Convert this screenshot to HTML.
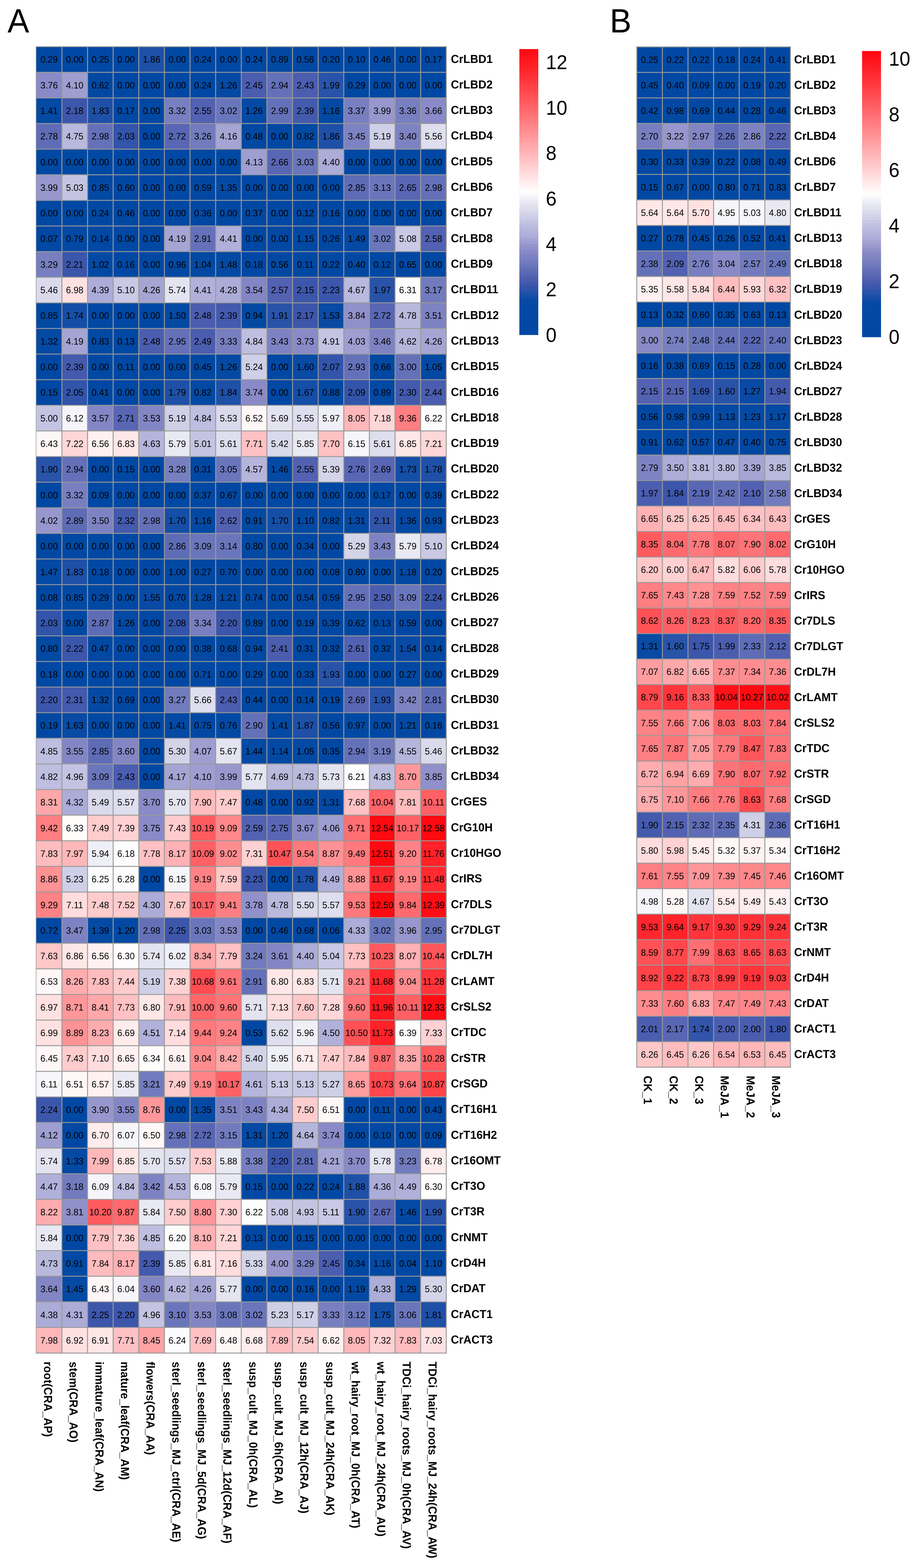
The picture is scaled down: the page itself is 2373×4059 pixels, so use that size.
<!DOCTYPE html>
<html><head><meta charset="utf-8"><title>Heatmap</title>
<style>html,body{margin:0;padding:0;background:#fff;}svg{display:block;}</style></head>
<body><svg width="2373" height="4059" viewBox="0 0 2373 4059" font-family="'Liberation Sans', Arial, Helvetica, sans-serif" fill="#000" text-rendering="geometricPrecision">
<rect width="2373" height="4059" fill="#fff"/>
<rect x="93.9" y="120.85" width="66.91" height="66.91" fill="#0148a3"/>
<rect x="160.21" y="120.85" width="66.91" height="66.91" fill="#0048a3"/>
<rect x="226.52" y="120.85" width="66.91" height="66.91" fill="#0048a3"/>
<rect x="292.83" y="120.85" width="66.91" height="66.91" fill="#0048a3"/>
<rect x="359.14" y="120.85" width="66.91" height="66.91" fill="#1e50a7"/>
<rect x="425.45" y="120.85" width="66.91" height="66.91" fill="#0048a3"/>
<rect x="491.76" y="120.85" width="66.91" height="66.91" fill="#0048a3"/>
<rect x="558.07" y="120.85" width="66.91" height="66.91" fill="#0048a3"/>
<rect x="624.38" y="120.85" width="66.91" height="66.91" fill="#0048a3"/>
<rect x="690.69" y="120.85" width="66.91" height="66.91" fill="#0249a3"/>
<rect x="757" y="120.85" width="66.91" height="66.91" fill="#0248a3"/>
<rect x="823.31" y="120.85" width="66.91" height="66.91" fill="#0048a3"/>
<rect x="889.62" y="120.85" width="66.91" height="66.91" fill="#0048a3"/>
<rect x="955.93" y="120.85" width="66.91" height="66.91" fill="#0148a3"/>
<rect x="1022.24" y="120.85" width="66.91" height="66.91" fill="#0048a3"/>
<rect x="1088.55" y="120.85" width="66.91" height="66.91" fill="#0048a3"/>
<rect x="93.9" y="187.16" width="66.91" height="66.91" fill="#898ac7"/>
<rect x="160.21" y="187.16" width="66.91" height="66.91" fill="#9e9ed1"/>
<rect x="226.52" y="187.16" width="66.91" height="66.91" fill="#0248a3"/>
<rect x="292.83" y="187.16" width="66.91" height="66.91" fill="#0048a3"/>
<rect x="359.14" y="187.16" width="66.91" height="66.91" fill="#0048a3"/>
<rect x="425.45" y="187.16" width="66.91" height="66.91" fill="#0048a3"/>
<rect x="491.76" y="187.16" width="66.91" height="66.91" fill="#0048a3"/>
<rect x="558.07" y="187.16" width="66.91" height="66.91" fill="#0449a3"/>
<rect x="624.38" y="187.16" width="66.91" height="66.91" fill="#4b5daf"/>
<rect x="690.69" y="187.16" width="66.91" height="66.91" fill="#6471b9"/>
<rect x="757" y="187.16" width="66.91" height="66.91" fill="#4b5daf"/>
<rect x="823.31" y="187.16" width="66.91" height="66.91" fill="#2853a9"/>
<rect x="889.62" y="187.16" width="66.91" height="66.91" fill="#0148a3"/>
<rect x="955.93" y="187.16" width="66.91" height="66.91" fill="#0048a3"/>
<rect x="1022.24" y="187.16" width="66.91" height="66.91" fill="#0048a3"/>
<rect x="1088.55" y="187.16" width="66.91" height="66.91" fill="#0048a3"/>
<rect x="93.9" y="253.47" width="66.91" height="66.91" fill="#0449a3"/>
<rect x="160.21" y="253.47" width="66.91" height="66.91" fill="#3c56ab"/>
<rect x="226.52" y="253.47" width="66.91" height="66.91" fill="#1e50a7"/>
<rect x="292.83" y="253.47" width="66.91" height="66.91" fill="#0048a3"/>
<rect x="359.14" y="253.47" width="66.91" height="66.91" fill="#0048a3"/>
<rect x="425.45" y="253.47" width="66.91" height="66.91" fill="#777fc0"/>
<rect x="491.76" y="253.47" width="66.91" height="66.91" fill="#5261b1"/>
<rect x="558.07" y="253.47" width="66.91" height="66.91" fill="#6a76bb"/>
<rect x="624.38" y="253.47" width="66.91" height="66.91" fill="#0449a3"/>
<rect x="690.69" y="253.47" width="66.91" height="66.91" fill="#6471b9"/>
<rect x="757" y="253.47" width="66.91" height="66.91" fill="#435aad"/>
<rect x="823.31" y="253.47" width="66.91" height="66.91" fill="#0349a3"/>
<rect x="889.62" y="253.47" width="66.91" height="66.91" fill="#777fc0"/>
<rect x="955.93" y="253.47" width="66.91" height="66.91" fill="#9797cd"/>
<rect x="1022.24" y="253.47" width="66.91" height="66.91" fill="#777fc0"/>
<rect x="1088.55" y="253.47" width="66.91" height="66.91" fill="#898ac7"/>
<rect x="93.9" y="319.78" width="66.91" height="66.91" fill="#5e6cb6"/>
<rect x="160.21" y="319.78" width="66.91" height="66.91" fill="#b9b9de"/>
<rect x="226.52" y="319.78" width="66.91" height="66.91" fill="#6471b9"/>
<rect x="292.83" y="319.78" width="66.91" height="66.91" fill="#3254aa"/>
<rect x="359.14" y="319.78" width="66.91" height="66.91" fill="#0048a3"/>
<rect x="425.45" y="319.78" width="66.91" height="66.91" fill="#5866b4"/>
<rect x="491.76" y="319.78" width="66.91" height="66.91" fill="#717bbd"/>
<rect x="558.07" y="319.78" width="66.91" height="66.91" fill="#a5a5d4"/>
<rect x="624.38" y="319.78" width="66.91" height="66.91" fill="#0148a3"/>
<rect x="690.69" y="319.78" width="66.91" height="66.91" fill="#0048a3"/>
<rect x="757" y="319.78" width="66.91" height="66.91" fill="#0249a3"/>
<rect x="823.31" y="319.78" width="66.91" height="66.91" fill="#1e50a7"/>
<rect x="889.62" y="319.78" width="66.91" height="66.91" fill="#7d83c2"/>
<rect x="955.93" y="319.78" width="66.91" height="66.91" fill="#cfcfe7"/>
<rect x="1022.24" y="319.78" width="66.91" height="66.91" fill="#7d83c2"/>
<rect x="1088.55" y="319.78" width="66.91" height="66.91" fill="#dedeee"/>
<rect x="93.9" y="386.09" width="66.91" height="66.91" fill="#0048a3"/>
<rect x="160.21" y="386.09" width="66.91" height="66.91" fill="#0048a3"/>
<rect x="226.52" y="386.09" width="66.91" height="66.91" fill="#0048a3"/>
<rect x="292.83" y="386.09" width="66.91" height="66.91" fill="#0048a3"/>
<rect x="359.14" y="386.09" width="66.91" height="66.91" fill="#0048a3"/>
<rect x="425.45" y="386.09" width="66.91" height="66.91" fill="#0048a3"/>
<rect x="491.76" y="386.09" width="66.91" height="66.91" fill="#0048a3"/>
<rect x="558.07" y="386.09" width="66.91" height="66.91" fill="#0048a3"/>
<rect x="624.38" y="386.09" width="66.91" height="66.91" fill="#9e9ed1"/>
<rect x="690.69" y="386.09" width="66.91" height="66.91" fill="#5866b4"/>
<rect x="757" y="386.09" width="66.91" height="66.91" fill="#6a76bb"/>
<rect x="823.31" y="386.09" width="66.91" height="66.91" fill="#acacd8"/>
<rect x="889.62" y="386.09" width="66.91" height="66.91" fill="#0048a3"/>
<rect x="955.93" y="386.09" width="66.91" height="66.91" fill="#0048a3"/>
<rect x="1022.24" y="386.09" width="66.91" height="66.91" fill="#0048a3"/>
<rect x="1088.55" y="386.09" width="66.91" height="66.91" fill="#0048a3"/>
<rect x="93.9" y="452.4" width="66.91" height="66.91" fill="#9797cd"/>
<rect x="160.21" y="452.4" width="66.91" height="66.91" fill="#c4c4e2"/>
<rect x="226.52" y="452.4" width="66.91" height="66.91" fill="#0249a3"/>
<rect x="292.83" y="452.4" width="66.91" height="66.91" fill="#0248a3"/>
<rect x="359.14" y="452.4" width="66.91" height="66.91" fill="#0048a3"/>
<rect x="425.45" y="452.4" width="66.91" height="66.91" fill="#0048a3"/>
<rect x="491.76" y="452.4" width="66.91" height="66.91" fill="#0248a3"/>
<rect x="558.07" y="452.4" width="66.91" height="66.91" fill="#0449a3"/>
<rect x="624.38" y="452.4" width="66.91" height="66.91" fill="#0048a3"/>
<rect x="690.69" y="452.4" width="66.91" height="66.91" fill="#0048a3"/>
<rect x="757" y="452.4" width="66.91" height="66.91" fill="#0048a3"/>
<rect x="823.31" y="452.4" width="66.91" height="66.91" fill="#0048a3"/>
<rect x="889.62" y="452.4" width="66.91" height="66.91" fill="#5e6cb6"/>
<rect x="955.93" y="452.4" width="66.91" height="66.91" fill="#6a76bb"/>
<rect x="1022.24" y="452.4" width="66.91" height="66.91" fill="#5866b4"/>
<rect x="1088.55" y="452.4" width="66.91" height="66.91" fill="#6471b9"/>
<rect x="93.9" y="518.71" width="66.91" height="66.91" fill="#0048a3"/>
<rect x="160.21" y="518.71" width="66.91" height="66.91" fill="#0048a3"/>
<rect x="226.52" y="518.71" width="66.91" height="66.91" fill="#0048a3"/>
<rect x="292.83" y="518.71" width="66.91" height="66.91" fill="#0148a3"/>
<rect x="359.14" y="518.71" width="66.91" height="66.91" fill="#0048a3"/>
<rect x="425.45" y="518.71" width="66.91" height="66.91" fill="#0048a3"/>
<rect x="491.76" y="518.71" width="66.91" height="66.91" fill="#0148a3"/>
<rect x="558.07" y="518.71" width="66.91" height="66.91" fill="#0048a3"/>
<rect x="624.38" y="518.71" width="66.91" height="66.91" fill="#0148a3"/>
<rect x="690.69" y="518.71" width="66.91" height="66.91" fill="#0048a3"/>
<rect x="757" y="518.71" width="66.91" height="66.91" fill="#0048a3"/>
<rect x="823.31" y="518.71" width="66.91" height="66.91" fill="#0048a3"/>
<rect x="889.62" y="518.71" width="66.91" height="66.91" fill="#0048a3"/>
<rect x="955.93" y="518.71" width="66.91" height="66.91" fill="#0048a3"/>
<rect x="1022.24" y="518.71" width="66.91" height="66.91" fill="#0048a3"/>
<rect x="1088.55" y="518.71" width="66.91" height="66.91" fill="#0048a3"/>
<rect x="93.9" y="585.02" width="66.91" height="66.91" fill="#0048a3"/>
<rect x="160.21" y="585.02" width="66.91" height="66.91" fill="#0249a3"/>
<rect x="226.52" y="585.02" width="66.91" height="66.91" fill="#0048a3"/>
<rect x="292.83" y="585.02" width="66.91" height="66.91" fill="#0048a3"/>
<rect x="359.14" y="585.02" width="66.91" height="66.91" fill="#0048a3"/>
<rect x="425.45" y="585.02" width="66.91" height="66.91" fill="#a5a5d4"/>
<rect x="491.76" y="585.02" width="66.91" height="66.91" fill="#6471b9"/>
<rect x="558.07" y="585.02" width="66.91" height="66.91" fill="#b0b0da"/>
<rect x="624.38" y="585.02" width="66.91" height="66.91" fill="#0048a3"/>
<rect x="690.69" y="585.02" width="66.91" height="66.91" fill="#0048a3"/>
<rect x="757" y="585.02" width="66.91" height="66.91" fill="#0349a3"/>
<rect x="823.31" y="585.02" width="66.91" height="66.91" fill="#0148a3"/>
<rect x="889.62" y="585.02" width="66.91" height="66.91" fill="#0449a3"/>
<rect x="955.93" y="585.02" width="66.91" height="66.91" fill="#6a76bb"/>
<rect x="1022.24" y="585.02" width="66.91" height="66.91" fill="#c9c9e5"/>
<rect x="1088.55" y="585.02" width="66.91" height="66.91" fill="#5261b1"/>
<rect x="93.9" y="651.33" width="66.91" height="66.91" fill="#777fc0"/>
<rect x="160.21" y="651.33" width="66.91" height="66.91" fill="#3c56ab"/>
<rect x="226.52" y="651.33" width="66.91" height="66.91" fill="#0349a3"/>
<rect x="292.83" y="651.33" width="66.91" height="66.91" fill="#0048a3"/>
<rect x="359.14" y="651.33" width="66.91" height="66.91" fill="#0048a3"/>
<rect x="425.45" y="651.33" width="66.91" height="66.91" fill="#0249a3"/>
<rect x="491.76" y="651.33" width="66.91" height="66.91" fill="#0349a3"/>
<rect x="558.07" y="651.33" width="66.91" height="66.91" fill="#0449a3"/>
<rect x="624.38" y="651.33" width="66.91" height="66.91" fill="#0048a3"/>
<rect x="690.69" y="651.33" width="66.91" height="66.91" fill="#0248a3"/>
<rect x="757" y="651.33" width="66.91" height="66.91" fill="#0048a3"/>
<rect x="823.31" y="651.33" width="66.91" height="66.91" fill="#0048a3"/>
<rect x="889.62" y="651.33" width="66.91" height="66.91" fill="#0148a3"/>
<rect x="955.93" y="651.33" width="66.91" height="66.91" fill="#0048a3"/>
<rect x="1022.24" y="651.33" width="66.91" height="66.91" fill="#0248a3"/>
<rect x="1088.55" y="651.33" width="66.91" height="66.91" fill="#0048a3"/>
<rect x="93.9" y="717.64" width="66.91" height="66.91" fill="#dadaec"/>
<rect x="160.21" y="717.64" width="66.91" height="66.91" fill="#ffe1e2"/>
<rect x="226.52" y="717.64" width="66.91" height="66.91" fill="#acacd8"/>
<rect x="292.83" y="717.64" width="66.91" height="66.91" fill="#c9c9e5"/>
<rect x="359.14" y="717.64" width="66.91" height="66.91" fill="#a5a5d4"/>
<rect x="425.45" y="717.64" width="66.91" height="66.91" fill="#e4e4f1"/>
<rect x="491.76" y="717.64" width="66.91" height="66.91" fill="#b0b0da"/>
<rect x="558.07" y="717.64" width="66.91" height="66.91" fill="#acacd8"/>
<rect x="624.38" y="717.64" width="66.91" height="66.91" fill="#8386c4"/>
<rect x="690.69" y="717.64" width="66.91" height="66.91" fill="#5261b1"/>
<rect x="757" y="717.64" width="66.91" height="66.91" fill="#3c56ab"/>
<rect x="823.31" y="717.64" width="66.91" height="66.91" fill="#3c56ab"/>
<rect x="889.62" y="717.64" width="66.91" height="66.91" fill="#b9b9de"/>
<rect x="955.93" y="717.64" width="66.91" height="66.91" fill="#2853a9"/>
<rect x="1022.24" y="717.64" width="66.91" height="66.91" fill="#fffcfc"/>
<rect x="1088.55" y="717.64" width="66.91" height="66.91" fill="#717bbd"/>
<rect x="93.9" y="783.95" width="66.91" height="66.91" fill="#0249a3"/>
<rect x="160.21" y="783.95" width="66.91" height="66.91" fill="#144ea6"/>
<rect x="226.52" y="783.95" width="66.91" height="66.91" fill="#0048a3"/>
<rect x="292.83" y="783.95" width="66.91" height="66.91" fill="#0048a3"/>
<rect x="359.14" y="783.95" width="66.91" height="66.91" fill="#0048a3"/>
<rect x="425.45" y="783.95" width="66.91" height="66.91" fill="#0449a3"/>
<rect x="491.76" y="783.95" width="66.91" height="66.91" fill="#4b5daf"/>
<rect x="558.07" y="783.95" width="66.91" height="66.91" fill="#435aad"/>
<rect x="624.38" y="783.95" width="66.91" height="66.91" fill="#0249a3"/>
<rect x="690.69" y="783.95" width="66.91" height="66.91" fill="#2853a9"/>
<rect x="757" y="783.95" width="66.91" height="66.91" fill="#3c56ab"/>
<rect x="823.31" y="783.95" width="66.91" height="66.91" fill="#094aa4"/>
<rect x="889.62" y="783.95" width="66.91" height="66.91" fill="#9090ca"/>
<rect x="955.93" y="783.95" width="66.91" height="66.91" fill="#5866b4"/>
<rect x="1022.24" y="783.95" width="66.91" height="66.91" fill="#b9b9de"/>
<rect x="1088.55" y="783.95" width="66.91" height="66.91" fill="#7d83c2"/>
<rect x="93.9" y="850.26" width="66.91" height="66.91" fill="#0449a3"/>
<rect x="160.21" y="850.26" width="66.91" height="66.91" fill="#a5a5d4"/>
<rect x="226.52" y="850.26" width="66.91" height="66.91" fill="#0249a3"/>
<rect x="292.83" y="850.26" width="66.91" height="66.91" fill="#0048a3"/>
<rect x="359.14" y="850.26" width="66.91" height="66.91" fill="#4b5daf"/>
<rect x="425.45" y="850.26" width="66.91" height="66.91" fill="#6471b9"/>
<rect x="491.76" y="850.26" width="66.91" height="66.91" fill="#4b5daf"/>
<rect x="558.07" y="850.26" width="66.91" height="66.91" fill="#777fc0"/>
<rect x="624.38" y="850.26" width="66.91" height="66.91" fill="#bebee0"/>
<rect x="690.69" y="850.26" width="66.91" height="66.91" fill="#7d83c2"/>
<rect x="757" y="850.26" width="66.91" height="66.91" fill="#898ac7"/>
<rect x="823.31" y="850.26" width="66.91" height="66.91" fill="#c4c4e2"/>
<rect x="889.62" y="850.26" width="66.91" height="66.91" fill="#9e9ed1"/>
<rect x="955.93" y="850.26" width="66.91" height="66.91" fill="#7d83c2"/>
<rect x="1022.24" y="850.26" width="66.91" height="66.91" fill="#b5b5dc"/>
<rect x="1088.55" y="850.26" width="66.91" height="66.91" fill="#a5a5d4"/>
<rect x="93.9" y="916.57" width="66.91" height="66.91" fill="#0048a3"/>
<rect x="160.21" y="916.57" width="66.91" height="66.91" fill="#435aad"/>
<rect x="226.52" y="916.57" width="66.91" height="66.91" fill="#0048a3"/>
<rect x="292.83" y="916.57" width="66.91" height="66.91" fill="#0048a3"/>
<rect x="359.14" y="916.57" width="66.91" height="66.91" fill="#0048a3"/>
<rect x="425.45" y="916.57" width="66.91" height="66.91" fill="#0048a3"/>
<rect x="491.76" y="916.57" width="66.91" height="66.91" fill="#0148a3"/>
<rect x="558.07" y="916.57" width="66.91" height="66.91" fill="#0449a3"/>
<rect x="624.38" y="916.57" width="66.91" height="66.91" fill="#cfcfe7"/>
<rect x="690.69" y="916.57" width="66.91" height="66.91" fill="#0048a3"/>
<rect x="757" y="916.57" width="66.91" height="66.91" fill="#094aa4"/>
<rect x="823.31" y="916.57" width="66.91" height="66.91" fill="#3254aa"/>
<rect x="889.62" y="916.57" width="66.91" height="66.91" fill="#6471b9"/>
<rect x="955.93" y="916.57" width="66.91" height="66.91" fill="#0248a3"/>
<rect x="1022.24" y="916.57" width="66.91" height="66.91" fill="#6471b9"/>
<rect x="1088.55" y="916.57" width="66.91" height="66.91" fill="#0349a3"/>
<rect x="93.9" y="982.88" width="66.91" height="66.91" fill="#0048a3"/>
<rect x="160.21" y="982.88" width="66.91" height="66.91" fill="#3254aa"/>
<rect x="226.52" y="982.88" width="66.91" height="66.91" fill="#0148a3"/>
<rect x="292.83" y="982.88" width="66.91" height="66.91" fill="#0048a3"/>
<rect x="359.14" y="982.88" width="66.91" height="66.91" fill="#0048a3"/>
<rect x="425.45" y="982.88" width="66.91" height="66.91" fill="#1e50a7"/>
<rect x="491.76" y="982.88" width="66.91" height="66.91" fill="#0249a3"/>
<rect x="558.07" y="982.88" width="66.91" height="66.91" fill="#1e50a7"/>
<rect x="624.38" y="982.88" width="66.91" height="66.91" fill="#898ac7"/>
<rect x="690.69" y="982.88" width="66.91" height="66.91" fill="#0048a3"/>
<rect x="757" y="982.88" width="66.91" height="66.91" fill="#144ea6"/>
<rect x="823.31" y="982.88" width="66.91" height="66.91" fill="#0249a3"/>
<rect x="889.62" y="982.88" width="66.91" height="66.91" fill="#3254aa"/>
<rect x="955.93" y="982.88" width="66.91" height="66.91" fill="#0249a3"/>
<rect x="1022.24" y="982.88" width="66.91" height="66.91" fill="#435aad"/>
<rect x="1088.55" y="982.88" width="66.91" height="66.91" fill="#4b5daf"/>
<rect x="93.9" y="1049.19" width="66.91" height="66.91" fill="#c4c4e2"/>
<rect x="160.21" y="1049.19" width="66.91" height="66.91" fill="#f6f6fa"/>
<rect x="226.52" y="1049.19" width="66.91" height="66.91" fill="#8386c4"/>
<rect x="292.83" y="1049.19" width="66.91" height="66.91" fill="#5866b4"/>
<rect x="359.14" y="1049.19" width="66.91" height="66.91" fill="#8386c4"/>
<rect x="425.45" y="1049.19" width="66.91" height="66.91" fill="#cfcfe7"/>
<rect x="491.76" y="1049.19" width="66.91" height="66.91" fill="#bebee0"/>
<rect x="558.07" y="1049.19" width="66.91" height="66.91" fill="#dadaec"/>
<rect x="624.38" y="1049.19" width="66.91" height="66.91" fill="#fff7f7"/>
<rect x="690.69" y="1049.19" width="66.91" height="66.91" fill="#e4e4f1"/>
<rect x="757" y="1049.19" width="66.91" height="66.91" fill="#dedeee"/>
<rect x="823.31" y="1049.19" width="66.91" height="66.91" fill="#efeff7"/>
<rect x="889.62" y="1049.19" width="66.91" height="66.91" fill="#ffb7b9"/>
<rect x="955.93" y="1049.19" width="66.91" height="66.91" fill="#ffd7d8"/>
<rect x="1022.24" y="1049.19" width="66.91" height="66.91" fill="#ff7e81"/>
<rect x="1088.55" y="1049.19" width="66.91" height="66.91" fill="#fcfcfd"/>
<rect x="93.9" y="1115.5" width="66.91" height="66.91" fill="#fff7f7"/>
<rect x="160.21" y="1115.5" width="66.91" height="66.91" fill="#ffd7d8"/>
<rect x="226.52" y="1115.5" width="66.91" height="66.91" fill="#fff1f2"/>
<rect x="292.83" y="1115.5" width="66.91" height="66.91" fill="#ffe7e7"/>
<rect x="359.14" y="1115.5" width="66.91" height="66.91" fill="#b5b5dc"/>
<rect x="425.45" y="1115.5" width="66.91" height="66.91" fill="#e9e9f4"/>
<rect x="491.76" y="1115.5" width="66.91" height="66.91" fill="#c4c4e2"/>
<rect x="558.07" y="1115.5" width="66.91" height="66.91" fill="#dedeee"/>
<rect x="624.38" y="1115.5" width="66.91" height="66.91" fill="#ffc1c3"/>
<rect x="690.69" y="1115.5" width="66.91" height="66.91" fill="#dadaec"/>
<rect x="757" y="1115.5" width="66.91" height="66.91" fill="#e9e9f4"/>
<rect x="823.31" y="1115.5" width="66.91" height="66.91" fill="#ffc1c3"/>
<rect x="889.62" y="1115.5" width="66.91" height="66.91" fill="#f6f6fa"/>
<rect x="955.93" y="1115.5" width="66.91" height="66.91" fill="#dedeee"/>
<rect x="1022.24" y="1115.5" width="66.91" height="66.91" fill="#ffe7e7"/>
<rect x="1088.55" y="1115.5" width="66.91" height="66.91" fill="#ffd7d8"/>
<rect x="93.9" y="1181.81" width="66.91" height="66.91" fill="#2853a9"/>
<rect x="160.21" y="1181.81" width="66.91" height="66.91" fill="#6471b9"/>
<rect x="226.52" y="1181.81" width="66.91" height="66.91" fill="#0048a3"/>
<rect x="292.83" y="1181.81" width="66.91" height="66.91" fill="#0048a3"/>
<rect x="359.14" y="1181.81" width="66.91" height="66.91" fill="#0048a3"/>
<rect x="425.45" y="1181.81" width="66.91" height="66.91" fill="#777fc0"/>
<rect x="491.76" y="1181.81" width="66.91" height="66.91" fill="#0148a3"/>
<rect x="558.07" y="1181.81" width="66.91" height="66.91" fill="#6a76bb"/>
<rect x="624.38" y="1181.81" width="66.91" height="66.91" fill="#b5b5dc"/>
<rect x="690.69" y="1181.81" width="66.91" height="66.91" fill="#0449a3"/>
<rect x="757" y="1181.81" width="66.91" height="66.91" fill="#5261b1"/>
<rect x="823.31" y="1181.81" width="66.91" height="66.91" fill="#d4d4e9"/>
<rect x="889.62" y="1181.81" width="66.91" height="66.91" fill="#5866b4"/>
<rect x="955.93" y="1181.81" width="66.91" height="66.91" fill="#5866b4"/>
<rect x="1022.24" y="1181.81" width="66.91" height="66.91" fill="#144ea6"/>
<rect x="1088.55" y="1181.81" width="66.91" height="66.91" fill="#1e50a7"/>
<rect x="93.9" y="1248.12" width="66.91" height="66.91" fill="#0048a3"/>
<rect x="160.21" y="1248.12" width="66.91" height="66.91" fill="#777fc0"/>
<rect x="226.52" y="1248.12" width="66.91" height="66.91" fill="#0048a3"/>
<rect x="292.83" y="1248.12" width="66.91" height="66.91" fill="#0048a3"/>
<rect x="359.14" y="1248.12" width="66.91" height="66.91" fill="#0048a3"/>
<rect x="425.45" y="1248.12" width="66.91" height="66.91" fill="#0048a3"/>
<rect x="491.76" y="1248.12" width="66.91" height="66.91" fill="#0148a3"/>
<rect x="558.07" y="1248.12" width="66.91" height="66.91" fill="#0248a3"/>
<rect x="624.38" y="1248.12" width="66.91" height="66.91" fill="#0048a3"/>
<rect x="690.69" y="1248.12" width="66.91" height="66.91" fill="#0048a3"/>
<rect x="757" y="1248.12" width="66.91" height="66.91" fill="#0048a3"/>
<rect x="823.31" y="1248.12" width="66.91" height="66.91" fill="#0048a3"/>
<rect x="889.62" y="1248.12" width="66.91" height="66.91" fill="#0048a3"/>
<rect x="955.93" y="1248.12" width="66.91" height="66.91" fill="#0048a3"/>
<rect x="1022.24" y="1248.12" width="66.91" height="66.91" fill="#0048a3"/>
<rect x="1088.55" y="1248.12" width="66.91" height="66.91" fill="#0148a3"/>
<rect x="93.9" y="1314.43" width="66.91" height="66.91" fill="#9797cd"/>
<rect x="160.21" y="1314.43" width="66.91" height="66.91" fill="#5e6cb6"/>
<rect x="226.52" y="1314.43" width="66.91" height="66.91" fill="#7d83c2"/>
<rect x="292.83" y="1314.43" width="66.91" height="66.91" fill="#435aad"/>
<rect x="359.14" y="1314.43" width="66.91" height="66.91" fill="#6471b9"/>
<rect x="425.45" y="1314.43" width="66.91" height="66.91" fill="#144ea6"/>
<rect x="491.76" y="1314.43" width="66.91" height="66.91" fill="#0349a3"/>
<rect x="558.07" y="1314.43" width="66.91" height="66.91" fill="#5261b1"/>
<rect x="624.38" y="1314.43" width="66.91" height="66.91" fill="#0249a3"/>
<rect x="690.69" y="1314.43" width="66.91" height="66.91" fill="#144ea6"/>
<rect x="757" y="1314.43" width="66.91" height="66.91" fill="#0349a3"/>
<rect x="823.31" y="1314.43" width="66.91" height="66.91" fill="#0249a3"/>
<rect x="889.62" y="1314.43" width="66.91" height="66.91" fill="#0449a3"/>
<rect x="955.93" y="1314.43" width="66.91" height="66.91" fill="#3254aa"/>
<rect x="1022.24" y="1314.43" width="66.91" height="66.91" fill="#0449a3"/>
<rect x="1088.55" y="1314.43" width="66.91" height="66.91" fill="#0249a3"/>
<rect x="93.9" y="1380.74" width="66.91" height="66.91" fill="#0048a3"/>
<rect x="160.21" y="1380.74" width="66.91" height="66.91" fill="#0048a3"/>
<rect x="226.52" y="1380.74" width="66.91" height="66.91" fill="#0048a3"/>
<rect x="292.83" y="1380.74" width="66.91" height="66.91" fill="#0048a3"/>
<rect x="359.14" y="1380.74" width="66.91" height="66.91" fill="#0048a3"/>
<rect x="425.45" y="1380.74" width="66.91" height="66.91" fill="#5e6cb6"/>
<rect x="491.76" y="1380.74" width="66.91" height="66.91" fill="#6a76bb"/>
<rect x="558.07" y="1380.74" width="66.91" height="66.91" fill="#6a76bb"/>
<rect x="624.38" y="1380.74" width="66.91" height="66.91" fill="#0249a3"/>
<rect x="690.69" y="1380.74" width="66.91" height="66.91" fill="#0048a3"/>
<rect x="757" y="1380.74" width="66.91" height="66.91" fill="#0148a3"/>
<rect x="823.31" y="1380.74" width="66.91" height="66.91" fill="#0048a3"/>
<rect x="889.62" y="1380.74" width="66.91" height="66.91" fill="#d4d4e9"/>
<rect x="955.93" y="1380.74" width="66.91" height="66.91" fill="#7d83c2"/>
<rect x="1022.24" y="1380.74" width="66.91" height="66.91" fill="#e9e9f4"/>
<rect x="1088.55" y="1380.74" width="66.91" height="66.91" fill="#c9c9e5"/>
<rect x="93.9" y="1447.05" width="66.91" height="66.91" fill="#0449a3"/>
<rect x="160.21" y="1447.05" width="66.91" height="66.91" fill="#1e50a7"/>
<rect x="226.52" y="1447.05" width="66.91" height="66.91" fill="#0048a3"/>
<rect x="292.83" y="1447.05" width="66.91" height="66.91" fill="#0048a3"/>
<rect x="359.14" y="1447.05" width="66.91" height="66.91" fill="#0048a3"/>
<rect x="425.45" y="1447.05" width="66.91" height="66.91" fill="#0249a3"/>
<rect x="491.76" y="1447.05" width="66.91" height="66.91" fill="#0148a3"/>
<rect x="558.07" y="1447.05" width="66.91" height="66.91" fill="#0248a3"/>
<rect x="624.38" y="1447.05" width="66.91" height="66.91" fill="#0048a3"/>
<rect x="690.69" y="1447.05" width="66.91" height="66.91" fill="#0048a3"/>
<rect x="757" y="1447.05" width="66.91" height="66.91" fill="#0048a3"/>
<rect x="823.31" y="1447.05" width="66.91" height="66.91" fill="#0048a3"/>
<rect x="889.62" y="1447.05" width="66.91" height="66.91" fill="#0249a3"/>
<rect x="955.93" y="1447.05" width="66.91" height="66.91" fill="#0048a3"/>
<rect x="1022.24" y="1447.05" width="66.91" height="66.91" fill="#0349a3"/>
<rect x="1088.55" y="1447.05" width="66.91" height="66.91" fill="#0048a3"/>
<rect x="93.9" y="1513.36" width="66.91" height="66.91" fill="#0048a3"/>
<rect x="160.21" y="1513.36" width="66.91" height="66.91" fill="#0249a3"/>
<rect x="226.52" y="1513.36" width="66.91" height="66.91" fill="#0148a3"/>
<rect x="292.83" y="1513.36" width="66.91" height="66.91" fill="#0048a3"/>
<rect x="359.14" y="1513.36" width="66.91" height="66.91" fill="#094aa4"/>
<rect x="425.45" y="1513.36" width="66.91" height="66.91" fill="#0248a3"/>
<rect x="491.76" y="1513.36" width="66.91" height="66.91" fill="#0449a3"/>
<rect x="558.07" y="1513.36" width="66.91" height="66.91" fill="#0349a3"/>
<rect x="624.38" y="1513.36" width="66.91" height="66.91" fill="#0248a3"/>
<rect x="690.69" y="1513.36" width="66.91" height="66.91" fill="#0048a3"/>
<rect x="757" y="1513.36" width="66.91" height="66.91" fill="#0248a3"/>
<rect x="823.31" y="1513.36" width="66.91" height="66.91" fill="#0248a3"/>
<rect x="889.62" y="1513.36" width="66.91" height="66.91" fill="#6471b9"/>
<rect x="955.93" y="1513.36" width="66.91" height="66.91" fill="#4b5daf"/>
<rect x="1022.24" y="1513.36" width="66.91" height="66.91" fill="#6a76bb"/>
<rect x="1088.55" y="1513.36" width="66.91" height="66.91" fill="#3c56ab"/>
<rect x="93.9" y="1579.67" width="66.91" height="66.91" fill="#3254aa"/>
<rect x="160.21" y="1579.67" width="66.91" height="66.91" fill="#0048a3"/>
<rect x="226.52" y="1579.67" width="66.91" height="66.91" fill="#5e6cb6"/>
<rect x="292.83" y="1579.67" width="66.91" height="66.91" fill="#0449a3"/>
<rect x="359.14" y="1579.67" width="66.91" height="66.91" fill="#0048a3"/>
<rect x="425.45" y="1579.67" width="66.91" height="66.91" fill="#3254aa"/>
<rect x="491.76" y="1579.67" width="66.91" height="66.91" fill="#777fc0"/>
<rect x="558.07" y="1579.67" width="66.91" height="66.91" fill="#3c56ab"/>
<rect x="624.38" y="1579.67" width="66.91" height="66.91" fill="#0249a3"/>
<rect x="690.69" y="1579.67" width="66.91" height="66.91" fill="#0048a3"/>
<rect x="757" y="1579.67" width="66.91" height="66.91" fill="#0048a3"/>
<rect x="823.31" y="1579.67" width="66.91" height="66.91" fill="#0148a3"/>
<rect x="889.62" y="1579.67" width="66.91" height="66.91" fill="#0248a3"/>
<rect x="955.93" y="1579.67" width="66.91" height="66.91" fill="#0048a3"/>
<rect x="1022.24" y="1579.67" width="66.91" height="66.91" fill="#0248a3"/>
<rect x="1088.55" y="1579.67" width="66.91" height="66.91" fill="#0048a3"/>
<rect x="93.9" y="1645.98" width="66.91" height="66.91" fill="#0249a3"/>
<rect x="160.21" y="1645.98" width="66.91" height="66.91" fill="#3c56ab"/>
<rect x="226.52" y="1645.98" width="66.91" height="66.91" fill="#0148a3"/>
<rect x="292.83" y="1645.98" width="66.91" height="66.91" fill="#0048a3"/>
<rect x="359.14" y="1645.98" width="66.91" height="66.91" fill="#0048a3"/>
<rect x="425.45" y="1645.98" width="66.91" height="66.91" fill="#0048a3"/>
<rect x="491.76" y="1645.98" width="66.91" height="66.91" fill="#0148a3"/>
<rect x="558.07" y="1645.98" width="66.91" height="66.91" fill="#0248a3"/>
<rect x="624.38" y="1645.98" width="66.91" height="66.91" fill="#0249a3"/>
<rect x="690.69" y="1645.98" width="66.91" height="66.91" fill="#4b5daf"/>
<rect x="757" y="1645.98" width="66.91" height="66.91" fill="#0148a3"/>
<rect x="823.31" y="1645.98" width="66.91" height="66.91" fill="#0148a3"/>
<rect x="889.62" y="1645.98" width="66.91" height="66.91" fill="#5261b1"/>
<rect x="955.93" y="1645.98" width="66.91" height="66.91" fill="#0148a3"/>
<rect x="1022.24" y="1645.98" width="66.91" height="66.91" fill="#094aa4"/>
<rect x="1088.55" y="1645.98" width="66.91" height="66.91" fill="#0048a3"/>
<rect x="93.9" y="1712.29" width="66.91" height="66.91" fill="#0048a3"/>
<rect x="160.21" y="1712.29" width="66.91" height="66.91" fill="#0048a3"/>
<rect x="226.52" y="1712.29" width="66.91" height="66.91" fill="#0048a3"/>
<rect x="292.83" y="1712.29" width="66.91" height="66.91" fill="#0048a3"/>
<rect x="359.14" y="1712.29" width="66.91" height="66.91" fill="#0048a3"/>
<rect x="425.45" y="1712.29" width="66.91" height="66.91" fill="#0048a3"/>
<rect x="491.76" y="1712.29" width="66.91" height="66.91" fill="#0248a3"/>
<rect x="558.07" y="1712.29" width="66.91" height="66.91" fill="#0048a3"/>
<rect x="624.38" y="1712.29" width="66.91" height="66.91" fill="#0148a3"/>
<rect x="690.69" y="1712.29" width="66.91" height="66.91" fill="#0048a3"/>
<rect x="757" y="1712.29" width="66.91" height="66.91" fill="#0148a3"/>
<rect x="823.31" y="1712.29" width="66.91" height="66.91" fill="#2853a9"/>
<rect x="889.62" y="1712.29" width="66.91" height="66.91" fill="#0048a3"/>
<rect x="955.93" y="1712.29" width="66.91" height="66.91" fill="#0048a3"/>
<rect x="1022.24" y="1712.29" width="66.91" height="66.91" fill="#0148a3"/>
<rect x="1088.55" y="1712.29" width="66.91" height="66.91" fill="#0048a3"/>
<rect x="93.9" y="1778.6" width="66.91" height="66.91" fill="#3c56ab"/>
<rect x="160.21" y="1778.6" width="66.91" height="66.91" fill="#435aad"/>
<rect x="226.52" y="1778.6" width="66.91" height="66.91" fill="#0449a3"/>
<rect x="292.83" y="1778.6" width="66.91" height="66.91" fill="#0248a3"/>
<rect x="359.14" y="1778.6" width="66.91" height="66.91" fill="#0048a3"/>
<rect x="425.45" y="1778.6" width="66.91" height="66.91" fill="#717bbd"/>
<rect x="491.76" y="1778.6" width="66.91" height="66.91" fill="#dedeee"/>
<rect x="558.07" y="1778.6" width="66.91" height="66.91" fill="#4b5daf"/>
<rect x="624.38" y="1778.6" width="66.91" height="66.91" fill="#0148a3"/>
<rect x="690.69" y="1778.6" width="66.91" height="66.91" fill="#0048a3"/>
<rect x="757" y="1778.6" width="66.91" height="66.91" fill="#0048a3"/>
<rect x="823.31" y="1778.6" width="66.91" height="66.91" fill="#0048a3"/>
<rect x="889.62" y="1778.6" width="66.91" height="66.91" fill="#5866b4"/>
<rect x="955.93" y="1778.6" width="66.91" height="66.91" fill="#2853a9"/>
<rect x="1022.24" y="1778.6" width="66.91" height="66.91" fill="#7d83c2"/>
<rect x="1088.55" y="1778.6" width="66.91" height="66.91" fill="#5e6cb6"/>
<rect x="93.9" y="1844.91" width="66.91" height="66.91" fill="#0048a3"/>
<rect x="160.21" y="1844.91" width="66.91" height="66.91" fill="#094aa4"/>
<rect x="226.52" y="1844.91" width="66.91" height="66.91" fill="#0048a3"/>
<rect x="292.83" y="1844.91" width="66.91" height="66.91" fill="#0048a3"/>
<rect x="359.14" y="1844.91" width="66.91" height="66.91" fill="#0048a3"/>
<rect x="425.45" y="1844.91" width="66.91" height="66.91" fill="#0449a3"/>
<rect x="491.76" y="1844.91" width="66.91" height="66.91" fill="#0248a3"/>
<rect x="558.07" y="1844.91" width="66.91" height="66.91" fill="#0249a3"/>
<rect x="624.38" y="1844.91" width="66.91" height="66.91" fill="#6471b9"/>
<rect x="690.69" y="1844.91" width="66.91" height="66.91" fill="#0449a3"/>
<rect x="757" y="1844.91" width="66.91" height="66.91" fill="#1e50a7"/>
<rect x="823.31" y="1844.91" width="66.91" height="66.91" fill="#0248a3"/>
<rect x="889.62" y="1844.91" width="66.91" height="66.91" fill="#0249a3"/>
<rect x="955.93" y="1844.91" width="66.91" height="66.91" fill="#0048a3"/>
<rect x="1022.24" y="1844.91" width="66.91" height="66.91" fill="#0349a3"/>
<rect x="1088.55" y="1844.91" width="66.91" height="66.91" fill="#0048a3"/>
<rect x="93.9" y="1911.22" width="66.91" height="66.91" fill="#bebee0"/>
<rect x="160.21" y="1911.22" width="66.91" height="66.91" fill="#8386c4"/>
<rect x="226.52" y="1911.22" width="66.91" height="66.91" fill="#5e6cb6"/>
<rect x="292.83" y="1911.22" width="66.91" height="66.91" fill="#8386c4"/>
<rect x="359.14" y="1911.22" width="66.91" height="66.91" fill="#0048a3"/>
<rect x="425.45" y="1911.22" width="66.91" height="66.91" fill="#d4d4e9"/>
<rect x="491.76" y="1911.22" width="66.91" height="66.91" fill="#9e9ed1"/>
<rect x="558.07" y="1911.22" width="66.91" height="66.91" fill="#e4e4f1"/>
<rect x="624.38" y="1911.22" width="66.91" height="66.91" fill="#0449a3"/>
<rect x="690.69" y="1911.22" width="66.91" height="66.91" fill="#0349a3"/>
<rect x="757" y="1911.22" width="66.91" height="66.91" fill="#0349a3"/>
<rect x="823.31" y="1911.22" width="66.91" height="66.91" fill="#0148a3"/>
<rect x="889.62" y="1911.22" width="66.91" height="66.91" fill="#6471b9"/>
<rect x="955.93" y="1911.22" width="66.91" height="66.91" fill="#717bbd"/>
<rect x="1022.24" y="1911.22" width="66.91" height="66.91" fill="#b5b5dc"/>
<rect x="1088.55" y="1911.22" width="66.91" height="66.91" fill="#dadaec"/>
<rect x="93.9" y="1977.53" width="66.91" height="66.91" fill="#bebee0"/>
<rect x="160.21" y="1977.53" width="66.91" height="66.91" fill="#c4c4e2"/>
<rect x="226.52" y="1977.53" width="66.91" height="66.91" fill="#6a76bb"/>
<rect x="292.83" y="1977.53" width="66.91" height="66.91" fill="#4b5daf"/>
<rect x="359.14" y="1977.53" width="66.91" height="66.91" fill="#0048a3"/>
<rect x="425.45" y="1977.53" width="66.91" height="66.91" fill="#a5a5d4"/>
<rect x="491.76" y="1977.53" width="66.91" height="66.91" fill="#9e9ed1"/>
<rect x="558.07" y="1977.53" width="66.91" height="66.91" fill="#9797cd"/>
<rect x="624.38" y="1977.53" width="66.91" height="66.91" fill="#e4e4f1"/>
<rect x="690.69" y="1977.53" width="66.91" height="66.91" fill="#b9b9de"/>
<rect x="757" y="1977.53" width="66.91" height="66.91" fill="#b9b9de"/>
<rect x="823.31" y="1977.53" width="66.91" height="66.91" fill="#e4e4f1"/>
<rect x="889.62" y="1977.53" width="66.91" height="66.91" fill="#fcfcfd"/>
<rect x="955.93" y="1977.53" width="66.91" height="66.91" fill="#bebee0"/>
<rect x="1022.24" y="1977.53" width="66.91" height="66.91" fill="#ff979a"/>
<rect x="1088.55" y="1977.53" width="66.91" height="66.91" fill="#9090ca"/>
<rect x="93.9" y="2043.84" width="66.91" height="66.91" fill="#ffa7a9"/>
<rect x="160.21" y="2043.84" width="66.91" height="66.91" fill="#acacd8"/>
<rect x="226.52" y="2043.84" width="66.91" height="66.91" fill="#dadaec"/>
<rect x="292.83" y="2043.84" width="66.91" height="66.91" fill="#dedeee"/>
<rect x="359.14" y="2043.84" width="66.91" height="66.91" fill="#898ac7"/>
<rect x="425.45" y="2043.84" width="66.91" height="66.91" fill="#e4e4f1"/>
<rect x="491.76" y="2043.84" width="66.91" height="66.91" fill="#ffbcbe"/>
<rect x="558.07" y="2043.84" width="66.91" height="66.91" fill="#ffcccd"/>
<rect x="624.38" y="2043.84" width="66.91" height="66.91" fill="#0148a3"/>
<rect x="690.69" y="2043.84" width="66.91" height="66.91" fill="#0048a3"/>
<rect x="757" y="2043.84" width="66.91" height="66.91" fill="#0249a3"/>
<rect x="823.31" y="2043.84" width="66.91" height="66.91" fill="#0449a3"/>
<rect x="889.62" y="2043.84" width="66.91" height="66.91" fill="#ffc1c3"/>
<rect x="955.93" y="2043.84" width="66.91" height="66.91" fill="#ff6569"/>
<rect x="1022.24" y="2043.84" width="66.91" height="66.91" fill="#ffbcbe"/>
<rect x="1088.55" y="2043.84" width="66.91" height="66.91" fill="#ff6064"/>
<rect x="93.9" y="2110.15" width="66.91" height="66.91" fill="#ff7e81"/>
<rect x="160.21" y="2110.15" width="66.91" height="66.91" fill="#fffcfc"/>
<rect x="226.52" y="2110.15" width="66.91" height="66.91" fill="#ffcccd"/>
<rect x="292.83" y="2110.15" width="66.91" height="66.91" fill="#ffd1d3"/>
<rect x="359.14" y="2110.15" width="66.91" height="66.91" fill="#898ac7"/>
<rect x="425.45" y="2110.15" width="66.91" height="66.91" fill="#ffcccd"/>
<rect x="491.76" y="2110.15" width="66.91" height="66.91" fill="#ff5b5f"/>
<rect x="558.07" y="2110.15" width="66.91" height="66.91" fill="#ff888b"/>
<rect x="624.38" y="2110.15" width="66.91" height="66.91" fill="#5261b1"/>
<rect x="690.69" y="2110.15" width="66.91" height="66.91" fill="#5866b4"/>
<rect x="757" y="2110.15" width="66.91" height="66.91" fill="#898ac7"/>
<rect x="823.31" y="2110.15" width="66.91" height="66.91" fill="#9e9ed1"/>
<rect x="889.62" y="2110.15" width="66.91" height="66.91" fill="#ff6f73"/>
<rect x="955.93" y="2110.15" width="66.91" height="66.91" fill="#ff0a11"/>
<rect x="1022.24" y="2110.15" width="66.91" height="66.91" fill="#ff6064"/>
<rect x="1088.55" y="2110.15" width="66.91" height="66.91" fill="#ff0a11"/>
<rect x="93.9" y="2176.46" width="66.91" height="66.91" fill="#ffbcbe"/>
<rect x="160.21" y="2176.46" width="66.91" height="66.91" fill="#ffb7b9"/>
<rect x="226.52" y="2176.46" width="66.91" height="66.91" fill="#efeff7"/>
<rect x="292.83" y="2176.46" width="66.91" height="66.91" fill="#fcfcfd"/>
<rect x="359.14" y="2176.46" width="66.91" height="66.91" fill="#ffc1c3"/>
<rect x="425.45" y="2176.46" width="66.91" height="66.91" fill="#ffb1b4"/>
<rect x="491.76" y="2176.46" width="66.91" height="66.91" fill="#ff6064"/>
<rect x="558.07" y="2176.46" width="66.91" height="66.91" fill="#ff8d90"/>
<rect x="624.38" y="2176.46" width="66.91" height="66.91" fill="#ffd1d3"/>
<rect x="690.69" y="2176.46" width="66.91" height="66.91" fill="#ff5156"/>
<rect x="757" y="2176.46" width="66.91" height="66.91" fill="#ff797d"/>
<rect x="823.31" y="2176.46" width="66.91" height="66.91" fill="#ff9295"/>
<rect x="889.62" y="2176.46" width="66.91" height="66.91" fill="#ff797d"/>
<rect x="955.93" y="2176.46" width="66.91" height="66.91" fill="#ff0a11"/>
<rect x="1022.24" y="2176.46" width="66.91" height="66.91" fill="#ff8386"/>
<rect x="1088.55" y="2176.46" width="66.91" height="66.91" fill="#ff2228"/>
<rect x="93.9" y="2242.77" width="66.91" height="66.91" fill="#ff9295"/>
<rect x="160.21" y="2242.77" width="66.91" height="66.91" fill="#cfcfe7"/>
<rect x="226.52" y="2242.77" width="66.91" height="66.91" fill="#fcfcfd"/>
<rect x="292.83" y="2242.77" width="66.91" height="66.91" fill="#fcfcfd"/>
<rect x="359.14" y="2242.77" width="66.91" height="66.91" fill="#0048a3"/>
<rect x="425.45" y="2242.77" width="66.91" height="66.91" fill="#f6f6fa"/>
<rect x="491.76" y="2242.77" width="66.91" height="66.91" fill="#ff8386"/>
<rect x="558.07" y="2242.77" width="66.91" height="66.91" fill="#ffc7c8"/>
<rect x="624.38" y="2242.77" width="66.91" height="66.91" fill="#3c56ab"/>
<rect x="690.69" y="2242.77" width="66.91" height="66.91" fill="#0048a3"/>
<rect x="757" y="2242.77" width="66.91" height="66.91" fill="#1e50a7"/>
<rect x="823.31" y="2242.77" width="66.91" height="66.91" fill="#b0b0da"/>
<rect x="889.62" y="2242.77" width="66.91" height="66.91" fill="#ff9295"/>
<rect x="955.93" y="2242.77" width="66.91" height="66.91" fill="#ff272d"/>
<rect x="1022.24" y="2242.77" width="66.91" height="66.91" fill="#ff8386"/>
<rect x="1088.55" y="2242.77" width="66.91" height="66.91" fill="#ff2b31"/>
<rect x="93.9" y="2309.08" width="66.91" height="66.91" fill="#ff8386"/>
<rect x="160.21" y="2309.08" width="66.91" height="66.91" fill="#ffdcdd"/>
<rect x="226.52" y="2309.08" width="66.91" height="66.91" fill="#ffcccd"/>
<rect x="292.83" y="2309.08" width="66.91" height="66.91" fill="#ffcccd"/>
<rect x="359.14" y="2309.08" width="66.91" height="66.91" fill="#acacd8"/>
<rect x="425.45" y="2309.08" width="66.91" height="66.91" fill="#ffc7c8"/>
<rect x="491.76" y="2309.08" width="66.91" height="66.91" fill="#ff6064"/>
<rect x="558.07" y="2309.08" width="66.91" height="66.91" fill="#ff7e81"/>
<rect x="624.38" y="2309.08" width="66.91" height="66.91" fill="#9090ca"/>
<rect x="690.69" y="2309.08" width="66.91" height="66.91" fill="#b9b9de"/>
<rect x="757" y="2309.08" width="66.91" height="66.91" fill="#dadaec"/>
<rect x="823.31" y="2309.08" width="66.91" height="66.91" fill="#dedeee"/>
<rect x="889.62" y="2309.08" width="66.91" height="66.91" fill="#ff797d"/>
<rect x="955.93" y="2309.08" width="66.91" height="66.91" fill="#ff0a11"/>
<rect x="1022.24" y="2309.08" width="66.91" height="66.91" fill="#ff6a6e"/>
<rect x="1088.55" y="2309.08" width="66.91" height="66.91" fill="#ff0d14"/>
<rect x="93.9" y="2375.39" width="66.91" height="66.91" fill="#0248a3"/>
<rect x="160.21" y="2375.39" width="66.91" height="66.91" fill="#7d83c2"/>
<rect x="226.52" y="2375.39" width="66.91" height="66.91" fill="#0449a3"/>
<rect x="292.83" y="2375.39" width="66.91" height="66.91" fill="#0349a3"/>
<rect x="359.14" y="2375.39" width="66.91" height="66.91" fill="#6471b9"/>
<rect x="425.45" y="2375.39" width="66.91" height="66.91" fill="#3c56ab"/>
<rect x="491.76" y="2375.39" width="66.91" height="66.91" fill="#6a76bb"/>
<rect x="558.07" y="2375.39" width="66.91" height="66.91" fill="#8386c4"/>
<rect x="624.38" y="2375.39" width="66.91" height="66.91" fill="#0048a3"/>
<rect x="690.69" y="2375.39" width="66.91" height="66.91" fill="#0148a3"/>
<rect x="757" y="2375.39" width="66.91" height="66.91" fill="#0248a3"/>
<rect x="823.31" y="2375.39" width="66.91" height="66.91" fill="#0048a3"/>
<rect x="889.62" y="2375.39" width="66.91" height="66.91" fill="#acacd8"/>
<rect x="955.93" y="2375.39" width="66.91" height="66.91" fill="#6a76bb"/>
<rect x="1022.24" y="2375.39" width="66.91" height="66.91" fill="#9797cd"/>
<rect x="1088.55" y="2375.39" width="66.91" height="66.91" fill="#6471b9"/>
<rect x="93.9" y="2441.7" width="66.91" height="66.91" fill="#ffc7c8"/>
<rect x="160.21" y="2441.7" width="66.91" height="66.91" fill="#ffe7e7"/>
<rect x="226.52" y="2441.7" width="66.91" height="66.91" fill="#fff1f2"/>
<rect x="292.83" y="2441.7" width="66.91" height="66.91" fill="#fffcfc"/>
<rect x="359.14" y="2441.7" width="66.91" height="66.91" fill="#e4e4f1"/>
<rect x="425.45" y="2441.7" width="66.91" height="66.91" fill="#efeff7"/>
<rect x="491.76" y="2441.7" width="66.91" height="66.91" fill="#ffa7a9"/>
<rect x="558.07" y="2441.7" width="66.91" height="66.91" fill="#ffc1c3"/>
<rect x="624.38" y="2441.7" width="66.91" height="66.91" fill="#717bbd"/>
<rect x="690.69" y="2441.7" width="66.91" height="66.91" fill="#8386c4"/>
<rect x="757" y="2441.7" width="66.91" height="66.91" fill="#acacd8"/>
<rect x="823.31" y="2441.7" width="66.91" height="66.91" fill="#c9c9e5"/>
<rect x="889.62" y="2441.7" width="66.91" height="66.91" fill="#ffc1c3"/>
<rect x="955.93" y="2441.7" width="66.91" height="66.91" fill="#ff5b5f"/>
<rect x="1022.24" y="2441.7" width="66.91" height="66.91" fill="#ffb1b4"/>
<rect x="1088.55" y="2441.7" width="66.91" height="66.91" fill="#ff565b"/>
<rect x="93.9" y="2508.01" width="66.91" height="66.91" fill="#fff7f7"/>
<rect x="160.21" y="2508.01" width="66.91" height="66.91" fill="#ffacaf"/>
<rect x="226.52" y="2508.01" width="66.91" height="66.91" fill="#ffbcbe"/>
<rect x="292.83" y="2508.01" width="66.91" height="66.91" fill="#ffcccd"/>
<rect x="359.14" y="2508.01" width="66.91" height="66.91" fill="#cfcfe7"/>
<rect x="425.45" y="2508.01" width="66.91" height="66.91" fill="#ffd1d3"/>
<rect x="491.76" y="2508.01" width="66.91" height="66.91" fill="#ff4c51"/>
<rect x="558.07" y="2508.01" width="66.91" height="66.91" fill="#ff7478"/>
<rect x="624.38" y="2508.01" width="66.91" height="66.91" fill="#6471b9"/>
<rect x="690.69" y="2508.01" width="66.91" height="66.91" fill="#ffe7e7"/>
<rect x="757" y="2508.01" width="66.91" height="66.91" fill="#ffe7e7"/>
<rect x="823.31" y="2508.01" width="66.91" height="66.91" fill="#e4e4f1"/>
<rect x="889.62" y="2508.01" width="66.91" height="66.91" fill="#ff8386"/>
<rect x="955.93" y="2508.01" width="66.91" height="66.91" fill="#ff272d"/>
<rect x="1022.24" y="2508.01" width="66.91" height="66.91" fill="#ff8d90"/>
<rect x="1088.55" y="2508.01" width="66.91" height="66.91" fill="#ff343a"/>
<rect x="93.9" y="2574.32" width="66.91" height="66.91" fill="#ffe1e2"/>
<rect x="160.21" y="2574.32" width="66.91" height="66.91" fill="#ff979a"/>
<rect x="226.52" y="2574.32" width="66.91" height="66.91" fill="#ffa7a9"/>
<rect x="292.83" y="2574.32" width="66.91" height="66.91" fill="#ffc1c3"/>
<rect x="359.14" y="2574.32" width="66.91" height="66.91" fill="#ffe7e7"/>
<rect x="425.45" y="2574.32" width="66.91" height="66.91" fill="#ffbcbe"/>
<rect x="491.76" y="2574.32" width="66.91" height="66.91" fill="#ff6569"/>
<rect x="558.07" y="2574.32" width="66.91" height="66.91" fill="#ff7478"/>
<rect x="624.38" y="2574.32" width="66.91" height="66.91" fill="#e4e4f1"/>
<rect x="690.69" y="2574.32" width="66.91" height="66.91" fill="#ffdcdd"/>
<rect x="757" y="2574.32" width="66.91" height="66.91" fill="#ffc7c8"/>
<rect x="823.31" y="2574.32" width="66.91" height="66.91" fill="#ffd7d8"/>
<rect x="889.62" y="2574.32" width="66.91" height="66.91" fill="#ff7478"/>
<rect x="955.93" y="2574.32" width="66.91" height="66.91" fill="#ff1920"/>
<rect x="1022.24" y="2574.32" width="66.91" height="66.91" fill="#ff6064"/>
<rect x="1088.55" y="2574.32" width="66.91" height="66.91" fill="#ff0d14"/>
<rect x="93.9" y="2640.63" width="66.91" height="66.91" fill="#ffe1e2"/>
<rect x="160.21" y="2640.63" width="66.91" height="66.91" fill="#ff9295"/>
<rect x="226.52" y="2640.63" width="66.91" height="66.91" fill="#ffacaf"/>
<rect x="292.83" y="2640.63" width="66.91" height="66.91" fill="#ffeced"/>
<rect x="359.14" y="2640.63" width="66.91" height="66.91" fill="#b0b0da"/>
<rect x="425.45" y="2640.63" width="66.91" height="66.91" fill="#ffdcdd"/>
<rect x="491.76" y="2640.63" width="66.91" height="66.91" fill="#ff797d"/>
<rect x="558.07" y="2640.63" width="66.91" height="66.91" fill="#ff8386"/>
<rect x="624.38" y="2640.63" width="66.91" height="66.91" fill="#0248a3"/>
<rect x="690.69" y="2640.63" width="66.91" height="66.91" fill="#dedeee"/>
<rect x="757" y="2640.63" width="66.91" height="66.91" fill="#efeff7"/>
<rect x="823.31" y="2640.63" width="66.91" height="66.91" fill="#b0b0da"/>
<rect x="889.62" y="2640.63" width="66.91" height="66.91" fill="#ff5156"/>
<rect x="955.93" y="2640.63" width="66.91" height="66.91" fill="#ff2228"/>
<rect x="1022.24" y="2640.63" width="66.91" height="66.91" fill="#fffcfc"/>
<rect x="1088.55" y="2640.63" width="66.91" height="66.91" fill="#ffd1d3"/>
<rect x="93.9" y="2706.94" width="66.91" height="66.91" fill="#fff7f7"/>
<rect x="160.21" y="2706.94" width="66.91" height="66.91" fill="#ffcccd"/>
<rect x="226.52" y="2706.94" width="66.91" height="66.91" fill="#ffdcdd"/>
<rect x="292.83" y="2706.94" width="66.91" height="66.91" fill="#fff1f2"/>
<rect x="359.14" y="2706.94" width="66.91" height="66.91" fill="#fffcfc"/>
<rect x="425.45" y="2706.94" width="66.91" height="66.91" fill="#fff1f2"/>
<rect x="491.76" y="2706.94" width="66.91" height="66.91" fill="#ff8d90"/>
<rect x="558.07" y="2706.94" width="66.91" height="66.91" fill="#ffa7a9"/>
<rect x="624.38" y="2706.94" width="66.91" height="66.91" fill="#d4d4e9"/>
<rect x="690.69" y="2706.94" width="66.91" height="66.91" fill="#efeff7"/>
<rect x="757" y="2706.94" width="66.91" height="66.91" fill="#ffeced"/>
<rect x="823.31" y="2706.94" width="66.91" height="66.91" fill="#ffcccd"/>
<rect x="889.62" y="2706.94" width="66.91" height="66.91" fill="#ffbcbe"/>
<rect x="955.93" y="2706.94" width="66.91" height="66.91" fill="#ff6a6e"/>
<rect x="1022.24" y="2706.94" width="66.91" height="66.91" fill="#ffa7a9"/>
<rect x="1088.55" y="2706.94" width="66.91" height="66.91" fill="#ff5b5f"/>
<rect x="93.9" y="2773.25" width="66.91" height="66.91" fill="#f6f6fa"/>
<rect x="160.21" y="2773.25" width="66.91" height="66.91" fill="#fff7f7"/>
<rect x="226.52" y="2773.25" width="66.91" height="66.91" fill="#fff1f2"/>
<rect x="292.83" y="2773.25" width="66.91" height="66.91" fill="#e9e9f4"/>
<rect x="359.14" y="2773.25" width="66.91" height="66.91" fill="#717bbd"/>
<rect x="425.45" y="2773.25" width="66.91" height="66.91" fill="#ffcccd"/>
<rect x="491.76" y="2773.25" width="66.91" height="66.91" fill="#ff8386"/>
<rect x="558.07" y="2773.25" width="66.91" height="66.91" fill="#ff6064"/>
<rect x="624.38" y="2773.25" width="66.91" height="66.91" fill="#b5b5dc"/>
<rect x="690.69" y="2773.25" width="66.91" height="66.91" fill="#c9c9e5"/>
<rect x="757" y="2773.25" width="66.91" height="66.91" fill="#c9c9e5"/>
<rect x="823.31" y="2773.25" width="66.91" height="66.91" fill="#cfcfe7"/>
<rect x="889.62" y="2773.25" width="66.91" height="66.91" fill="#ff9d9f"/>
<rect x="955.93" y="2773.25" width="66.91" height="66.91" fill="#ff474c"/>
<rect x="1022.24" y="2773.25" width="66.91" height="66.91" fill="#ff7478"/>
<rect x="1088.55" y="2773.25" width="66.91" height="66.91" fill="#ff4348"/>
<rect x="93.9" y="2839.56" width="66.91" height="66.91" fill="#3c56ab"/>
<rect x="160.21" y="2839.56" width="66.91" height="66.91" fill="#0048a3"/>
<rect x="226.52" y="2839.56" width="66.91" height="66.91" fill="#9797cd"/>
<rect x="292.83" y="2839.56" width="66.91" height="66.91" fill="#8386c4"/>
<rect x="359.14" y="2839.56" width="66.91" height="66.91" fill="#ff979a"/>
<rect x="425.45" y="2839.56" width="66.91" height="66.91" fill="#0048a3"/>
<rect x="491.76" y="2839.56" width="66.91" height="66.91" fill="#0449a3"/>
<rect x="558.07" y="2839.56" width="66.91" height="66.91" fill="#7d83c2"/>
<rect x="624.38" y="2839.56" width="66.91" height="66.91" fill="#7d83c2"/>
<rect x="690.69" y="2839.56" width="66.91" height="66.91" fill="#acacd8"/>
<rect x="757" y="2839.56" width="66.91" height="66.91" fill="#ffcccd"/>
<rect x="823.31" y="2839.56" width="66.91" height="66.91" fill="#fff7f7"/>
<rect x="889.62" y="2839.56" width="66.91" height="66.91" fill="#0048a3"/>
<rect x="955.93" y="2839.56" width="66.91" height="66.91" fill="#0048a3"/>
<rect x="1022.24" y="2839.56" width="66.91" height="66.91" fill="#0048a3"/>
<rect x="1088.55" y="2839.56" width="66.91" height="66.91" fill="#0148a3"/>
<rect x="93.9" y="2905.87" width="66.91" height="66.91" fill="#9e9ed1"/>
<rect x="160.21" y="2905.87" width="66.91" height="66.91" fill="#0048a3"/>
<rect x="226.52" y="2905.87" width="66.91" height="66.91" fill="#ffeced"/>
<rect x="292.83" y="2905.87" width="66.91" height="66.91" fill="#f6f6fa"/>
<rect x="359.14" y="2905.87" width="66.91" height="66.91" fill="#fff7f7"/>
<rect x="425.45" y="2905.87" width="66.91" height="66.91" fill="#6471b9"/>
<rect x="491.76" y="2905.87" width="66.91" height="66.91" fill="#5866b4"/>
<rect x="558.07" y="2905.87" width="66.91" height="66.91" fill="#717bbd"/>
<rect x="624.38" y="2905.87" width="66.91" height="66.91" fill="#0449a3"/>
<rect x="690.69" y="2905.87" width="66.91" height="66.91" fill="#0349a3"/>
<rect x="757" y="2905.87" width="66.91" height="66.91" fill="#b5b5dc"/>
<rect x="823.31" y="2905.87" width="66.91" height="66.91" fill="#898ac7"/>
<rect x="889.62" y="2905.87" width="66.91" height="66.91" fill="#0048a3"/>
<rect x="955.93" y="2905.87" width="66.91" height="66.91" fill="#0048a3"/>
<rect x="1022.24" y="2905.87" width="66.91" height="66.91" fill="#0048a3"/>
<rect x="1088.55" y="2905.87" width="66.91" height="66.91" fill="#0048a3"/>
<rect x="93.9" y="2972.18" width="66.91" height="66.91" fill="#e4e4f1"/>
<rect x="160.21" y="2972.18" width="66.91" height="66.91" fill="#0449a3"/>
<rect x="226.52" y="2972.18" width="66.91" height="66.91" fill="#ffb7b9"/>
<rect x="292.83" y="2972.18" width="66.91" height="66.91" fill="#ffe7e7"/>
<rect x="359.14" y="2972.18" width="66.91" height="66.91" fill="#e4e4f1"/>
<rect x="425.45" y="2972.18" width="66.91" height="66.91" fill="#dedeee"/>
<rect x="491.76" y="2972.18" width="66.91" height="66.91" fill="#ffcccd"/>
<rect x="558.07" y="2972.18" width="66.91" height="66.91" fill="#e9e9f4"/>
<rect x="624.38" y="2972.18" width="66.91" height="66.91" fill="#777fc0"/>
<rect x="690.69" y="2972.18" width="66.91" height="66.91" fill="#3c56ab"/>
<rect x="757" y="2972.18" width="66.91" height="66.91" fill="#5e6cb6"/>
<rect x="823.31" y="2972.18" width="66.91" height="66.91" fill="#a5a5d4"/>
<rect x="889.62" y="2972.18" width="66.91" height="66.91" fill="#898ac7"/>
<rect x="955.93" y="2972.18" width="66.91" height="66.91" fill="#e4e4f1"/>
<rect x="1022.24" y="2972.18" width="66.91" height="66.91" fill="#717bbd"/>
<rect x="1088.55" y="2972.18" width="66.91" height="66.91" fill="#ffeced"/>
<rect x="93.9" y="3038.49" width="66.91" height="66.91" fill="#b0b0da"/>
<rect x="160.21" y="3038.49" width="66.91" height="66.91" fill="#717bbd"/>
<rect x="226.52" y="3038.49" width="66.91" height="66.91" fill="#f6f6fa"/>
<rect x="292.83" y="3038.49" width="66.91" height="66.91" fill="#bebee0"/>
<rect x="359.14" y="3038.49" width="66.91" height="66.91" fill="#7d83c2"/>
<rect x="425.45" y="3038.49" width="66.91" height="66.91" fill="#b5b5dc"/>
<rect x="491.76" y="3038.49" width="66.91" height="66.91" fill="#f6f6fa"/>
<rect x="558.07" y="3038.49" width="66.91" height="66.91" fill="#e9e9f4"/>
<rect x="624.38" y="3038.49" width="66.91" height="66.91" fill="#0048a3"/>
<rect x="690.69" y="3038.49" width="66.91" height="66.91" fill="#0048a3"/>
<rect x="757" y="3038.49" width="66.91" height="66.91" fill="#0048a3"/>
<rect x="823.31" y="3038.49" width="66.91" height="66.91" fill="#0048a3"/>
<rect x="889.62" y="3038.49" width="66.91" height="66.91" fill="#1e50a7"/>
<rect x="955.93" y="3038.49" width="66.91" height="66.91" fill="#acacd8"/>
<rect x="1022.24" y="3038.49" width="66.91" height="66.91" fill="#b0b0da"/>
<rect x="1088.55" y="3038.49" width="66.91" height="66.91" fill="#fffcfc"/>
<rect x="93.9" y="3104.8" width="66.91" height="66.91" fill="#ffacaf"/>
<rect x="160.21" y="3104.8" width="66.91" height="66.91" fill="#9090ca"/>
<rect x="226.52" y="3104.8" width="66.91" height="66.91" fill="#ff5b5f"/>
<rect x="292.83" y="3104.8" width="66.91" height="66.91" fill="#ff6a6e"/>
<rect x="359.14" y="3104.8" width="66.91" height="66.91" fill="#e9e9f4"/>
<rect x="425.45" y="3104.8" width="66.91" height="66.91" fill="#ffcccd"/>
<rect x="491.76" y="3104.8" width="66.91" height="66.91" fill="#ff979a"/>
<rect x="558.07" y="3104.8" width="66.91" height="66.91" fill="#ffd1d3"/>
<rect x="624.38" y="3104.8" width="66.91" height="66.91" fill="#fcfcfd"/>
<rect x="690.69" y="3104.8" width="66.91" height="66.91" fill="#c9c9e5"/>
<rect x="757" y="3104.8" width="66.91" height="66.91" fill="#c4c4e2"/>
<rect x="823.31" y="3104.8" width="66.91" height="66.91" fill="#c9c9e5"/>
<rect x="889.62" y="3104.8" width="66.91" height="66.91" fill="#2853a9"/>
<rect x="955.93" y="3104.8" width="66.91" height="66.91" fill="#5866b4"/>
<rect x="1022.24" y="3104.8" width="66.91" height="66.91" fill="#0449a3"/>
<rect x="1088.55" y="3104.8" width="66.91" height="66.91" fill="#2853a9"/>
<rect x="93.9" y="3171.11" width="66.91" height="66.91" fill="#e9e9f4"/>
<rect x="160.21" y="3171.11" width="66.91" height="66.91" fill="#0048a3"/>
<rect x="226.52" y="3171.11" width="66.91" height="66.91" fill="#ffc1c3"/>
<rect x="292.83" y="3171.11" width="66.91" height="66.91" fill="#ffd1d3"/>
<rect x="359.14" y="3171.11" width="66.91" height="66.91" fill="#bebee0"/>
<rect x="425.45" y="3171.11" width="66.91" height="66.91" fill="#fcfcfd"/>
<rect x="491.76" y="3171.11" width="66.91" height="66.91" fill="#ffb1b4"/>
<rect x="558.07" y="3171.11" width="66.91" height="66.91" fill="#ffd7d8"/>
<rect x="624.38" y="3171.11" width="66.91" height="66.91" fill="#0048a3"/>
<rect x="690.69" y="3171.11" width="66.91" height="66.91" fill="#0048a3"/>
<rect x="757" y="3171.11" width="66.91" height="66.91" fill="#0048a3"/>
<rect x="823.31" y="3171.11" width="66.91" height="66.91" fill="#0048a3"/>
<rect x="889.62" y="3171.11" width="66.91" height="66.91" fill="#0048a3"/>
<rect x="955.93" y="3171.11" width="66.91" height="66.91" fill="#0048a3"/>
<rect x="1022.24" y="3171.11" width="66.91" height="66.91" fill="#0048a3"/>
<rect x="1088.55" y="3171.11" width="66.91" height="66.91" fill="#0048a3"/>
<rect x="93.9" y="3237.42" width="66.91" height="66.91" fill="#b9b9de"/>
<rect x="160.21" y="3237.42" width="66.91" height="66.91" fill="#0249a3"/>
<rect x="226.52" y="3237.42" width="66.91" height="66.91" fill="#ffbcbe"/>
<rect x="292.83" y="3237.42" width="66.91" height="66.91" fill="#ffb1b4"/>
<rect x="359.14" y="3237.42" width="66.91" height="66.91" fill="#435aad"/>
<rect x="425.45" y="3237.42" width="66.91" height="66.91" fill="#e9e9f4"/>
<rect x="491.76" y="3237.42" width="66.91" height="66.91" fill="#ffe7e7"/>
<rect x="558.07" y="3237.42" width="66.91" height="66.91" fill="#ffdcdd"/>
<rect x="624.38" y="3237.42" width="66.91" height="66.91" fill="#d4d4e9"/>
<rect x="690.69" y="3237.42" width="66.91" height="66.91" fill="#9797cd"/>
<rect x="757" y="3237.42" width="66.91" height="66.91" fill="#777fc0"/>
<rect x="823.31" y="3237.42" width="66.91" height="66.91" fill="#4b5daf"/>
<rect x="889.62" y="3237.42" width="66.91" height="66.91" fill="#0148a3"/>
<rect x="955.93" y="3237.42" width="66.91" height="66.91" fill="#0349a3"/>
<rect x="1022.24" y="3237.42" width="66.91" height="66.91" fill="#0048a3"/>
<rect x="1088.55" y="3237.42" width="66.91" height="66.91" fill="#0349a3"/>
<rect x="93.9" y="3303.73" width="66.91" height="66.91" fill="#8386c4"/>
<rect x="160.21" y="3303.73" width="66.91" height="66.91" fill="#0449a3"/>
<rect x="226.52" y="3303.73" width="66.91" height="66.91" fill="#fff7f7"/>
<rect x="292.83" y="3303.73" width="66.91" height="66.91" fill="#f6f6fa"/>
<rect x="359.14" y="3303.73" width="66.91" height="66.91" fill="#8386c4"/>
<rect x="425.45" y="3303.73" width="66.91" height="66.91" fill="#b5b5dc"/>
<rect x="491.76" y="3303.73" width="66.91" height="66.91" fill="#a5a5d4"/>
<rect x="558.07" y="3303.73" width="66.91" height="66.91" fill="#e4e4f1"/>
<rect x="624.38" y="3303.73" width="66.91" height="66.91" fill="#0048a3"/>
<rect x="690.69" y="3303.73" width="66.91" height="66.91" fill="#0048a3"/>
<rect x="757" y="3303.73" width="66.91" height="66.91" fill="#0048a3"/>
<rect x="823.31" y="3303.73" width="66.91" height="66.91" fill="#0048a3"/>
<rect x="889.62" y="3303.73" width="66.91" height="66.91" fill="#0349a3"/>
<rect x="955.93" y="3303.73" width="66.91" height="66.91" fill="#acacd8"/>
<rect x="1022.24" y="3303.73" width="66.91" height="66.91" fill="#0449a3"/>
<rect x="1088.55" y="3303.73" width="66.91" height="66.91" fill="#d4d4e9"/>
<rect x="93.9" y="3370.04" width="66.91" height="66.91" fill="#acacd8"/>
<rect x="160.21" y="3370.04" width="66.91" height="66.91" fill="#acacd8"/>
<rect x="226.52" y="3370.04" width="66.91" height="66.91" fill="#3c56ab"/>
<rect x="292.83" y="3370.04" width="66.91" height="66.91" fill="#3c56ab"/>
<rect x="359.14" y="3370.04" width="66.91" height="66.91" fill="#c4c4e2"/>
<rect x="425.45" y="3370.04" width="66.91" height="66.91" fill="#6a76bb"/>
<rect x="491.76" y="3370.04" width="66.91" height="66.91" fill="#8386c4"/>
<rect x="558.07" y="3370.04" width="66.91" height="66.91" fill="#6a76bb"/>
<rect x="624.38" y="3370.04" width="66.91" height="66.91" fill="#6a76bb"/>
<rect x="690.69" y="3370.04" width="66.91" height="66.91" fill="#cfcfe7"/>
<rect x="757" y="3370.04" width="66.91" height="66.91" fill="#cfcfe7"/>
<rect x="823.31" y="3370.04" width="66.91" height="66.91" fill="#777fc0"/>
<rect x="889.62" y="3370.04" width="66.91" height="66.91" fill="#6a76bb"/>
<rect x="955.93" y="3370.04" width="66.91" height="66.91" fill="#144ea6"/>
<rect x="1022.24" y="3370.04" width="66.91" height="66.91" fill="#6a76bb"/>
<rect x="1088.55" y="3370.04" width="66.91" height="66.91" fill="#1e50a7"/>
<rect x="93.9" y="3436.35" width="66.91" height="66.91" fill="#ffb7b9"/>
<rect x="160.21" y="3436.35" width="66.91" height="66.91" fill="#ffe1e2"/>
<rect x="226.52" y="3436.35" width="66.91" height="66.91" fill="#ffe7e7"/>
<rect x="292.83" y="3436.35" width="66.91" height="66.91" fill="#ffc1c3"/>
<rect x="359.14" y="3436.35" width="66.91" height="66.91" fill="#ffa2a4"/>
<rect x="425.45" y="3436.35" width="66.91" height="66.91" fill="#fcfcfd"/>
<rect x="491.76" y="3436.35" width="66.91" height="66.91" fill="#ffc1c3"/>
<rect x="558.07" y="3436.35" width="66.91" height="66.91" fill="#fff7f7"/>
<rect x="624.38" y="3436.35" width="66.91" height="66.91" fill="#ffeced"/>
<rect x="690.69" y="3436.35" width="66.91" height="66.91" fill="#ffbcbe"/>
<rect x="757" y="3436.35" width="66.91" height="66.91" fill="#ffcccd"/>
<rect x="823.31" y="3436.35" width="66.91" height="66.91" fill="#fff1f2"/>
<rect x="889.62" y="3436.35" width="66.91" height="66.91" fill="#ffb7b9"/>
<rect x="955.93" y="3436.35" width="66.91" height="66.91" fill="#ffd1d3"/>
<rect x="1022.24" y="3436.35" width="66.91" height="66.91" fill="#ffbcbe"/>
<rect x="1088.55" y="3436.35" width="66.91" height="66.91" fill="#ffe1e2"/>
<g fill="#999999"><rect x="92.7" y="119.65" width="1.4" height="3384.21"/><rect x="159.01" y="119.65" width="2.4" height="3384.21"/><rect x="225.32" y="119.65" width="2.4" height="3384.21"/><rect x="291.63" y="119.65" width="2.4" height="3384.21"/><rect x="357.94" y="119.65" width="2.4" height="3384.21"/><rect x="424.25" y="119.65" width="2.4" height="3384.21"/><rect x="490.56" y="119.65" width="2.4" height="3384.21"/><rect x="556.87" y="119.65" width="2.4" height="3384.21"/><rect x="623.18" y="119.65" width="2.4" height="3384.21"/><rect x="689.49" y="119.65" width="2.4" height="3384.21"/><rect x="755.8" y="119.65" width="2.4" height="3384.21"/><rect x="822.11" y="119.65" width="2.4" height="3384.21"/><rect x="888.42" y="119.65" width="2.4" height="3384.21"/><rect x="954.73" y="119.65" width="2.4" height="3384.21"/><rect x="1021.04" y="119.65" width="2.4" height="3384.21"/><rect x="1087.35" y="119.65" width="2.4" height="3384.21"/><rect x="1153.66" y="119.65" width="2.4" height="3384.21"/><rect x="92.7" y="119.65" width="1063.36" height="2.4"/><rect x="92.7" y="185.96" width="1063.36" height="2.4"/><rect x="92.7" y="252.27" width="1063.36" height="2.4"/><rect x="92.7" y="318.58" width="1063.36" height="2.4"/><rect x="92.7" y="384.89" width="1063.36" height="2.4"/><rect x="92.7" y="451.2" width="1063.36" height="2.4"/><rect x="92.7" y="517.51" width="1063.36" height="2.4"/><rect x="92.7" y="583.82" width="1063.36" height="2.4"/><rect x="92.7" y="650.13" width="1063.36" height="2.4"/><rect x="92.7" y="716.44" width="1063.36" height="2.4"/><rect x="92.7" y="782.75" width="1063.36" height="2.4"/><rect x="92.7" y="849.06" width="1063.36" height="2.4"/><rect x="92.7" y="915.37" width="1063.36" height="2.4"/><rect x="92.7" y="981.68" width="1063.36" height="2.4"/><rect x="92.7" y="1047.99" width="1063.36" height="2.4"/><rect x="92.7" y="1114.3" width="1063.36" height="2.4"/><rect x="92.7" y="1180.61" width="1063.36" height="2.4"/><rect x="92.7" y="1246.92" width="1063.36" height="2.4"/><rect x="92.7" y="1313.23" width="1063.36" height="2.4"/><rect x="92.7" y="1379.54" width="1063.36" height="2.4"/><rect x="92.7" y="1445.85" width="1063.36" height="2.4"/><rect x="92.7" y="1512.16" width="1063.36" height="2.4"/><rect x="92.7" y="1578.47" width="1063.36" height="2.4"/><rect x="92.7" y="1644.78" width="1063.36" height="2.4"/><rect x="92.7" y="1711.09" width="1063.36" height="2.4"/><rect x="92.7" y="1777.4" width="1063.36" height="2.4"/><rect x="92.7" y="1843.71" width="1063.36" height="2.4"/><rect x="92.7" y="1910.02" width="1063.36" height="2.4"/><rect x="92.7" y="1976.33" width="1063.36" height="2.4"/><rect x="92.7" y="2042.64" width="1063.36" height="2.4"/><rect x="92.7" y="2108.95" width="1063.36" height="2.4"/><rect x="92.7" y="2175.26" width="1063.36" height="2.4"/><rect x="92.7" y="2241.57" width="1063.36" height="2.4"/><rect x="92.7" y="2307.88" width="1063.36" height="2.4"/><rect x="92.7" y="2374.19" width="1063.36" height="2.4"/><rect x="92.7" y="2440.5" width="1063.36" height="2.4"/><rect x="92.7" y="2506.81" width="1063.36" height="2.4"/><rect x="92.7" y="2573.12" width="1063.36" height="2.4"/><rect x="92.7" y="2639.43" width="1063.36" height="2.4"/><rect x="92.7" y="2705.74" width="1063.36" height="2.4"/><rect x="92.7" y="2772.05" width="1063.36" height="2.4"/><rect x="92.7" y="2838.36" width="1063.36" height="2.4"/><rect x="92.7" y="2904.67" width="1063.36" height="2.4"/><rect x="92.7" y="2970.98" width="1063.36" height="2.4"/><rect x="92.7" y="3037.29" width="1063.36" height="2.4"/><rect x="92.7" y="3103.6" width="1063.36" height="2.4"/><rect x="92.7" y="3169.91" width="1063.36" height="2.4"/><rect x="92.7" y="3236.22" width="1063.36" height="2.4"/><rect x="92.7" y="3302.53" width="1063.36" height="2.4"/><rect x="92.7" y="3368.84" width="1063.36" height="2.4"/><rect x="92.7" y="3435.15" width="1063.36" height="2.4"/><rect x="92.7" y="3501.46" width="1063.36" height="2.4"/></g>
<g font-size="23.2" text-anchor="middle"><text transform="matrix(1,0,0,1.04,127.06,162.31)">0.29</text><text transform="matrix(1,0,0,1.04,193.37,162.31)">0.00</text><text transform="matrix(1,0,0,1.04,259.68,162.31)">0.25</text><text transform="matrix(1,0,0,1.04,325.99,162.31)">0.00</text><text transform="matrix(1,0,0,1.04,392.29,162.31)">1.86</text><text transform="matrix(1,0,0,1.04,458.61,162.31)">0.00</text><text transform="matrix(1,0,0,1.04,524.91,162.31)">0.24</text><text transform="matrix(1,0,0,1.04,591.23,162.31)">0.00</text><text transform="matrix(1,0,0,1.04,657.53,162.31)">0.24</text><text transform="matrix(1,0,0,1.04,723.85,162.31)">0.89</text><text transform="matrix(1,0,0,1.04,790.15,162.31)">0.56</text><text transform="matrix(1,0,0,1.04,856.47,162.31)">0.20</text><text transform="matrix(1,0,0,1.04,922.77,162.31)">0.10</text><text transform="matrix(1,0,0,1.04,989.09,162.31)">0.46</text><text transform="matrix(1,0,0,1.04,1055.39,162.31)">0.00</text><text transform="matrix(1,0,0,1.04,1121.71,162.31)">0.17</text><text transform="matrix(1,0,0,1.04,127.06,228.62)">3.76</text><text transform="matrix(1,0,0,1.04,193.37,228.62)">4.10</text><text transform="matrix(1,0,0,1.04,259.68,228.62)">0.62</text><text transform="matrix(1,0,0,1.04,325.99,228.62)">0.00</text><text transform="matrix(1,0,0,1.04,392.29,228.62)">0.00</text><text transform="matrix(1,0,0,1.04,458.61,228.62)">0.00</text><text transform="matrix(1,0,0,1.04,524.91,228.62)">0.24</text><text transform="matrix(1,0,0,1.04,591.23,228.62)">1.26</text><text transform="matrix(1,0,0,1.04,657.53,228.62)">2.45</text><text transform="matrix(1,0,0,1.04,723.85,228.62)">2.94</text><text transform="matrix(1,0,0,1.04,790.15,228.62)">2.43</text><text transform="matrix(1,0,0,1.04,856.47,228.62)">1.99</text><text transform="matrix(1,0,0,1.04,922.77,228.62)">0.29</text><text transform="matrix(1,0,0,1.04,989.09,228.62)">0.00</text><text transform="matrix(1,0,0,1.04,1055.39,228.62)">0.00</text><text transform="matrix(1,0,0,1.04,1121.71,228.62)">0.00</text><text transform="matrix(1,0,0,1.04,127.06,294.93)">1.41</text><text transform="matrix(1,0,0,1.04,193.37,294.93)">2.18</text><text transform="matrix(1,0,0,1.04,259.68,294.93)">1.83</text><text transform="matrix(1,0,0,1.04,325.99,294.93)">0.17</text><text transform="matrix(1,0,0,1.04,392.29,294.93)">0.00</text><text transform="matrix(1,0,0,1.04,458.61,294.93)">3.32</text><text transform="matrix(1,0,0,1.04,524.91,294.93)">2.55</text><text transform="matrix(1,0,0,1.04,591.23,294.93)">3.02</text><text transform="matrix(1,0,0,1.04,657.53,294.93)">1.26</text><text transform="matrix(1,0,0,1.04,723.85,294.93)">2.99</text><text transform="matrix(1,0,0,1.04,790.15,294.93)">2.39</text><text transform="matrix(1,0,0,1.04,856.47,294.93)">1.16</text><text transform="matrix(1,0,0,1.04,922.77,294.93)">3.37</text><text transform="matrix(1,0,0,1.04,989.09,294.93)">3.99</text><text transform="matrix(1,0,0,1.04,1055.39,294.93)">3.36</text><text transform="matrix(1,0,0,1.04,1121.71,294.93)">3.66</text><text transform="matrix(1,0,0,1.04,127.06,361.24)">2.78</text><text transform="matrix(1,0,0,1.04,193.37,361.24)">4.75</text><text transform="matrix(1,0,0,1.04,259.68,361.24)">2.98</text><text transform="matrix(1,0,0,1.04,325.99,361.24)">2.03</text><text transform="matrix(1,0,0,1.04,392.29,361.24)">0.00</text><text transform="matrix(1,0,0,1.04,458.61,361.24)">2.72</text><text transform="matrix(1,0,0,1.04,524.91,361.24)">3.26</text><text transform="matrix(1,0,0,1.04,591.23,361.24)">4.16</text><text transform="matrix(1,0,0,1.04,657.53,361.24)">0.48</text><text transform="matrix(1,0,0,1.04,723.85,361.24)">0.00</text><text transform="matrix(1,0,0,1.04,790.15,361.24)">0.82</text><text transform="matrix(1,0,0,1.04,856.47,361.24)">1.86</text><text transform="matrix(1,0,0,1.04,922.77,361.24)">3.45</text><text transform="matrix(1,0,0,1.04,989.09,361.24)">5.19</text><text transform="matrix(1,0,0,1.04,1055.39,361.24)">3.40</text><text transform="matrix(1,0,0,1.04,1121.71,361.24)">5.56</text><text transform="matrix(1,0,0,1.04,127.06,427.55)">0.00</text><text transform="matrix(1,0,0,1.04,193.37,427.55)">0.00</text><text transform="matrix(1,0,0,1.04,259.68,427.55)">0.00</text><text transform="matrix(1,0,0,1.04,325.99,427.55)">0.00</text><text transform="matrix(1,0,0,1.04,392.29,427.55)">0.00</text><text transform="matrix(1,0,0,1.04,458.61,427.55)">0.00</text><text transform="matrix(1,0,0,1.04,524.91,427.55)">0.00</text><text transform="matrix(1,0,0,1.04,591.23,427.55)">0.00</text><text transform="matrix(1,0,0,1.04,657.53,427.55)">4.13</text><text transform="matrix(1,0,0,1.04,723.85,427.55)">2.66</text><text transform="matrix(1,0,0,1.04,790.15,427.55)">3.03</text><text transform="matrix(1,0,0,1.04,856.47,427.55)">4.40</text><text transform="matrix(1,0,0,1.04,922.77,427.55)">0.00</text><text transform="matrix(1,0,0,1.04,989.09,427.55)">0.00</text><text transform="matrix(1,0,0,1.04,1055.39,427.55)">0.00</text><text transform="matrix(1,0,0,1.04,1121.71,427.55)">0.00</text><text transform="matrix(1,0,0,1.04,127.06,493.86)">3.99</text><text transform="matrix(1,0,0,1.04,193.37,493.86)">5.03</text><text transform="matrix(1,0,0,1.04,259.68,493.86)">0.85</text><text transform="matrix(1,0,0,1.04,325.99,493.86)">0.60</text><text transform="matrix(1,0,0,1.04,392.29,493.86)">0.00</text><text transform="matrix(1,0,0,1.04,458.61,493.86)">0.00</text><text transform="matrix(1,0,0,1.04,524.91,493.86)">0.59</text><text transform="matrix(1,0,0,1.04,591.23,493.86)">1.35</text><text transform="matrix(1,0,0,1.04,657.53,493.86)">0.00</text><text transform="matrix(1,0,0,1.04,723.85,493.86)">0.00</text><text transform="matrix(1,0,0,1.04,790.15,493.86)">0.00</text><text transform="matrix(1,0,0,1.04,856.47,493.86)">0.00</text><text transform="matrix(1,0,0,1.04,922.77,493.86)">2.85</text><text transform="matrix(1,0,0,1.04,989.09,493.86)">3.13</text><text transform="matrix(1,0,0,1.04,1055.39,493.86)">2.65</text><text transform="matrix(1,0,0,1.04,1121.71,493.86)">2.98</text><text transform="matrix(1,0,0,1.04,127.06,560.17)">0.00</text><text transform="matrix(1,0,0,1.04,193.37,560.17)">0.00</text><text transform="matrix(1,0,0,1.04,259.68,560.17)">0.24</text><text transform="matrix(1,0,0,1.04,325.99,560.17)">0.46</text><text transform="matrix(1,0,0,1.04,392.29,560.17)">0.00</text><text transform="matrix(1,0,0,1.04,458.61,560.17)">0.00</text><text transform="matrix(1,0,0,1.04,524.91,560.17)">0.36</text><text transform="matrix(1,0,0,1.04,591.23,560.17)">0.00</text><text transform="matrix(1,0,0,1.04,657.53,560.17)">0.37</text><text transform="matrix(1,0,0,1.04,723.85,560.17)">0.00</text><text transform="matrix(1,0,0,1.04,790.15,560.17)">0.12</text><text transform="matrix(1,0,0,1.04,856.47,560.17)">0.16</text><text transform="matrix(1,0,0,1.04,922.77,560.17)">0.00</text><text transform="matrix(1,0,0,1.04,989.09,560.17)">0.00</text><text transform="matrix(1,0,0,1.04,1055.39,560.17)">0.00</text><text transform="matrix(1,0,0,1.04,1121.71,560.17)">0.00</text><text transform="matrix(1,0,0,1.04,127.06,626.48)">0.07</text><text transform="matrix(1,0,0,1.04,193.37,626.48)">0.79</text><text transform="matrix(1,0,0,1.04,259.68,626.48)">0.14</text><text transform="matrix(1,0,0,1.04,325.99,626.48)">0.00</text><text transform="matrix(1,0,0,1.04,392.29,626.48)">0.00</text><text transform="matrix(1,0,0,1.04,458.61,626.48)">4.19</text><text transform="matrix(1,0,0,1.04,524.91,626.48)">2.91</text><text transform="matrix(1,0,0,1.04,591.23,626.48)">4.41</text><text transform="matrix(1,0,0,1.04,657.53,626.48)">0.00</text><text transform="matrix(1,0,0,1.04,723.85,626.48)">0.00</text><text transform="matrix(1,0,0,1.04,790.15,626.48)">1.15</text><text transform="matrix(1,0,0,1.04,856.47,626.48)">0.26</text><text transform="matrix(1,0,0,1.04,922.77,626.48)">1.49</text><text transform="matrix(1,0,0,1.04,989.09,626.48)">3.02</text><text transform="matrix(1,0,0,1.04,1055.39,626.48)">5.08</text><text transform="matrix(1,0,0,1.04,1121.71,626.48)">2.58</text><text transform="matrix(1,0,0,1.04,127.06,692.79)">3.29</text><text transform="matrix(1,0,0,1.04,193.37,692.79)">2.21</text><text transform="matrix(1,0,0,1.04,259.68,692.79)">1.02</text><text transform="matrix(1,0,0,1.04,325.99,692.79)">0.16</text><text transform="matrix(1,0,0,1.04,392.29,692.79)">0.00</text><text transform="matrix(1,0,0,1.04,458.61,692.79)">0.96</text><text transform="matrix(1,0,0,1.04,524.91,692.79)">1.04</text><text transform="matrix(1,0,0,1.04,591.23,692.79)">1.48</text><text transform="matrix(1,0,0,1.04,657.53,692.79)">0.18</text><text transform="matrix(1,0,0,1.04,723.85,692.79)">0.56</text><text transform="matrix(1,0,0,1.04,790.15,692.79)">0.11</text><text transform="matrix(1,0,0,1.04,856.47,692.79)">0.22</text><text transform="matrix(1,0,0,1.04,922.77,692.79)">0.40</text><text transform="matrix(1,0,0,1.04,989.09,692.79)">0.12</text><text transform="matrix(1,0,0,1.04,1055.39,692.79)">0.65</text><text transform="matrix(1,0,0,1.04,1121.71,692.79)">0.00</text><text transform="matrix(1,0,0,1.04,127.06,759.1)">5.46</text><text transform="matrix(1,0,0,1.04,193.37,759.1)">6.98</text><text transform="matrix(1,0,0,1.04,259.68,759.1)">4.39</text><text transform="matrix(1,0,0,1.04,325.99,759.1)">5.10</text><text transform="matrix(1,0,0,1.04,392.29,759.1)">4.26</text><text transform="matrix(1,0,0,1.04,458.61,759.1)">5.74</text><text transform="matrix(1,0,0,1.04,524.91,759.1)">4.41</text><text transform="matrix(1,0,0,1.04,591.23,759.1)">4.28</text><text transform="matrix(1,0,0,1.04,657.53,759.1)">3.54</text><text transform="matrix(1,0,0,1.04,723.85,759.1)">2.57</text><text transform="matrix(1,0,0,1.04,790.15,759.1)">2.15</text><text transform="matrix(1,0,0,1.04,856.47,759.1)">2.23</text><text transform="matrix(1,0,0,1.04,922.77,759.1)">4.67</text><text transform="matrix(1,0,0,1.04,989.09,759.1)">1.97</text><text transform="matrix(1,0,0,1.04,1055.39,759.1)">6.31</text><text transform="matrix(1,0,0,1.04,1121.71,759.1)">3.17</text><text transform="matrix(1,0,0,1.04,127.06,825.41)">0.85</text><text transform="matrix(1,0,0,1.04,193.37,825.41)">1.74</text><text transform="matrix(1,0,0,1.04,259.68,825.41)">0.00</text><text transform="matrix(1,0,0,1.04,325.99,825.41)">0.00</text><text transform="matrix(1,0,0,1.04,392.29,825.41)">0.00</text><text transform="matrix(1,0,0,1.04,458.61,825.41)">1.50</text><text transform="matrix(1,0,0,1.04,524.91,825.41)">2.48</text><text transform="matrix(1,0,0,1.04,591.23,825.41)">2.39</text><text transform="matrix(1,0,0,1.04,657.53,825.41)">0.94</text><text transform="matrix(1,0,0,1.04,723.85,825.41)">1.91</text><text transform="matrix(1,0,0,1.04,790.15,825.41)">2.17</text><text transform="matrix(1,0,0,1.04,856.47,825.41)">1.53</text><text transform="matrix(1,0,0,1.04,922.77,825.41)">3.84</text><text transform="matrix(1,0,0,1.04,989.09,825.41)">2.72</text><text transform="matrix(1,0,0,1.04,1055.39,825.41)">4.78</text><text transform="matrix(1,0,0,1.04,1121.71,825.41)">3.51</text><text transform="matrix(1,0,0,1.04,127.06,891.72)">1.32</text><text transform="matrix(1,0,0,1.04,193.37,891.72)">4.19</text><text transform="matrix(1,0,0,1.04,259.68,891.72)">0.83</text><text transform="matrix(1,0,0,1.04,325.99,891.72)">0.13</text><text transform="matrix(1,0,0,1.04,392.29,891.72)">2.48</text><text transform="matrix(1,0,0,1.04,458.61,891.72)">2.95</text><text transform="matrix(1,0,0,1.04,524.91,891.72)">2.49</text><text transform="matrix(1,0,0,1.04,591.23,891.72)">3.33</text><text transform="matrix(1,0,0,1.04,657.53,891.72)">4.84</text><text transform="matrix(1,0,0,1.04,723.85,891.72)">3.43</text><text transform="matrix(1,0,0,1.04,790.15,891.72)">3.73</text><text transform="matrix(1,0,0,1.04,856.47,891.72)">4.91</text><text transform="matrix(1,0,0,1.04,922.77,891.72)">4.03</text><text transform="matrix(1,0,0,1.04,989.09,891.72)">3.46</text><text transform="matrix(1,0,0,1.04,1055.39,891.72)">4.62</text><text transform="matrix(1,0,0,1.04,1121.71,891.72)">4.26</text><text transform="matrix(1,0,0,1.04,127.06,958.03)">0.00</text><text transform="matrix(1,0,0,1.04,193.37,958.03)">2.39</text><text transform="matrix(1,0,0,1.04,259.68,958.03)">0.00</text><text transform="matrix(1,0,0,1.04,325.99,958.03)">0.11</text><text transform="matrix(1,0,0,1.04,392.29,958.03)">0.00</text><text transform="matrix(1,0,0,1.04,458.61,958.03)">0.00</text><text transform="matrix(1,0,0,1.04,524.91,958.03)">0.45</text><text transform="matrix(1,0,0,1.04,591.23,958.03)">1.26</text><text transform="matrix(1,0,0,1.04,657.53,958.03)">5.24</text><text transform="matrix(1,0,0,1.04,723.85,958.03)">0.00</text><text transform="matrix(1,0,0,1.04,790.15,958.03)">1.60</text><text transform="matrix(1,0,0,1.04,856.47,958.03)">2.07</text><text transform="matrix(1,0,0,1.04,922.77,958.03)">2.93</text><text transform="matrix(1,0,0,1.04,989.09,958.03)">0.66</text><text transform="matrix(1,0,0,1.04,1055.39,958.03)">3.00</text><text transform="matrix(1,0,0,1.04,1121.71,958.03)">1.05</text><text transform="matrix(1,0,0,1.04,127.06,1024.34)">0.15</text><text transform="matrix(1,0,0,1.04,193.37,1024.34)">2.05</text><text transform="matrix(1,0,0,1.04,259.68,1024.34)">0.41</text><text transform="matrix(1,0,0,1.04,325.99,1024.34)">0.00</text><text transform="matrix(1,0,0,1.04,392.29,1024.34)">0.00</text><text transform="matrix(1,0,0,1.04,458.61,1024.34)">1.79</text><text transform="matrix(1,0,0,1.04,524.91,1024.34)">0.82</text><text transform="matrix(1,0,0,1.04,591.23,1024.34)">1.84</text><text transform="matrix(1,0,0,1.04,657.53,1024.34)">3.74</text><text transform="matrix(1,0,0,1.04,723.85,1024.34)">0.00</text><text transform="matrix(1,0,0,1.04,790.15,1024.34)">1.67</text><text transform="matrix(1,0,0,1.04,856.47,1024.34)">0.88</text><text transform="matrix(1,0,0,1.04,922.77,1024.34)">2.09</text><text transform="matrix(1,0,0,1.04,989.09,1024.34)">0.89</text><text transform="matrix(1,0,0,1.04,1055.39,1024.34)">2.30</text><text transform="matrix(1,0,0,1.04,1121.71,1024.34)">2.44</text><text transform="matrix(1,0,0,1.04,127.06,1090.65)">5.00</text><text transform="matrix(1,0,0,1.04,193.37,1090.65)">6.12</text><text transform="matrix(1,0,0,1.04,259.68,1090.65)">3.57</text><text transform="matrix(1,0,0,1.04,325.99,1090.65)">2.71</text><text transform="matrix(1,0,0,1.04,392.29,1090.65)">3.53</text><text transform="matrix(1,0,0,1.04,458.61,1090.65)">5.19</text><text transform="matrix(1,0,0,1.04,524.91,1090.65)">4.84</text><text transform="matrix(1,0,0,1.04,591.23,1090.65)">5.53</text><text transform="matrix(1,0,0,1.04,657.53,1090.65)">6.52</text><text transform="matrix(1,0,0,1.04,723.85,1090.65)">5.69</text><text transform="matrix(1,0,0,1.04,790.15,1090.65)">5.55</text><text transform="matrix(1,0,0,1.04,856.47,1090.65)">5.97</text><text transform="matrix(1,0,0,1.04,922.77,1090.65)">8.05</text><text transform="matrix(1,0,0,1.04,989.09,1090.65)">7.18</text><text transform="matrix(1,0,0,1.04,1055.39,1090.65)">9.36</text><text transform="matrix(1,0,0,1.04,1121.71,1090.65)">6.22</text><text transform="matrix(1,0,0,1.04,127.06,1156.96)">6.43</text><text transform="matrix(1,0,0,1.04,193.37,1156.96)">7.22</text><text transform="matrix(1,0,0,1.04,259.68,1156.96)">6.56</text><text transform="matrix(1,0,0,1.04,325.99,1156.96)">6.83</text><text transform="matrix(1,0,0,1.04,392.29,1156.96)">4.63</text><text transform="matrix(1,0,0,1.04,458.61,1156.96)">5.79</text><text transform="matrix(1,0,0,1.04,524.91,1156.96)">5.01</text><text transform="matrix(1,0,0,1.04,591.23,1156.96)">5.61</text><text transform="matrix(1,0,0,1.04,657.53,1156.96)">7.71</text><text transform="matrix(1,0,0,1.04,723.85,1156.96)">5.42</text><text transform="matrix(1,0,0,1.04,790.15,1156.96)">5.85</text><text transform="matrix(1,0,0,1.04,856.47,1156.96)">7.70</text><text transform="matrix(1,0,0,1.04,922.77,1156.96)">6.15</text><text transform="matrix(1,0,0,1.04,989.09,1156.96)">5.61</text><text transform="matrix(1,0,0,1.04,1055.39,1156.96)">6.85</text><text transform="matrix(1,0,0,1.04,1121.71,1156.96)">7.21</text><text transform="matrix(1,0,0,1.04,127.06,1223.27)">1.90</text><text transform="matrix(1,0,0,1.04,193.37,1223.27)">2.94</text><text transform="matrix(1,0,0,1.04,259.68,1223.27)">0.00</text><text transform="matrix(1,0,0,1.04,325.99,1223.27)">0.15</text><text transform="matrix(1,0,0,1.04,392.29,1223.27)">0.00</text><text transform="matrix(1,0,0,1.04,458.61,1223.27)">3.28</text><text transform="matrix(1,0,0,1.04,524.91,1223.27)">0.31</text><text transform="matrix(1,0,0,1.04,591.23,1223.27)">3.05</text><text transform="matrix(1,0,0,1.04,657.53,1223.27)">4.57</text><text transform="matrix(1,0,0,1.04,723.85,1223.27)">1.46</text><text transform="matrix(1,0,0,1.04,790.15,1223.27)">2.55</text><text transform="matrix(1,0,0,1.04,856.47,1223.27)">5.39</text><text transform="matrix(1,0,0,1.04,922.77,1223.27)">2.76</text><text transform="matrix(1,0,0,1.04,989.09,1223.27)">2.69</text><text transform="matrix(1,0,0,1.04,1055.39,1223.27)">1.73</text><text transform="matrix(1,0,0,1.04,1121.71,1223.27)">1.78</text><text transform="matrix(1,0,0,1.04,127.06,1289.58)">0.00</text><text transform="matrix(1,0,0,1.04,193.37,1289.58)">3.32</text><text transform="matrix(1,0,0,1.04,259.68,1289.58)">0.09</text><text transform="matrix(1,0,0,1.04,325.99,1289.58)">0.00</text><text transform="matrix(1,0,0,1.04,392.29,1289.58)">0.00</text><text transform="matrix(1,0,0,1.04,458.61,1289.58)">0.00</text><text transform="matrix(1,0,0,1.04,524.91,1289.58)">0.37</text><text transform="matrix(1,0,0,1.04,591.23,1289.58)">0.67</text><text transform="matrix(1,0,0,1.04,657.53,1289.58)">0.00</text><text transform="matrix(1,0,0,1.04,723.85,1289.58)">0.00</text><text transform="matrix(1,0,0,1.04,790.15,1289.58)">0.00</text><text transform="matrix(1,0,0,1.04,856.47,1289.58)">0.00</text><text transform="matrix(1,0,0,1.04,922.77,1289.58)">0.00</text><text transform="matrix(1,0,0,1.04,989.09,1289.58)">0.17</text><text transform="matrix(1,0,0,1.04,1055.39,1289.58)">0.00</text><text transform="matrix(1,0,0,1.04,1121.71,1289.58)">0.39</text><text transform="matrix(1,0,0,1.04,127.06,1355.89)">4.02</text><text transform="matrix(1,0,0,1.04,193.37,1355.89)">2.89</text><text transform="matrix(1,0,0,1.04,259.68,1355.89)">3.50</text><text transform="matrix(1,0,0,1.04,325.99,1355.89)">2.32</text><text transform="matrix(1,0,0,1.04,392.29,1355.89)">2.98</text><text transform="matrix(1,0,0,1.04,458.61,1355.89)">1.70</text><text transform="matrix(1,0,0,1.04,524.91,1355.89)">1.16</text><text transform="matrix(1,0,0,1.04,591.23,1355.89)">2.62</text><text transform="matrix(1,0,0,1.04,657.53,1355.89)">0.91</text><text transform="matrix(1,0,0,1.04,723.85,1355.89)">1.70</text><text transform="matrix(1,0,0,1.04,790.15,1355.89)">1.10</text><text transform="matrix(1,0,0,1.04,856.47,1355.89)">0.82</text><text transform="matrix(1,0,0,1.04,922.77,1355.89)">1.31</text><text transform="matrix(1,0,0,1.04,989.09,1355.89)">2.11</text><text transform="matrix(1,0,0,1.04,1055.39,1355.89)">1.36</text><text transform="matrix(1,0,0,1.04,1121.71,1355.89)">0.93</text><text transform="matrix(1,0,0,1.04,127.06,1422.2)">0.00</text><text transform="matrix(1,0,0,1.04,193.37,1422.2)">0.00</text><text transform="matrix(1,0,0,1.04,259.68,1422.2)">0.00</text><text transform="matrix(1,0,0,1.04,325.99,1422.2)">0.00</text><text transform="matrix(1,0,0,1.04,392.29,1422.2)">0.00</text><text transform="matrix(1,0,0,1.04,458.61,1422.2)">2.86</text><text transform="matrix(1,0,0,1.04,524.91,1422.2)">3.09</text><text transform="matrix(1,0,0,1.04,591.23,1422.2)">3.14</text><text transform="matrix(1,0,0,1.04,657.53,1422.2)">0.80</text><text transform="matrix(1,0,0,1.04,723.85,1422.2)">0.00</text><text transform="matrix(1,0,0,1.04,790.15,1422.2)">0.34</text><text transform="matrix(1,0,0,1.04,856.47,1422.2)">0.00</text><text transform="matrix(1,0,0,1.04,922.77,1422.2)">5.29</text><text transform="matrix(1,0,0,1.04,989.09,1422.2)">3.43</text><text transform="matrix(1,0,0,1.04,1055.39,1422.2)">5.79</text><text transform="matrix(1,0,0,1.04,1121.71,1422.2)">5.10</text><text transform="matrix(1,0,0,1.04,127.06,1488.51)">1.47</text><text transform="matrix(1,0,0,1.04,193.37,1488.51)">1.83</text><text transform="matrix(1,0,0,1.04,259.68,1488.51)">0.18</text><text transform="matrix(1,0,0,1.04,325.99,1488.51)">0.00</text><text transform="matrix(1,0,0,1.04,392.29,1488.51)">0.00</text><text transform="matrix(1,0,0,1.04,458.61,1488.51)">1.00</text><text transform="matrix(1,0,0,1.04,524.91,1488.51)">0.27</text><text transform="matrix(1,0,0,1.04,591.23,1488.51)">0.70</text><text transform="matrix(1,0,0,1.04,657.53,1488.51)">0.00</text><text transform="matrix(1,0,0,1.04,723.85,1488.51)">0.00</text><text transform="matrix(1,0,0,1.04,790.15,1488.51)">0.00</text><text transform="matrix(1,0,0,1.04,856.47,1488.51)">0.08</text><text transform="matrix(1,0,0,1.04,922.77,1488.51)">0.80</text><text transform="matrix(1,0,0,1.04,989.09,1488.51)">0.00</text><text transform="matrix(1,0,0,1.04,1055.39,1488.51)">1.18</text><text transform="matrix(1,0,0,1.04,1121.71,1488.51)">0.20</text><text transform="matrix(1,0,0,1.04,127.06,1554.82)">0.08</text><text transform="matrix(1,0,0,1.04,193.37,1554.82)">0.85</text><text transform="matrix(1,0,0,1.04,259.68,1554.82)">0.29</text><text transform="matrix(1,0,0,1.04,325.99,1554.82)">0.00</text><text transform="matrix(1,0,0,1.04,392.29,1554.82)">1.55</text><text transform="matrix(1,0,0,1.04,458.61,1554.82)">0.70</text><text transform="matrix(1,0,0,1.04,524.91,1554.82)">1.28</text><text transform="matrix(1,0,0,1.04,591.23,1554.82)">1.21</text><text transform="matrix(1,0,0,1.04,657.53,1554.82)">0.74</text><text transform="matrix(1,0,0,1.04,723.85,1554.82)">0.00</text><text transform="matrix(1,0,0,1.04,790.15,1554.82)">0.54</text><text transform="matrix(1,0,0,1.04,856.47,1554.82)">0.59</text><text transform="matrix(1,0,0,1.04,922.77,1554.82)">2.95</text><text transform="matrix(1,0,0,1.04,989.09,1554.82)">2.50</text><text transform="matrix(1,0,0,1.04,1055.39,1554.82)">3.09</text><text transform="matrix(1,0,0,1.04,1121.71,1554.82)">2.24</text><text transform="matrix(1,0,0,1.04,127.06,1621.13)">2.03</text><text transform="matrix(1,0,0,1.04,193.37,1621.13)">0.00</text><text transform="matrix(1,0,0,1.04,259.68,1621.13)">2.87</text><text transform="matrix(1,0,0,1.04,325.99,1621.13)">1.26</text><text transform="matrix(1,0,0,1.04,392.29,1621.13)">0.00</text><text transform="matrix(1,0,0,1.04,458.61,1621.13)">2.08</text><text transform="matrix(1,0,0,1.04,524.91,1621.13)">3.34</text><text transform="matrix(1,0,0,1.04,591.23,1621.13)">2.20</text><text transform="matrix(1,0,0,1.04,657.53,1621.13)">0.89</text><text transform="matrix(1,0,0,1.04,723.85,1621.13)">0.00</text><text transform="matrix(1,0,0,1.04,790.15,1621.13)">0.19</text><text transform="matrix(1,0,0,1.04,856.47,1621.13)">0.39</text><text transform="matrix(1,0,0,1.04,922.77,1621.13)">0.62</text><text transform="matrix(1,0,0,1.04,989.09,1621.13)">0.13</text><text transform="matrix(1,0,0,1.04,1055.39,1621.13)">0.59</text><text transform="matrix(1,0,0,1.04,1121.71,1621.13)">0.00</text><text transform="matrix(1,0,0,1.04,127.06,1687.44)">0.80</text><text transform="matrix(1,0,0,1.04,193.37,1687.44)">2.22</text><text transform="matrix(1,0,0,1.04,259.68,1687.44)">0.47</text><text transform="matrix(1,0,0,1.04,325.99,1687.44)">0.00</text><text transform="matrix(1,0,0,1.04,392.29,1687.44)">0.00</text><text transform="matrix(1,0,0,1.04,458.61,1687.44)">0.00</text><text transform="matrix(1,0,0,1.04,524.91,1687.44)">0.38</text><text transform="matrix(1,0,0,1.04,591.23,1687.44)">0.68</text><text transform="matrix(1,0,0,1.04,657.53,1687.44)">0.94</text><text transform="matrix(1,0,0,1.04,723.85,1687.44)">2.41</text><text transform="matrix(1,0,0,1.04,790.15,1687.44)">0.31</text><text transform="matrix(1,0,0,1.04,856.47,1687.44)">0.32</text><text transform="matrix(1,0,0,1.04,922.77,1687.44)">2.61</text><text transform="matrix(1,0,0,1.04,989.09,1687.44)">0.32</text><text transform="matrix(1,0,0,1.04,1055.39,1687.44)">1.54</text><text transform="matrix(1,0,0,1.04,1121.71,1687.44)">0.14</text><text transform="matrix(1,0,0,1.04,127.06,1753.75)">0.18</text><text transform="matrix(1,0,0,1.04,193.37,1753.75)">0.00</text><text transform="matrix(1,0,0,1.04,259.68,1753.75)">0.00</text><text transform="matrix(1,0,0,1.04,325.99,1753.75)">0.00</text><text transform="matrix(1,0,0,1.04,392.29,1753.75)">0.00</text><text transform="matrix(1,0,0,1.04,458.61,1753.75)">0.00</text><text transform="matrix(1,0,0,1.04,524.91,1753.75)">0.71</text><text transform="matrix(1,0,0,1.04,591.23,1753.75)">0.00</text><text transform="matrix(1,0,0,1.04,657.53,1753.75)">0.29</text><text transform="matrix(1,0,0,1.04,723.85,1753.75)">0.00</text><text transform="matrix(1,0,0,1.04,790.15,1753.75)">0.33</text><text transform="matrix(1,0,0,1.04,856.47,1753.75)">1.93</text><text transform="matrix(1,0,0,1.04,922.77,1753.75)">0.00</text><text transform="matrix(1,0,0,1.04,989.09,1753.75)">0.00</text><text transform="matrix(1,0,0,1.04,1055.39,1753.75)">0.27</text><text transform="matrix(1,0,0,1.04,1121.71,1753.75)">0.00</text><text transform="matrix(1,0,0,1.04,127.06,1820.06)">2.20</text><text transform="matrix(1,0,0,1.04,193.37,1820.06)">2.31</text><text transform="matrix(1,0,0,1.04,259.68,1820.06)">1.32</text><text transform="matrix(1,0,0,1.04,325.99,1820.06)">0.69</text><text transform="matrix(1,0,0,1.04,392.29,1820.06)">0.00</text><text transform="matrix(1,0,0,1.04,458.61,1820.06)">3.27</text><text transform="matrix(1,0,0,1.04,524.91,1820.06)">5.66</text><text transform="matrix(1,0,0,1.04,591.23,1820.06)">2.43</text><text transform="matrix(1,0,0,1.04,657.53,1820.06)">0.44</text><text transform="matrix(1,0,0,1.04,723.85,1820.06)">0.00</text><text transform="matrix(1,0,0,1.04,790.15,1820.06)">0.14</text><text transform="matrix(1,0,0,1.04,856.47,1820.06)">0.19</text><text transform="matrix(1,0,0,1.04,922.77,1820.06)">2.69</text><text transform="matrix(1,0,0,1.04,989.09,1820.06)">1.93</text><text transform="matrix(1,0,0,1.04,1055.39,1820.06)">3.42</text><text transform="matrix(1,0,0,1.04,1121.71,1820.06)">2.81</text><text transform="matrix(1,0,0,1.04,127.06,1886.37)">0.19</text><text transform="matrix(1,0,0,1.04,193.37,1886.37)">1.63</text><text transform="matrix(1,0,0,1.04,259.68,1886.37)">0.00</text><text transform="matrix(1,0,0,1.04,325.99,1886.37)">0.00</text><text transform="matrix(1,0,0,1.04,392.29,1886.37)">0.00</text><text transform="matrix(1,0,0,1.04,458.61,1886.37)">1.41</text><text transform="matrix(1,0,0,1.04,524.91,1886.37)">0.75</text><text transform="matrix(1,0,0,1.04,591.23,1886.37)">0.76</text><text transform="matrix(1,0,0,1.04,657.53,1886.37)">2.90</text><text transform="matrix(1,0,0,1.04,723.85,1886.37)">1.41</text><text transform="matrix(1,0,0,1.04,790.15,1886.37)">1.87</text><text transform="matrix(1,0,0,1.04,856.47,1886.37)">0.56</text><text transform="matrix(1,0,0,1.04,922.77,1886.37)">0.97</text><text transform="matrix(1,0,0,1.04,989.09,1886.37)">0.00</text><text transform="matrix(1,0,0,1.04,1055.39,1886.37)">1.21</text><text transform="matrix(1,0,0,1.04,1121.71,1886.37)">0.16</text><text transform="matrix(1,0,0,1.04,127.06,1952.68)">4.85</text><text transform="matrix(1,0,0,1.04,193.37,1952.68)">3.55</text><text transform="matrix(1,0,0,1.04,259.68,1952.68)">2.85</text><text transform="matrix(1,0,0,1.04,325.99,1952.68)">3.60</text><text transform="matrix(1,0,0,1.04,392.29,1952.68)">0.00</text><text transform="matrix(1,0,0,1.04,458.61,1952.68)">5.30</text><text transform="matrix(1,0,0,1.04,524.91,1952.68)">4.07</text><text transform="matrix(1,0,0,1.04,591.23,1952.68)">5.67</text><text transform="matrix(1,0,0,1.04,657.53,1952.68)">1.44</text><text transform="matrix(1,0,0,1.04,723.85,1952.68)">1.14</text><text transform="matrix(1,0,0,1.04,790.15,1952.68)">1.05</text><text transform="matrix(1,0,0,1.04,856.47,1952.68)">0.35</text><text transform="matrix(1,0,0,1.04,922.77,1952.68)">2.94</text><text transform="matrix(1,0,0,1.04,989.09,1952.68)">3.19</text><text transform="matrix(1,0,0,1.04,1055.39,1952.68)">4.55</text><text transform="matrix(1,0,0,1.04,1121.71,1952.68)">5.46</text><text transform="matrix(1,0,0,1.04,127.06,2018.99)">4.82</text><text transform="matrix(1,0,0,1.04,193.37,2018.99)">4.96</text><text transform="matrix(1,0,0,1.04,259.68,2018.99)">3.09</text><text transform="matrix(1,0,0,1.04,325.99,2018.99)">2.43</text><text transform="matrix(1,0,0,1.04,392.29,2018.99)">0.00</text><text transform="matrix(1,0,0,1.04,458.61,2018.99)">4.17</text><text transform="matrix(1,0,0,1.04,524.91,2018.99)">4.10</text><text transform="matrix(1,0,0,1.04,591.23,2018.99)">3.99</text><text transform="matrix(1,0,0,1.04,657.53,2018.99)">5.77</text><text transform="matrix(1,0,0,1.04,723.85,2018.99)">4.69</text><text transform="matrix(1,0,0,1.04,790.15,2018.99)">4.73</text><text transform="matrix(1,0,0,1.04,856.47,2018.99)">5.73</text><text transform="matrix(1,0,0,1.04,922.77,2018.99)">6.21</text><text transform="matrix(1,0,0,1.04,989.09,2018.99)">4.83</text><text transform="matrix(1,0,0,1.04,1055.39,2018.99)">8.70</text><text transform="matrix(1,0,0,1.04,1121.71,2018.99)">3.85</text><text transform="matrix(1,0,0,1.04,127.06,2085.3)">8.31</text><text transform="matrix(1,0,0,1.04,193.37,2085.3)">4.32</text><text transform="matrix(1,0,0,1.04,259.68,2085.3)">5.49</text><text transform="matrix(1,0,0,1.04,325.99,2085.3)">5.57</text><text transform="matrix(1,0,0,1.04,392.29,2085.3)">3.70</text><text transform="matrix(1,0,0,1.04,458.61,2085.3)">5.70</text><text transform="matrix(1,0,0,1.04,524.91,2085.3)">7.90</text><text transform="matrix(1,0,0,1.04,591.23,2085.3)">7.47</text><text transform="matrix(1,0,0,1.04,657.53,2085.3)">0.48</text><text transform="matrix(1,0,0,1.04,723.85,2085.3)">0.00</text><text transform="matrix(1,0,0,1.04,790.15,2085.3)">0.92</text><text transform="matrix(1,0,0,1.04,856.47,2085.3)">1.31</text><text transform="matrix(1,0,0,1.04,922.77,2085.3)">7.68</text><text transform="matrix(1,0,0,1.04,989.09,2085.3)">10.04</text><text transform="matrix(1,0,0,1.04,1055.39,2085.3)">7.81</text><text transform="matrix(1,0,0,1.04,1121.71,2085.3)">10.11</text><text transform="matrix(1,0,0,1.04,127.06,2151.61)">9.42</text><text transform="matrix(1,0,0,1.04,193.37,2151.61)">6.33</text><text transform="matrix(1,0,0,1.04,259.68,2151.61)">7.49</text><text transform="matrix(1,0,0,1.04,325.99,2151.61)">7.39</text><text transform="matrix(1,0,0,1.04,392.29,2151.61)">3.75</text><text transform="matrix(1,0,0,1.04,458.61,2151.61)">7.43</text><text transform="matrix(1,0,0,1.04,524.91,2151.61)">10.19</text><text transform="matrix(1,0,0,1.04,591.23,2151.61)">9.09</text><text transform="matrix(1,0,0,1.04,657.53,2151.61)">2.59</text><text transform="matrix(1,0,0,1.04,723.85,2151.61)">2.75</text><text transform="matrix(1,0,0,1.04,790.15,2151.61)">3.67</text><text transform="matrix(1,0,0,1.04,856.47,2151.61)">4.06</text><text transform="matrix(1,0,0,1.04,922.77,2151.61)">9.71</text><text transform="matrix(1,0,0,1.04,989.09,2151.61)">12.54</text><text transform="matrix(1,0,0,1.04,1055.39,2151.61)">10.17</text><text transform="matrix(1,0,0,1.04,1121.71,2151.61)">12.58</text><text transform="matrix(1,0,0,1.04,127.06,2217.92)">7.83</text><text transform="matrix(1,0,0,1.04,193.37,2217.92)">7.97</text><text transform="matrix(1,0,0,1.04,259.68,2217.92)">5.94</text><text transform="matrix(1,0,0,1.04,325.99,2217.92)">6.18</text><text transform="matrix(1,0,0,1.04,392.29,2217.92)">7.78</text><text transform="matrix(1,0,0,1.04,458.61,2217.92)">8.17</text><text transform="matrix(1,0,0,1.04,524.91,2217.92)">10.09</text><text transform="matrix(1,0,0,1.04,591.23,2217.92)">9.02</text><text transform="matrix(1,0,0,1.04,657.53,2217.92)">7.31</text><text transform="matrix(1,0,0,1.04,723.85,2217.92)">10.47</text><text transform="matrix(1,0,0,1.04,790.15,2217.92)">9.54</text><text transform="matrix(1,0,0,1.04,856.47,2217.92)">8.87</text><text transform="matrix(1,0,0,1.04,922.77,2217.92)">9.49</text><text transform="matrix(1,0,0,1.04,989.09,2217.92)">12.51</text><text transform="matrix(1,0,0,1.04,1055.39,2217.92)">9.20</text><text transform="matrix(1,0,0,1.04,1121.71,2217.92)">11.76</text><text transform="matrix(1,0,0,1.04,127.06,2284.23)">8.86</text><text transform="matrix(1,0,0,1.04,193.37,2284.23)">5.23</text><text transform="matrix(1,0,0,1.04,259.68,2284.23)">6.25</text><text transform="matrix(1,0,0,1.04,325.99,2284.23)">6.28</text><text transform="matrix(1,0,0,1.04,392.29,2284.23)">0.00</text><text transform="matrix(1,0,0,1.04,458.61,2284.23)">6.15</text><text transform="matrix(1,0,0,1.04,524.91,2284.23)">9.19</text><text transform="matrix(1,0,0,1.04,591.23,2284.23)">7.59</text><text transform="matrix(1,0,0,1.04,657.53,2284.23)">2.23</text><text transform="matrix(1,0,0,1.04,723.85,2284.23)">0.00</text><text transform="matrix(1,0,0,1.04,790.15,2284.23)">1.78</text><text transform="matrix(1,0,0,1.04,856.47,2284.23)">4.49</text><text transform="matrix(1,0,0,1.04,922.77,2284.23)">8.88</text><text transform="matrix(1,0,0,1.04,989.09,2284.23)">11.67</text><text transform="matrix(1,0,0,1.04,1055.39,2284.23)">9.19</text><text transform="matrix(1,0,0,1.04,1121.71,2284.23)">11.48</text><text transform="matrix(1,0,0,1.04,127.06,2350.54)">9.29</text><text transform="matrix(1,0,0,1.04,193.37,2350.54)">7.11</text><text transform="matrix(1,0,0,1.04,259.68,2350.54)">7.48</text><text transform="matrix(1,0,0,1.04,325.99,2350.54)">7.52</text><text transform="matrix(1,0,0,1.04,392.29,2350.54)">4.30</text><text transform="matrix(1,0,0,1.04,458.61,2350.54)">7.67</text><text transform="matrix(1,0,0,1.04,524.91,2350.54)">10.17</text><text transform="matrix(1,0,0,1.04,591.23,2350.54)">9.41</text><text transform="matrix(1,0,0,1.04,657.53,2350.54)">3.78</text><text transform="matrix(1,0,0,1.04,723.85,2350.54)">4.78</text><text transform="matrix(1,0,0,1.04,790.15,2350.54)">5.50</text><text transform="matrix(1,0,0,1.04,856.47,2350.54)">5.57</text><text transform="matrix(1,0,0,1.04,922.77,2350.54)">9.53</text><text transform="matrix(1,0,0,1.04,989.09,2350.54)">12.50</text><text transform="matrix(1,0,0,1.04,1055.39,2350.54)">9.84</text><text transform="matrix(1,0,0,1.04,1121.71,2350.54)">12.39</text><text transform="matrix(1,0,0,1.04,127.06,2416.85)">0.72</text><text transform="matrix(1,0,0,1.04,193.37,2416.85)">3.47</text><text transform="matrix(1,0,0,1.04,259.68,2416.85)">1.39</text><text transform="matrix(1,0,0,1.04,325.99,2416.85)">1.20</text><text transform="matrix(1,0,0,1.04,392.29,2416.85)">2.98</text><text transform="matrix(1,0,0,1.04,458.61,2416.85)">2.25</text><text transform="matrix(1,0,0,1.04,524.91,2416.85)">3.03</text><text transform="matrix(1,0,0,1.04,591.23,2416.85)">3.53</text><text transform="matrix(1,0,0,1.04,657.53,2416.85)">0.00</text><text transform="matrix(1,0,0,1.04,723.85,2416.85)">0.46</text><text transform="matrix(1,0,0,1.04,790.15,2416.85)">0.68</text><text transform="matrix(1,0,0,1.04,856.47,2416.85)">0.06</text><text transform="matrix(1,0,0,1.04,922.77,2416.85)">4.33</text><text transform="matrix(1,0,0,1.04,989.09,2416.85)">3.02</text><text transform="matrix(1,0,0,1.04,1055.39,2416.85)">3.96</text><text transform="matrix(1,0,0,1.04,1121.71,2416.85)">2.95</text><text transform="matrix(1,0,0,1.04,127.06,2483.16)">7.63</text><text transform="matrix(1,0,0,1.04,193.37,2483.16)">6.86</text><text transform="matrix(1,0,0,1.04,259.68,2483.16)">6.56</text><text transform="matrix(1,0,0,1.04,325.99,2483.16)">6.30</text><text transform="matrix(1,0,0,1.04,392.29,2483.16)">5.74</text><text transform="matrix(1,0,0,1.04,458.61,2483.16)">6.02</text><text transform="matrix(1,0,0,1.04,524.91,2483.16)">8.34</text><text transform="matrix(1,0,0,1.04,591.23,2483.16)">7.79</text><text transform="matrix(1,0,0,1.04,657.53,2483.16)">3.24</text><text transform="matrix(1,0,0,1.04,723.85,2483.16)">3.61</text><text transform="matrix(1,0,0,1.04,790.15,2483.16)">4.40</text><text transform="matrix(1,0,0,1.04,856.47,2483.16)">5.04</text><text transform="matrix(1,0,0,1.04,922.77,2483.16)">7.73</text><text transform="matrix(1,0,0,1.04,989.09,2483.16)">10.23</text><text transform="matrix(1,0,0,1.04,1055.39,2483.16)">8.07</text><text transform="matrix(1,0,0,1.04,1121.71,2483.16)">10.44</text><text transform="matrix(1,0,0,1.04,127.06,2549.47)">6.53</text><text transform="matrix(1,0,0,1.04,193.37,2549.47)">8.26</text><text transform="matrix(1,0,0,1.04,259.68,2549.47)">7.83</text><text transform="matrix(1,0,0,1.04,325.99,2549.47)">7.44</text><text transform="matrix(1,0,0,1.04,392.29,2549.47)">5.19</text><text transform="matrix(1,0,0,1.04,458.61,2549.47)">7.38</text><text transform="matrix(1,0,0,1.04,524.91,2549.47)">10.68</text><text transform="matrix(1,0,0,1.04,591.23,2549.47)">9.61</text><text transform="matrix(1,0,0,1.04,657.53,2549.47)">2.91</text><text transform="matrix(1,0,0,1.04,723.85,2549.47)">6.80</text><text transform="matrix(1,0,0,1.04,790.15,2549.47)">6.83</text><text transform="matrix(1,0,0,1.04,856.47,2549.47)">5.71</text><text transform="matrix(1,0,0,1.04,922.77,2549.47)">9.21</text><text transform="matrix(1,0,0,1.04,989.09,2549.47)">11.68</text><text transform="matrix(1,0,0,1.04,1055.39,2549.47)">9.04</text><text transform="matrix(1,0,0,1.04,1121.71,2549.47)">11.28</text><text transform="matrix(1,0,0,1.04,127.06,2615.78)">6.97</text><text transform="matrix(1,0,0,1.04,193.37,2615.78)">8.71</text><text transform="matrix(1,0,0,1.04,259.68,2615.78)">8.41</text><text transform="matrix(1,0,0,1.04,325.99,2615.78)">7.73</text><text transform="matrix(1,0,0,1.04,392.29,2615.78)">6.80</text><text transform="matrix(1,0,0,1.04,458.61,2615.78)">7.91</text><text transform="matrix(1,0,0,1.04,524.91,2615.78)">10.00</text><text transform="matrix(1,0,0,1.04,591.23,2615.78)">9.60</text><text transform="matrix(1,0,0,1.04,657.53,2615.78)">5.71</text><text transform="matrix(1,0,0,1.04,723.85,2615.78)">7.13</text><text transform="matrix(1,0,0,1.04,790.15,2615.78)">7.60</text><text transform="matrix(1,0,0,1.04,856.47,2615.78)">7.28</text><text transform="matrix(1,0,0,1.04,922.77,2615.78)">9.60</text><text transform="matrix(1,0,0,1.04,989.09,2615.78)">11.96</text><text transform="matrix(1,0,0,1.04,1055.39,2615.78)">10.11</text><text transform="matrix(1,0,0,1.04,1121.71,2615.78)">12.33</text><text transform="matrix(1,0,0,1.04,127.06,2682.09)">6.99</text><text transform="matrix(1,0,0,1.04,193.37,2682.09)">8.89</text><text transform="matrix(1,0,0,1.04,259.68,2682.09)">8.23</text><text transform="matrix(1,0,0,1.04,325.99,2682.09)">6.69</text><text transform="matrix(1,0,0,1.04,392.29,2682.09)">4.51</text><text transform="matrix(1,0,0,1.04,458.61,2682.09)">7.14</text><text transform="matrix(1,0,0,1.04,524.91,2682.09)">9.44</text><text transform="matrix(1,0,0,1.04,591.23,2682.09)">9.24</text><text transform="matrix(1,0,0,1.04,657.53,2682.09)">0.53</text><text transform="matrix(1,0,0,1.04,723.85,2682.09)">5.62</text><text transform="matrix(1,0,0,1.04,790.15,2682.09)">5.96</text><text transform="matrix(1,0,0,1.04,856.47,2682.09)">4.50</text><text transform="matrix(1,0,0,1.04,922.77,2682.09)">10.50</text><text transform="matrix(1,0,0,1.04,989.09,2682.09)">11.73</text><text transform="matrix(1,0,0,1.04,1055.39,2682.09)">6.39</text><text transform="matrix(1,0,0,1.04,1121.71,2682.09)">7.33</text><text transform="matrix(1,0,0,1.04,127.06,2748.4)">6.45</text><text transform="matrix(1,0,0,1.04,193.37,2748.4)">7.43</text><text transform="matrix(1,0,0,1.04,259.68,2748.4)">7.10</text><text transform="matrix(1,0,0,1.04,325.99,2748.4)">6.65</text><text transform="matrix(1,0,0,1.04,392.29,2748.4)">6.34</text><text transform="matrix(1,0,0,1.04,458.61,2748.4)">6.61</text><text transform="matrix(1,0,0,1.04,524.91,2748.4)">9.04</text><text transform="matrix(1,0,0,1.04,591.23,2748.4)">8.42</text><text transform="matrix(1,0,0,1.04,657.53,2748.4)">5.40</text><text transform="matrix(1,0,0,1.04,723.85,2748.4)">5.95</text><text transform="matrix(1,0,0,1.04,790.15,2748.4)">6.71</text><text transform="matrix(1,0,0,1.04,856.47,2748.4)">7.47</text><text transform="matrix(1,0,0,1.04,922.77,2748.4)">7.84</text><text transform="matrix(1,0,0,1.04,989.09,2748.4)">9.87</text><text transform="matrix(1,0,0,1.04,1055.39,2748.4)">8.35</text><text transform="matrix(1,0,0,1.04,1121.71,2748.4)">10.28</text><text transform="matrix(1,0,0,1.04,127.06,2814.71)">6.11</text><text transform="matrix(1,0,0,1.04,193.37,2814.71)">6.51</text><text transform="matrix(1,0,0,1.04,259.68,2814.71)">6.57</text><text transform="matrix(1,0,0,1.04,325.99,2814.71)">5.85</text><text transform="matrix(1,0,0,1.04,392.29,2814.71)">3.21</text><text transform="matrix(1,0,0,1.04,458.61,2814.71)">7.49</text><text transform="matrix(1,0,0,1.04,524.91,2814.71)">9.19</text><text transform="matrix(1,0,0,1.04,591.23,2814.71)">10.17</text><text transform="matrix(1,0,0,1.04,657.53,2814.71)">4.61</text><text transform="matrix(1,0,0,1.04,723.85,2814.71)">5.13</text><text transform="matrix(1,0,0,1.04,790.15,2814.71)">5.13</text><text transform="matrix(1,0,0,1.04,856.47,2814.71)">5.27</text><text transform="matrix(1,0,0,1.04,922.77,2814.71)">8.65</text><text transform="matrix(1,0,0,1.04,989.09,2814.71)">10.73</text><text transform="matrix(1,0,0,1.04,1055.39,2814.71)">9.64</text><text transform="matrix(1,0,0,1.04,1121.71,2814.71)">10.87</text><text transform="matrix(1,0,0,1.04,127.06,2881.02)">2.24</text><text transform="matrix(1,0,0,1.04,193.37,2881.02)">0.00</text><text transform="matrix(1,0,0,1.04,259.68,2881.02)">3.90</text><text transform="matrix(1,0,0,1.04,325.99,2881.02)">3.55</text><text transform="matrix(1,0,0,1.04,392.29,2881.02)">8.76</text><text transform="matrix(1,0,0,1.04,458.61,2881.02)">0.00</text><text transform="matrix(1,0,0,1.04,524.91,2881.02)">1.35</text><text transform="matrix(1,0,0,1.04,591.23,2881.02)">3.51</text><text transform="matrix(1,0,0,1.04,657.53,2881.02)">3.43</text><text transform="matrix(1,0,0,1.04,723.85,2881.02)">4.34</text><text transform="matrix(1,0,0,1.04,790.15,2881.02)">7.50</text><text transform="matrix(1,0,0,1.04,856.47,2881.02)">6.51</text><text transform="matrix(1,0,0,1.04,922.77,2881.02)">0.00</text><text transform="matrix(1,0,0,1.04,989.09,2881.02)">0.11</text><text transform="matrix(1,0,0,1.04,1055.39,2881.02)">0.00</text><text transform="matrix(1,0,0,1.04,1121.71,2881.02)">0.43</text><text transform="matrix(1,0,0,1.04,127.06,2947.33)">4.12</text><text transform="matrix(1,0,0,1.04,193.37,2947.33)">0.00</text><text transform="matrix(1,0,0,1.04,259.68,2947.33)">6.70</text><text transform="matrix(1,0,0,1.04,325.99,2947.33)">6.07</text><text transform="matrix(1,0,0,1.04,392.29,2947.33)">6.50</text><text transform="matrix(1,0,0,1.04,458.61,2947.33)">2.98</text><text transform="matrix(1,0,0,1.04,524.91,2947.33)">2.72</text><text transform="matrix(1,0,0,1.04,591.23,2947.33)">3.15</text><text transform="matrix(1,0,0,1.04,657.53,2947.33)">1.31</text><text transform="matrix(1,0,0,1.04,723.85,2947.33)">1.20</text><text transform="matrix(1,0,0,1.04,790.15,2947.33)">4.64</text><text transform="matrix(1,0,0,1.04,856.47,2947.33)">3.74</text><text transform="matrix(1,0,0,1.04,922.77,2947.33)">0.00</text><text transform="matrix(1,0,0,1.04,989.09,2947.33)">0.10</text><text transform="matrix(1,0,0,1.04,1055.39,2947.33)">0.00</text><text transform="matrix(1,0,0,1.04,1121.71,2947.33)">0.09</text><text transform="matrix(1,0,0,1.04,127.06,3013.64)">5.74</text><text transform="matrix(1,0,0,1.04,193.37,3013.64)">1.33</text><text transform="matrix(1,0,0,1.04,259.68,3013.64)">7.99</text><text transform="matrix(1,0,0,1.04,325.99,3013.64)">6.85</text><text transform="matrix(1,0,0,1.04,392.29,3013.64)">5.70</text><text transform="matrix(1,0,0,1.04,458.61,3013.64)">5.57</text><text transform="matrix(1,0,0,1.04,524.91,3013.64)">7.53</text><text transform="matrix(1,0,0,1.04,591.23,3013.64)">5.88</text><text transform="matrix(1,0,0,1.04,657.53,3013.64)">3.38</text><text transform="matrix(1,0,0,1.04,723.85,3013.64)">2.20</text><text transform="matrix(1,0,0,1.04,790.15,3013.64)">2.81</text><text transform="matrix(1,0,0,1.04,856.47,3013.64)">4.21</text><text transform="matrix(1,0,0,1.04,922.77,3013.64)">3.70</text><text transform="matrix(1,0,0,1.04,989.09,3013.64)">5.78</text><text transform="matrix(1,0,0,1.04,1055.39,3013.64)">3.23</text><text transform="matrix(1,0,0,1.04,1121.71,3013.64)">6.78</text><text transform="matrix(1,0,0,1.04,127.06,3079.95)">4.47</text><text transform="matrix(1,0,0,1.04,193.37,3079.95)">3.18</text><text transform="matrix(1,0,0,1.04,259.68,3079.95)">6.09</text><text transform="matrix(1,0,0,1.04,325.99,3079.95)">4.84</text><text transform="matrix(1,0,0,1.04,392.29,3079.95)">3.42</text><text transform="matrix(1,0,0,1.04,458.61,3079.95)">4.53</text><text transform="matrix(1,0,0,1.04,524.91,3079.95)">6.08</text><text transform="matrix(1,0,0,1.04,591.23,3079.95)">5.79</text><text transform="matrix(1,0,0,1.04,657.53,3079.95)">0.15</text><text transform="matrix(1,0,0,1.04,723.85,3079.95)">0.00</text><text transform="matrix(1,0,0,1.04,790.15,3079.95)">0.22</text><text transform="matrix(1,0,0,1.04,856.47,3079.95)">0.24</text><text transform="matrix(1,0,0,1.04,922.77,3079.95)">1.88</text><text transform="matrix(1,0,0,1.04,989.09,3079.95)">4.36</text><text transform="matrix(1,0,0,1.04,1055.39,3079.95)">4.49</text><text transform="matrix(1,0,0,1.04,1121.71,3079.95)">6.30</text><text transform="matrix(1,0,0,1.04,127.06,3146.26)">8.22</text><text transform="matrix(1,0,0,1.04,193.37,3146.26)">3.81</text><text transform="matrix(1,0,0,1.04,259.68,3146.26)">10.20</text><text transform="matrix(1,0,0,1.04,325.99,3146.26)">9.87</text><text transform="matrix(1,0,0,1.04,392.29,3146.26)">5.84</text><text transform="matrix(1,0,0,1.04,458.61,3146.26)">7.50</text><text transform="matrix(1,0,0,1.04,524.91,3146.26)">8.80</text><text transform="matrix(1,0,0,1.04,591.23,3146.26)">7.30</text><text transform="matrix(1,0,0,1.04,657.53,3146.26)">6.22</text><text transform="matrix(1,0,0,1.04,723.85,3146.26)">5.08</text><text transform="matrix(1,0,0,1.04,790.15,3146.26)">4.93</text><text transform="matrix(1,0,0,1.04,856.47,3146.26)">5.11</text><text transform="matrix(1,0,0,1.04,922.77,3146.26)">1.90</text><text transform="matrix(1,0,0,1.04,989.09,3146.26)">2.67</text><text transform="matrix(1,0,0,1.04,1055.39,3146.26)">1.46</text><text transform="matrix(1,0,0,1.04,1121.71,3146.26)">1.99</text><text transform="matrix(1,0,0,1.04,127.06,3212.57)">5.84</text><text transform="matrix(1,0,0,1.04,193.37,3212.57)">0.00</text><text transform="matrix(1,0,0,1.04,259.68,3212.57)">7.79</text><text transform="matrix(1,0,0,1.04,325.99,3212.57)">7.36</text><text transform="matrix(1,0,0,1.04,392.29,3212.57)">4.85</text><text transform="matrix(1,0,0,1.04,458.61,3212.57)">6.20</text><text transform="matrix(1,0,0,1.04,524.91,3212.57)">8.10</text><text transform="matrix(1,0,0,1.04,591.23,3212.57)">7.21</text><text transform="matrix(1,0,0,1.04,657.53,3212.57)">0.13</text><text transform="matrix(1,0,0,1.04,723.85,3212.57)">0.00</text><text transform="matrix(1,0,0,1.04,790.15,3212.57)">0.15</text><text transform="matrix(1,0,0,1.04,856.47,3212.57)">0.00</text><text transform="matrix(1,0,0,1.04,922.77,3212.57)">0.00</text><text transform="matrix(1,0,0,1.04,989.09,3212.57)">0.00</text><text transform="matrix(1,0,0,1.04,1055.39,3212.57)">0.00</text><text transform="matrix(1,0,0,1.04,1121.71,3212.57)">0.00</text><text transform="matrix(1,0,0,1.04,127.06,3278.88)">4.73</text><text transform="matrix(1,0,0,1.04,193.37,3278.88)">0.91</text><text transform="matrix(1,0,0,1.04,259.68,3278.88)">7.84</text><text transform="matrix(1,0,0,1.04,325.99,3278.88)">8.17</text><text transform="matrix(1,0,0,1.04,392.29,3278.88)">2.39</text><text transform="matrix(1,0,0,1.04,458.61,3278.88)">5.85</text><text transform="matrix(1,0,0,1.04,524.91,3278.88)">6.81</text><text transform="matrix(1,0,0,1.04,591.23,3278.88)">7.16</text><text transform="matrix(1,0,0,1.04,657.53,3278.88)">5.33</text><text transform="matrix(1,0,0,1.04,723.85,3278.88)">4.00</text><text transform="matrix(1,0,0,1.04,790.15,3278.88)">3.29</text><text transform="matrix(1,0,0,1.04,856.47,3278.88)">2.45</text><text transform="matrix(1,0,0,1.04,922.77,3278.88)">0.34</text><text transform="matrix(1,0,0,1.04,989.09,3278.88)">1.16</text><text transform="matrix(1,0,0,1.04,1055.39,3278.88)">0.04</text><text transform="matrix(1,0,0,1.04,1121.71,3278.88)">1.10</text><text transform="matrix(1,0,0,1.04,127.06,3345.19)">3.64</text><text transform="matrix(1,0,0,1.04,193.37,3345.19)">1.45</text><text transform="matrix(1,0,0,1.04,259.68,3345.19)">6.43</text><text transform="matrix(1,0,0,1.04,325.99,3345.19)">6.04</text><text transform="matrix(1,0,0,1.04,392.29,3345.19)">3.60</text><text transform="matrix(1,0,0,1.04,458.61,3345.19)">4.62</text><text transform="matrix(1,0,0,1.04,524.91,3345.19)">4.26</text><text transform="matrix(1,0,0,1.04,591.23,3345.19)">5.77</text><text transform="matrix(1,0,0,1.04,657.53,3345.19)">0.00</text><text transform="matrix(1,0,0,1.04,723.85,3345.19)">0.00</text><text transform="matrix(1,0,0,1.04,790.15,3345.19)">0.16</text><text transform="matrix(1,0,0,1.04,856.47,3345.19)">0.00</text><text transform="matrix(1,0,0,1.04,922.77,3345.19)">1.19</text><text transform="matrix(1,0,0,1.04,989.09,3345.19)">4.33</text><text transform="matrix(1,0,0,1.04,1055.39,3345.19)">1.29</text><text transform="matrix(1,0,0,1.04,1121.71,3345.19)">5.30</text><text transform="matrix(1,0,0,1.04,127.06,3411.5)">4.38</text><text transform="matrix(1,0,0,1.04,193.37,3411.5)">4.31</text><text transform="matrix(1,0,0,1.04,259.68,3411.5)">2.25</text><text transform="matrix(1,0,0,1.04,325.99,3411.5)">2.20</text><text transform="matrix(1,0,0,1.04,392.29,3411.5)">4.96</text><text transform="matrix(1,0,0,1.04,458.61,3411.5)">3.10</text><text transform="matrix(1,0,0,1.04,524.91,3411.5)">3.53</text><text transform="matrix(1,0,0,1.04,591.23,3411.5)">3.08</text><text transform="matrix(1,0,0,1.04,657.53,3411.5)">3.02</text><text transform="matrix(1,0,0,1.04,723.85,3411.5)">5.23</text><text transform="matrix(1,0,0,1.04,790.15,3411.5)">5.17</text><text transform="matrix(1,0,0,1.04,856.47,3411.5)">3.33</text><text transform="matrix(1,0,0,1.04,922.77,3411.5)">3.12</text><text transform="matrix(1,0,0,1.04,989.09,3411.5)">1.75</text><text transform="matrix(1,0,0,1.04,1055.39,3411.5)">3.06</text><text transform="matrix(1,0,0,1.04,1121.71,3411.5)">1.81</text><text transform="matrix(1,0,0,1.04,127.06,3477.81)">7.98</text><text transform="matrix(1,0,0,1.04,193.37,3477.81)">6.92</text><text transform="matrix(1,0,0,1.04,259.68,3477.81)">6.91</text><text transform="matrix(1,0,0,1.04,325.99,3477.81)">7.71</text><text transform="matrix(1,0,0,1.04,392.29,3477.81)">8.45</text><text transform="matrix(1,0,0,1.04,458.61,3477.81)">6.24</text><text transform="matrix(1,0,0,1.04,524.91,3477.81)">7.69</text><text transform="matrix(1,0,0,1.04,591.23,3477.81)">6.48</text><text transform="matrix(1,0,0,1.04,657.53,3477.81)">6.68</text><text transform="matrix(1,0,0,1.04,723.85,3477.81)">7.89</text><text transform="matrix(1,0,0,1.04,790.15,3477.81)">7.54</text><text transform="matrix(1,0,0,1.04,856.47,3477.81)">6.62</text><text transform="matrix(1,0,0,1.04,922.77,3477.81)">8.05</text><text transform="matrix(1,0,0,1.04,989.09,3477.81)">7.32</text><text transform="matrix(1,0,0,1.04,1055.39,3477.81)">7.83</text><text transform="matrix(1,0,0,1.04,1121.71,3477.81)">7.03</text></g>
<g font-size="29.0" font-weight="bold"><text transform="matrix(1,0,0,1.04,1166.86,162.5)">CrLBD1</text><text transform="matrix(1,0,0,1.04,1166.86,228.81)">CrLBD2</text><text transform="matrix(1,0,0,1.04,1166.86,295.12)">CrLBD3</text><text transform="matrix(1,0,0,1.04,1166.86,361.44)">CrLBD4</text><text transform="matrix(1,0,0,1.04,1166.86,427.75)">CrLBD5</text><text transform="matrix(1,0,0,1.04,1166.86,494.06)">CrLBD6</text><text transform="matrix(1,0,0,1.04,1166.86,560.37)">CrLBD7</text><text transform="matrix(1,0,0,1.04,1166.86,626.68)">CrLBD8</text><text transform="matrix(1,0,0,1.04,1166.86,692.99)">CrLBD9</text><text transform="matrix(1,0,0,1.04,1166.86,759.3)">CrLBD11</text><text transform="matrix(1,0,0,1.04,1166.86,825.61)">CrLBD12</text><text transform="matrix(1,0,0,1.04,1166.86,891.92)">CrLBD13</text><text transform="matrix(1,0,0,1.04,1166.86,958.23)">CrLBD15</text><text transform="matrix(1,0,0,1.04,1166.86,1024.54)">CrLBD16</text><text transform="matrix(1,0,0,1.04,1166.86,1090.85)">CrLBD18</text><text transform="matrix(1,0,0,1.04,1166.86,1157.15)">CrLBD19</text><text transform="matrix(1,0,0,1.04,1166.86,1223.46)">CrLBD20</text><text transform="matrix(1,0,0,1.04,1166.86,1289.77)">CrLBD22</text><text transform="matrix(1,0,0,1.04,1166.86,1356.09)">CrLBD23</text><text transform="matrix(1,0,0,1.04,1166.86,1422.39)">CrLBD24</text><text transform="matrix(1,0,0,1.04,1166.86,1488.7)">CrLBD25</text><text transform="matrix(1,0,0,1.04,1166.86,1555.01)">CrLBD26</text><text transform="matrix(1,0,0,1.04,1166.86,1621.33)">CrLBD27</text><text transform="matrix(1,0,0,1.04,1166.86,1687.63)">CrLBD28</text><text transform="matrix(1,0,0,1.04,1166.86,1753.94)">CrLBD29</text><text transform="matrix(1,0,0,1.04,1166.86,1820.25)">CrLBD30</text><text transform="matrix(1,0,0,1.04,1166.86,1886.57)">CrLBD31</text><text transform="matrix(1,0,0,1.04,1166.86,1952.88)">CrLBD32</text><text transform="matrix(1,0,0,1.04,1166.86,2019.18)">CrLBD34</text><text transform="matrix(1,0,0,1.04,1166.86,2085.49)">CrGES</text><text transform="matrix(1,0,0,1.04,1166.86,2151.81)">CrG10H</text><text transform="matrix(1,0,0,1.04,1166.86,2218.11)">Cr10HGO</text><text transform="matrix(1,0,0,1.04,1166.86,2284.43)">CrIRS</text><text transform="matrix(1,0,0,1.04,1166.86,2350.74)">Cr7DLS</text><text transform="matrix(1,0,0,1.04,1166.86,2417.05)">Cr7DLGT</text><text transform="matrix(1,0,0,1.04,1166.86,2483.36)">CrDL7H</text><text transform="matrix(1,0,0,1.04,1166.86,2549.66)">CrLAMT</text><text transform="matrix(1,0,0,1.04,1166.86,2615.97)">CrSLS2</text><text transform="matrix(1,0,0,1.04,1166.86,2682.28)">CrTDC</text><text transform="matrix(1,0,0,1.04,1166.86,2748.59)">CrSTR</text><text transform="matrix(1,0,0,1.04,1166.86,2814.91)">CrSGD</text><text transform="matrix(1,0,0,1.04,1166.86,2881.22)">CrT16H1</text><text transform="matrix(1,0,0,1.04,1166.86,2947.53)">CrT16H2</text><text transform="matrix(1,0,0,1.04,1166.86,3013.84)">Cr16OMT</text><text transform="matrix(1,0,0,1.04,1166.86,3080.14)">CrT3O</text><text transform="matrix(1,0,0,1.04,1166.86,3146.45)">CrT3R</text><text transform="matrix(1,0,0,1.04,1166.86,3212.76)">CrNMT</text><text transform="matrix(1,0,0,1.04,1166.86,3279.07)">CrD4H</text><text transform="matrix(1,0,0,1.04,1166.86,3345.39)">CrDAT</text><text transform="matrix(1,0,0,1.04,1166.86,3411.7)">CrACT1</text><text transform="matrix(1,0,0,1.04,1166.86,3478.01)">CrACT3</text></g>
<g font-size="29.0" font-weight="bold"><text transform="matrix(0,1,-1.04,0,114.16,3524.8)">root(CRA_AP)</text><text transform="matrix(0,1,-1.04,0,180.47,3524.8)">stem(CRA_AO)</text><text transform="matrix(0,1,-1.04,0,246.78,3524.8)">immature_leaf(CRA_AN)</text><text transform="matrix(0,1,-1.04,0,313.09,3524.8)">mature_leaf(CRA_AM)</text><text transform="matrix(0,1,-1.04,0,379.39,3524.8)">flowers(CRA_AA)</text><text transform="matrix(0,1,-1.04,0,445.71,3524.8)">sterl_seedlings_MJ_ctrl(CRA_AE)</text><text transform="matrix(0,1,-1.04,0,512.01,3524.8)">sterl_seedlings_MJ_5d(CRA_AG)</text><text transform="matrix(0,1,-1.04,0,578.33,3524.8)">sterl_seedlings_MJ_12d(CRA_AF)</text><text transform="matrix(0,1,-1.04,0,644.63,3524.8)">susp_cult_MJ_0h(CRA_AL)</text><text transform="matrix(0,1,-1.04,0,710.95,3524.8)">susp_cult_MJ_6h(CRA_AI)</text><text transform="matrix(0,1,-1.04,0,777.25,3524.8)">susp_cult_MJ_12h(CRA_AJ)</text><text transform="matrix(0,1,-1.04,0,843.57,3524.8)">susp_cult_MJ_24h(CRA_AK)</text><text transform="matrix(0,1,-1.04,0,909.88,3524.8)">wt_hairy_root_MJ_0h(CRA_AT)</text><text transform="matrix(0,1,-1.04,0,976.19,3524.8)">wt_hairy_root_MJ_24h(CRA_AU)</text><text transform="matrix(0,1,-1.04,0,1042.49,3524.8)">TDCi_hairy_roots_MJ_0h(CRA_AV)</text><text transform="matrix(0,1,-1.04,0,1108.81,3524.8)">TDCi_hairy_roots_MJ_24h(CRA_AW)</text></g>
<rect x="1647.8" y="121.4" width="66.88" height="66.63" fill="#0148a3"/>
<rect x="1714.08" y="121.4" width="66.88" height="66.63" fill="#0148a3"/>
<rect x="1780.36" y="121.4" width="66.88" height="66.63" fill="#0148a3"/>
<rect x="1846.64" y="121.4" width="66.88" height="66.63" fill="#0048a3"/>
<rect x="1912.92" y="121.4" width="66.88" height="66.63" fill="#0148a3"/>
<rect x="1979.2" y="121.4" width="66.88" height="66.63" fill="#0148a3"/>
<rect x="1647.8" y="187.43" width="66.88" height="66.63" fill="#0248a3"/>
<rect x="1714.08" y="187.43" width="66.88" height="66.63" fill="#0148a3"/>
<rect x="1780.36" y="187.43" width="66.88" height="66.63" fill="#0048a3"/>
<rect x="1846.64" y="187.43" width="66.88" height="66.63" fill="#0048a3"/>
<rect x="1912.92" y="187.43" width="66.88" height="66.63" fill="#0048a3"/>
<rect x="1979.2" y="187.43" width="66.88" height="66.63" fill="#0048a3"/>
<rect x="1647.8" y="253.46" width="66.88" height="66.63" fill="#0248a3"/>
<rect x="1714.08" y="253.46" width="66.88" height="66.63" fill="#0349a3"/>
<rect x="1780.36" y="253.46" width="66.88" height="66.63" fill="#0249a3"/>
<rect x="1846.64" y="253.46" width="66.88" height="66.63" fill="#0248a3"/>
<rect x="1912.92" y="253.46" width="66.88" height="66.63" fill="#0148a3"/>
<rect x="1979.2" y="253.46" width="66.88" height="66.63" fill="#0248a3"/>
<rect x="1647.8" y="319.49" width="66.88" height="66.63" fill="#777fc0"/>
<rect x="1714.08" y="319.49" width="66.88" height="66.63" fill="#9797cd"/>
<rect x="1780.36" y="319.49" width="66.88" height="66.63" fill="#8386c4"/>
<rect x="1846.64" y="319.49" width="66.88" height="66.63" fill="#5e6cb6"/>
<rect x="1912.92" y="319.49" width="66.88" height="66.63" fill="#7d83c2"/>
<rect x="1979.2" y="319.49" width="66.88" height="66.63" fill="#5866b4"/>
<rect x="1647.8" y="385.52" width="66.88" height="66.63" fill="#0148a3"/>
<rect x="1714.08" y="385.52" width="66.88" height="66.63" fill="#0148a3"/>
<rect x="1780.36" y="385.52" width="66.88" height="66.63" fill="#0148a3"/>
<rect x="1846.64" y="385.52" width="66.88" height="66.63" fill="#0148a3"/>
<rect x="1912.92" y="385.52" width="66.88" height="66.63" fill="#0048a3"/>
<rect x="1979.2" y="385.52" width="66.88" height="66.63" fill="#0248a3"/>
<rect x="1647.8" y="451.55" width="66.88" height="66.63" fill="#0048a3"/>
<rect x="1714.08" y="451.55" width="66.88" height="66.63" fill="#0249a3"/>
<rect x="1780.36" y="451.55" width="66.88" height="66.63" fill="#0048a3"/>
<rect x="1846.64" y="451.55" width="66.88" height="66.63" fill="#0249a3"/>
<rect x="1912.92" y="451.55" width="66.88" height="66.63" fill="#0249a3"/>
<rect x="1979.2" y="451.55" width="66.88" height="66.63" fill="#0349a3"/>
<rect x="1647.8" y="517.58" width="66.88" height="66.63" fill="#ffe7e7"/>
<rect x="1714.08" y="517.58" width="66.88" height="66.63" fill="#ffe7e7"/>
<rect x="1780.36" y="517.58" width="66.88" height="66.63" fill="#ffe1e2"/>
<rect x="1846.64" y="517.58" width="66.88" height="66.63" fill="#f6f6fa"/>
<rect x="1912.92" y="517.58" width="66.88" height="66.63" fill="#f6f6fa"/>
<rect x="1979.2" y="517.58" width="66.88" height="66.63" fill="#e9e9f4"/>
<rect x="1647.8" y="583.61" width="66.88" height="66.63" fill="#0148a3"/>
<rect x="1714.08" y="583.61" width="66.88" height="66.63" fill="#0249a3"/>
<rect x="1780.36" y="583.61" width="66.88" height="66.63" fill="#0248a3"/>
<rect x="1846.64" y="583.61" width="66.88" height="66.63" fill="#0148a3"/>
<rect x="1912.92" y="583.61" width="66.88" height="66.63" fill="#0248a3"/>
<rect x="1979.2" y="583.61" width="66.88" height="66.63" fill="#0148a3"/>
<rect x="1647.8" y="649.64" width="66.88" height="66.63" fill="#6471b9"/>
<rect x="1714.08" y="649.64" width="66.88" height="66.63" fill="#5261b1"/>
<rect x="1780.36" y="649.64" width="66.88" height="66.63" fill="#777fc0"/>
<rect x="1846.64" y="649.64" width="66.88" height="66.63" fill="#898ac7"/>
<rect x="1912.92" y="649.64" width="66.88" height="66.63" fill="#717bbd"/>
<rect x="1979.2" y="649.64" width="66.88" height="66.63" fill="#6a76bb"/>
<rect x="1647.8" y="715.67" width="66.88" height="66.63" fill="#fff1f2"/>
<rect x="1714.08" y="715.67" width="66.88" height="66.63" fill="#ffe7e7"/>
<rect x="1780.36" y="715.67" width="66.88" height="66.63" fill="#ffdcdd"/>
<rect x="1846.64" y="715.67" width="66.88" height="66.63" fill="#ffbcbe"/>
<rect x="1912.92" y="715.67" width="66.88" height="66.63" fill="#ffd7d8"/>
<rect x="1979.2" y="715.67" width="66.88" height="66.63" fill="#ffc1c3"/>
<rect x="1647.8" y="781.7" width="66.88" height="66.63" fill="#0048a3"/>
<rect x="1714.08" y="781.7" width="66.88" height="66.63" fill="#0148a3"/>
<rect x="1780.36" y="781.7" width="66.88" height="66.63" fill="#0248a3"/>
<rect x="1846.64" y="781.7" width="66.88" height="66.63" fill="#0148a3"/>
<rect x="1912.92" y="781.7" width="66.88" height="66.63" fill="#0249a3"/>
<rect x="1979.2" y="781.7" width="66.88" height="66.63" fill="#0048a3"/>
<rect x="1647.8" y="847.73" width="66.88" height="66.63" fill="#898ac7"/>
<rect x="1714.08" y="847.73" width="66.88" height="66.63" fill="#777fc0"/>
<rect x="1780.36" y="847.73" width="66.88" height="66.63" fill="#6a76bb"/>
<rect x="1846.64" y="847.73" width="66.88" height="66.63" fill="#6471b9"/>
<rect x="1912.92" y="847.73" width="66.88" height="66.63" fill="#5866b4"/>
<rect x="1979.2" y="847.73" width="66.88" height="66.63" fill="#6471b9"/>
<rect x="1647.8" y="913.76" width="66.88" height="66.63" fill="#0048a3"/>
<rect x="1714.08" y="913.76" width="66.88" height="66.63" fill="#0148a3"/>
<rect x="1780.36" y="913.76" width="66.88" height="66.63" fill="#0249a3"/>
<rect x="1846.64" y="913.76" width="66.88" height="66.63" fill="#0048a3"/>
<rect x="1912.92" y="913.76" width="66.88" height="66.63" fill="#0148a3"/>
<rect x="1979.2" y="913.76" width="66.88" height="66.63" fill="#0048a3"/>
<rect x="1647.8" y="979.79" width="66.88" height="66.63" fill="#5261b1"/>
<rect x="1714.08" y="979.79" width="66.88" height="66.63" fill="#5261b1"/>
<rect x="1780.36" y="979.79" width="66.88" height="66.63" fill="#3254aa"/>
<rect x="1846.64" y="979.79" width="66.88" height="66.63" fill="#2853a9"/>
<rect x="1912.92" y="979.79" width="66.88" height="66.63" fill="#094aa4"/>
<rect x="1979.2" y="979.79" width="66.88" height="66.63" fill="#435aad"/>
<rect x="1647.8" y="1045.82" width="66.88" height="66.63" fill="#0248a3"/>
<rect x="1714.08" y="1045.82" width="66.88" height="66.63" fill="#0349a3"/>
<rect x="1780.36" y="1045.82" width="66.88" height="66.63" fill="#0349a3"/>
<rect x="1846.64" y="1045.82" width="66.88" height="66.63" fill="#0449a3"/>
<rect x="1912.92" y="1045.82" width="66.88" height="66.63" fill="#0449a3"/>
<rect x="1979.2" y="1045.82" width="66.88" height="66.63" fill="#0449a3"/>
<rect x="1647.8" y="1111.85" width="66.88" height="66.63" fill="#0349a3"/>
<rect x="1714.08" y="1111.85" width="66.88" height="66.63" fill="#0249a3"/>
<rect x="1780.36" y="1111.85" width="66.88" height="66.63" fill="#0248a3"/>
<rect x="1846.64" y="1111.85" width="66.88" height="66.63" fill="#0248a3"/>
<rect x="1912.92" y="1111.85" width="66.88" height="66.63" fill="#0148a3"/>
<rect x="1979.2" y="1111.85" width="66.88" height="66.63" fill="#0249a3"/>
<rect x="1647.8" y="1177.88" width="66.88" height="66.63" fill="#7d83c2"/>
<rect x="1714.08" y="1177.88" width="66.88" height="66.63" fill="#acacd8"/>
<rect x="1780.36" y="1177.88" width="66.88" height="66.63" fill="#b9b9de"/>
<rect x="1846.64" y="1177.88" width="66.88" height="66.63" fill="#b9b9de"/>
<rect x="1912.92" y="1177.88" width="66.88" height="66.63" fill="#a5a5d4"/>
<rect x="1979.2" y="1177.88" width="66.88" height="66.63" fill="#b9b9de"/>
<rect x="1647.8" y="1243.91" width="66.88" height="66.63" fill="#4b5daf"/>
<rect x="1714.08" y="1243.91" width="66.88" height="66.63" fill="#3c56ab"/>
<rect x="1780.36" y="1243.91" width="66.88" height="66.63" fill="#5866b4"/>
<rect x="1846.64" y="1243.91" width="66.88" height="66.63" fill="#6471b9"/>
<rect x="1912.92" y="1243.91" width="66.88" height="66.63" fill="#5261b1"/>
<rect x="1979.2" y="1243.91" width="66.88" height="66.63" fill="#717bbd"/>
<rect x="1647.8" y="1309.94" width="66.88" height="66.63" fill="#ffb1b4"/>
<rect x="1714.08" y="1309.94" width="66.88" height="66.63" fill="#ffc7c8"/>
<rect x="1780.36" y="1309.94" width="66.88" height="66.63" fill="#ffc7c8"/>
<rect x="1846.64" y="1309.94" width="66.88" height="66.63" fill="#ffbcbe"/>
<rect x="1912.92" y="1309.94" width="66.88" height="66.63" fill="#ffc1c3"/>
<rect x="1979.2" y="1309.94" width="66.88" height="66.63" fill="#ffbcbe"/>
<rect x="1647.8" y="1375.97" width="66.88" height="66.63" fill="#ff5b5f"/>
<rect x="1714.08" y="1375.97" width="66.88" height="66.63" fill="#ff6a6e"/>
<rect x="1780.36" y="1375.97" width="66.88" height="66.63" fill="#ff797d"/>
<rect x="1846.64" y="1375.97" width="66.88" height="66.63" fill="#ff6a6e"/>
<rect x="1912.92" y="1375.97" width="66.88" height="66.63" fill="#ff7478"/>
<rect x="1979.2" y="1375.97" width="66.88" height="66.63" fill="#ff6a6e"/>
<rect x="1647.8" y="1442" width="66.88" height="66.63" fill="#ffc7c8"/>
<rect x="1714.08" y="1442" width="66.88" height="66.63" fill="#ffd1d3"/>
<rect x="1780.36" y="1442" width="66.88" height="66.63" fill="#ffbcbe"/>
<rect x="1846.64" y="1442" width="66.88" height="66.63" fill="#ffdcdd"/>
<rect x="1912.92" y="1442" width="66.88" height="66.63" fill="#ffcccd"/>
<rect x="1979.2" y="1442" width="66.88" height="66.63" fill="#ffdcdd"/>
<rect x="1647.8" y="1508.03" width="66.88" height="66.63" fill="#ff7e81"/>
<rect x="1714.08" y="1508.03" width="66.88" height="66.63" fill="#ff888b"/>
<rect x="1780.36" y="1508.03" width="66.88" height="66.63" fill="#ff9295"/>
<rect x="1846.64" y="1508.03" width="66.88" height="66.63" fill="#ff8386"/>
<rect x="1912.92" y="1508.03" width="66.88" height="66.63" fill="#ff8386"/>
<rect x="1979.2" y="1508.03" width="66.88" height="66.63" fill="#ff8386"/>
<rect x="1647.8" y="1574.06" width="66.88" height="66.63" fill="#ff5156"/>
<rect x="1714.08" y="1574.06" width="66.88" height="66.63" fill="#ff6064"/>
<rect x="1780.36" y="1574.06" width="66.88" height="66.63" fill="#ff6064"/>
<rect x="1846.64" y="1574.06" width="66.88" height="66.63" fill="#ff5b5f"/>
<rect x="1912.92" y="1574.06" width="66.88" height="66.63" fill="#ff6569"/>
<rect x="1979.2" y="1574.06" width="66.88" height="66.63" fill="#ff5b5f"/>
<rect x="1647.8" y="1640.09" width="66.88" height="66.63" fill="#094aa4"/>
<rect x="1714.08" y="1640.09" width="66.88" height="66.63" fill="#2853a9"/>
<rect x="1780.36" y="1640.09" width="66.88" height="66.63" fill="#3c56ab"/>
<rect x="1846.64" y="1640.09" width="66.88" height="66.63" fill="#4b5daf"/>
<rect x="1912.92" y="1640.09" width="66.88" height="66.63" fill="#5e6cb6"/>
<rect x="1979.2" y="1640.09" width="66.88" height="66.63" fill="#5261b1"/>
<rect x="1647.8" y="1706.12" width="66.88" height="66.63" fill="#ff9d9f"/>
<rect x="1714.08" y="1706.12" width="66.88" height="66.63" fill="#ffa7a9"/>
<rect x="1780.36" y="1706.12" width="66.88" height="66.63" fill="#ffb1b4"/>
<rect x="1846.64" y="1706.12" width="66.88" height="66.63" fill="#ff8d90"/>
<rect x="1912.92" y="1706.12" width="66.88" height="66.63" fill="#ff8d90"/>
<rect x="1979.2" y="1706.12" width="66.88" height="66.63" fill="#ff8d90"/>
<rect x="1647.8" y="1772.15" width="66.88" height="66.63" fill="#ff474c"/>
<rect x="1714.08" y="1772.15" width="66.88" height="66.63" fill="#ff343a"/>
<rect x="1780.36" y="1772.15" width="66.88" height="66.63" fill="#ff5b5f"/>
<rect x="1846.64" y="1772.15" width="66.88" height="66.63" fill="#ff1118"/>
<rect x="1912.92" y="1772.15" width="66.88" height="66.63" fill="#ff0a11"/>
<rect x="1979.2" y="1772.15" width="66.88" height="66.63" fill="#ff1118"/>
<rect x="1647.8" y="1838.18" width="66.88" height="66.63" fill="#ff8386"/>
<rect x="1714.08" y="1838.18" width="66.88" height="66.63" fill="#ff7e81"/>
<rect x="1780.36" y="1838.18" width="66.88" height="66.63" fill="#ff9d9f"/>
<rect x="1846.64" y="1838.18" width="66.88" height="66.63" fill="#ff6a6e"/>
<rect x="1912.92" y="1838.18" width="66.88" height="66.63" fill="#ff6a6e"/>
<rect x="1979.2" y="1838.18" width="66.88" height="66.63" fill="#ff7478"/>
<rect x="1647.8" y="1904.21" width="66.88" height="66.63" fill="#ff7e81"/>
<rect x="1714.08" y="1904.21" width="66.88" height="66.63" fill="#ff7478"/>
<rect x="1780.36" y="1904.21" width="66.88" height="66.63" fill="#ff9d9f"/>
<rect x="1846.64" y="1904.21" width="66.88" height="66.63" fill="#ff797d"/>
<rect x="1912.92" y="1904.21" width="66.88" height="66.63" fill="#ff565b"/>
<rect x="1979.2" y="1904.21" width="66.88" height="66.63" fill="#ff7478"/>
<rect x="1647.8" y="1970.24" width="66.88" height="66.63" fill="#ffacaf"/>
<rect x="1714.08" y="1970.24" width="66.88" height="66.63" fill="#ffa2a4"/>
<rect x="1780.36" y="1970.24" width="66.88" height="66.63" fill="#ffacaf"/>
<rect x="1846.64" y="1970.24" width="66.88" height="66.63" fill="#ff7478"/>
<rect x="1912.92" y="1970.24" width="66.88" height="66.63" fill="#ff6a6e"/>
<rect x="1979.2" y="1970.24" width="66.88" height="66.63" fill="#ff6f73"/>
<rect x="1647.8" y="2036.27" width="66.88" height="66.63" fill="#ffacaf"/>
<rect x="1714.08" y="2036.27" width="66.88" height="66.63" fill="#ff979a"/>
<rect x="1780.36" y="2036.27" width="66.88" height="66.63" fill="#ff7e81"/>
<rect x="1846.64" y="2036.27" width="66.88" height="66.63" fill="#ff797d"/>
<rect x="1912.92" y="2036.27" width="66.88" height="66.63" fill="#ff4c51"/>
<rect x="1979.2" y="2036.27" width="66.88" height="66.63" fill="#ff7e81"/>
<rect x="1647.8" y="2102.3" width="66.88" height="66.63" fill="#435aad"/>
<rect x="1714.08" y="2102.3" width="66.88" height="66.63" fill="#5261b1"/>
<rect x="1780.36" y="2102.3" width="66.88" height="66.63" fill="#5e6cb6"/>
<rect x="1846.64" y="2102.3" width="66.88" height="66.63" fill="#5e6cb6"/>
<rect x="1912.92" y="2102.3" width="66.88" height="66.63" fill="#cfcfe7"/>
<rect x="1979.2" y="2102.3" width="66.88" height="66.63" fill="#5e6cb6"/>
<rect x="1647.8" y="2168.33" width="66.88" height="66.63" fill="#ffdcdd"/>
<rect x="1714.08" y="2168.33" width="66.88" height="66.63" fill="#ffd1d3"/>
<rect x="1780.36" y="2168.33" width="66.88" height="66.63" fill="#ffeced"/>
<rect x="1846.64" y="2168.33" width="66.88" height="66.63" fill="#fff7f7"/>
<rect x="1912.92" y="2168.33" width="66.88" height="66.63" fill="#fff1f2"/>
<rect x="1979.2" y="2168.33" width="66.88" height="66.63" fill="#fff7f7"/>
<rect x="1647.8" y="2234.36" width="66.88" height="66.63" fill="#ff7e81"/>
<rect x="1714.08" y="2234.36" width="66.88" height="66.63" fill="#ff8386"/>
<rect x="1780.36" y="2234.36" width="66.88" height="66.63" fill="#ff979a"/>
<rect x="1846.64" y="2234.36" width="66.88" height="66.63" fill="#ff8d90"/>
<rect x="1912.92" y="2234.36" width="66.88" height="66.63" fill="#ff888b"/>
<rect x="1979.2" y="2234.36" width="66.88" height="66.63" fill="#ff888b"/>
<rect x="1647.8" y="2300.39" width="66.88" height="66.63" fill="#f6f6fa"/>
<rect x="1714.08" y="2300.39" width="66.88" height="66.63" fill="#fff7f7"/>
<rect x="1780.36" y="2300.39" width="66.88" height="66.63" fill="#e4e4f1"/>
<rect x="1846.64" y="2300.39" width="66.88" height="66.63" fill="#ffeced"/>
<rect x="1912.92" y="2300.39" width="66.88" height="66.63" fill="#ffeced"/>
<rect x="1979.2" y="2300.39" width="66.88" height="66.63" fill="#fff1f2"/>
<rect x="1647.8" y="2366.42" width="66.88" height="66.63" fill="#ff272d"/>
<rect x="1714.08" y="2366.42" width="66.88" height="66.63" fill="#ff2228"/>
<rect x="1780.36" y="2366.42" width="66.88" height="66.63" fill="#ff343a"/>
<rect x="1846.64" y="2366.42" width="66.88" height="66.63" fill="#ff3036"/>
<rect x="1912.92" y="2366.42" width="66.88" height="66.63" fill="#ff3036"/>
<rect x="1979.2" y="2366.42" width="66.88" height="66.63" fill="#ff343a"/>
<rect x="1647.8" y="2432.45" width="66.88" height="66.63" fill="#ff5156"/>
<rect x="1714.08" y="2432.45" width="66.88" height="66.63" fill="#ff474c"/>
<rect x="1780.36" y="2432.45" width="66.88" height="66.63" fill="#ff6f73"/>
<rect x="1846.64" y="2432.45" width="66.88" height="66.63" fill="#ff4c51"/>
<rect x="1912.92" y="2432.45" width="66.88" height="66.63" fill="#ff4c51"/>
<rect x="1979.2" y="2432.45" width="66.88" height="66.63" fill="#ff4c51"/>
<rect x="1647.8" y="2498.48" width="66.88" height="66.63" fill="#ff4348"/>
<rect x="1714.08" y="2498.48" width="66.88" height="66.63" fill="#ff343a"/>
<rect x="1780.36" y="2498.48" width="66.88" height="66.63" fill="#ff474c"/>
<rect x="1846.64" y="2498.48" width="66.88" height="66.63" fill="#ff3e43"/>
<rect x="1912.92" y="2498.48" width="66.88" height="66.63" fill="#ff343a"/>
<rect x="1979.2" y="2498.48" width="66.88" height="66.63" fill="#ff3e43"/>
<rect x="1647.8" y="2564.51" width="66.88" height="66.63" fill="#ff8d90"/>
<rect x="1714.08" y="2564.51" width="66.88" height="66.63" fill="#ff7e81"/>
<rect x="1780.36" y="2564.51" width="66.88" height="66.63" fill="#ffa7a9"/>
<rect x="1846.64" y="2564.51" width="66.88" height="66.63" fill="#ff888b"/>
<rect x="1912.92" y="2564.51" width="66.88" height="66.63" fill="#ff888b"/>
<rect x="1979.2" y="2564.51" width="66.88" height="66.63" fill="#ff888b"/>
<rect x="1647.8" y="2630.54" width="66.88" height="66.63" fill="#4b5daf"/>
<rect x="1714.08" y="2630.54" width="66.88" height="66.63" fill="#5866b4"/>
<rect x="1780.36" y="2630.54" width="66.88" height="66.63" fill="#3254aa"/>
<rect x="1846.64" y="2630.54" width="66.88" height="66.63" fill="#4b5daf"/>
<rect x="1912.92" y="2630.54" width="66.88" height="66.63" fill="#4b5daf"/>
<rect x="1979.2" y="2630.54" width="66.88" height="66.63" fill="#3c56ab"/>
<rect x="1647.8" y="2696.57" width="66.88" height="66.63" fill="#ffc7c8"/>
<rect x="1714.08" y="2696.57" width="66.88" height="66.63" fill="#ffbcbe"/>
<rect x="1780.36" y="2696.57" width="66.88" height="66.63" fill="#ffc7c8"/>
<rect x="1846.64" y="2696.57" width="66.88" height="66.63" fill="#ffb7b9"/>
<rect x="1912.92" y="2696.57" width="66.88" height="66.63" fill="#ffb7b9"/>
<rect x="1979.2" y="2696.57" width="66.88" height="66.63" fill="#ffbcbe"/>
<g fill="#999999"><rect x="1646.6" y="120.2" width="2.4" height="2643.6"/><rect x="1712.88" y="120.2" width="2.4" height="2643.6"/><rect x="1779.16" y="120.2" width="2.4" height="2643.6"/><rect x="1845.44" y="120.2" width="2.4" height="2643.6"/><rect x="1911.72" y="120.2" width="2.4" height="2643.6"/><rect x="1978" y="120.2" width="2.4" height="2643.6"/><rect x="2044.28" y="120.2" width="2.4" height="2643.6"/><rect x="1646.6" y="120.2" width="400.08" height="2.4"/><rect x="1646.6" y="186.23" width="400.08" height="2.4"/><rect x="1646.6" y="252.26" width="400.08" height="2.4"/><rect x="1646.6" y="318.29" width="400.08" height="2.4"/><rect x="1646.6" y="384.32" width="400.08" height="2.4"/><rect x="1646.6" y="450.35" width="400.08" height="2.4"/><rect x="1646.6" y="516.38" width="400.08" height="2.4"/><rect x="1646.6" y="582.41" width="400.08" height="2.4"/><rect x="1646.6" y="648.44" width="400.08" height="2.4"/><rect x="1646.6" y="714.47" width="400.08" height="2.4"/><rect x="1646.6" y="780.5" width="400.08" height="2.4"/><rect x="1646.6" y="846.53" width="400.08" height="2.4"/><rect x="1646.6" y="912.56" width="400.08" height="2.4"/><rect x="1646.6" y="978.59" width="400.08" height="2.4"/><rect x="1646.6" y="1044.62" width="400.08" height="2.4"/><rect x="1646.6" y="1110.65" width="400.08" height="2.4"/><rect x="1646.6" y="1176.68" width="400.08" height="2.4"/><rect x="1646.6" y="1242.71" width="400.08" height="2.4"/><rect x="1646.6" y="1308.74" width="400.08" height="2.4"/><rect x="1646.6" y="1374.77" width="400.08" height="2.4"/><rect x="1646.6" y="1440.8" width="400.08" height="2.4"/><rect x="1646.6" y="1506.83" width="400.08" height="2.4"/><rect x="1646.6" y="1572.86" width="400.08" height="2.4"/><rect x="1646.6" y="1638.89" width="400.08" height="2.4"/><rect x="1646.6" y="1704.92" width="400.08" height="2.4"/><rect x="1646.6" y="1770.95" width="400.08" height="2.4"/><rect x="1646.6" y="1836.98" width="400.08" height="2.4"/><rect x="1646.6" y="1903.01" width="400.08" height="2.4"/><rect x="1646.6" y="1969.04" width="400.08" height="2.4"/><rect x="1646.6" y="2035.07" width="400.08" height="2.4"/><rect x="1646.6" y="2101.1" width="400.08" height="2.4"/><rect x="1646.6" y="2167.13" width="400.08" height="2.4"/><rect x="1646.6" y="2233.16" width="400.08" height="2.4"/><rect x="1646.6" y="2299.19" width="400.08" height="2.4"/><rect x="1646.6" y="2365.22" width="400.08" height="2.4"/><rect x="1646.6" y="2431.25" width="400.08" height="2.4"/><rect x="1646.6" y="2497.28" width="400.08" height="2.4"/><rect x="1646.6" y="2563.31" width="400.08" height="2.4"/><rect x="1646.6" y="2629.34" width="400.08" height="2.4"/><rect x="1646.6" y="2695.37" width="400.08" height="2.4"/><rect x="1646.6" y="2761.4" width="400.08" height="2.4"/></g>
<g font-size="23.2" text-anchor="middle"><text transform="matrix(1,0,0,1.04,1680.94,162.72)">0.25</text><text transform="matrix(1,0,0,1.04,1747.22,162.72)">0.22</text><text transform="matrix(1,0,0,1.04,1813.5,162.72)">0.22</text><text transform="matrix(1,0,0,1.04,1879.78,162.72)">0.18</text><text transform="matrix(1,0,0,1.04,1946.06,162.72)">0.24</text><text transform="matrix(1,0,0,1.04,2012.34,162.72)">0.41</text><text transform="matrix(1,0,0,1.04,1680.94,228.75)">0.45</text><text transform="matrix(1,0,0,1.04,1747.22,228.75)">0.40</text><text transform="matrix(1,0,0,1.04,1813.5,228.75)">0.09</text><text transform="matrix(1,0,0,1.04,1879.78,228.75)">0.00</text><text transform="matrix(1,0,0,1.04,1946.06,228.75)">0.19</text><text transform="matrix(1,0,0,1.04,2012.34,228.75)">0.20</text><text transform="matrix(1,0,0,1.04,1680.94,294.78)">0.42</text><text transform="matrix(1,0,0,1.04,1747.22,294.78)">0.98</text><text transform="matrix(1,0,0,1.04,1813.5,294.78)">0.69</text><text transform="matrix(1,0,0,1.04,1879.78,294.78)">0.44</text><text transform="matrix(1,0,0,1.04,1946.06,294.78)">0.28</text><text transform="matrix(1,0,0,1.04,2012.34,294.78)">0.46</text><text transform="matrix(1,0,0,1.04,1680.94,360.81)">2.70</text><text transform="matrix(1,0,0,1.04,1747.22,360.81)">3.22</text><text transform="matrix(1,0,0,1.04,1813.5,360.81)">2.97</text><text transform="matrix(1,0,0,1.04,1879.78,360.81)">2.26</text><text transform="matrix(1,0,0,1.04,1946.06,360.81)">2.86</text><text transform="matrix(1,0,0,1.04,2012.34,360.81)">2.22</text><text transform="matrix(1,0,0,1.04,1680.94,426.84)">0.30</text><text transform="matrix(1,0,0,1.04,1747.22,426.84)">0.33</text><text transform="matrix(1,0,0,1.04,1813.5,426.84)">0.39</text><text transform="matrix(1,0,0,1.04,1879.78,426.84)">0.22</text><text transform="matrix(1,0,0,1.04,1946.06,426.84)">0.08</text><text transform="matrix(1,0,0,1.04,2012.34,426.84)">0.49</text><text transform="matrix(1,0,0,1.04,1680.94,492.87)">0.15</text><text transform="matrix(1,0,0,1.04,1747.22,492.87)">0.67</text><text transform="matrix(1,0,0,1.04,1813.5,492.87)">0.00</text><text transform="matrix(1,0,0,1.04,1879.78,492.87)">0.80</text><text transform="matrix(1,0,0,1.04,1946.06,492.87)">0.71</text><text transform="matrix(1,0,0,1.04,2012.34,492.87)">0.83</text><text transform="matrix(1,0,0,1.04,1680.94,558.9)">5.64</text><text transform="matrix(1,0,0,1.04,1747.22,558.9)">5.64</text><text transform="matrix(1,0,0,1.04,1813.5,558.9)">5.70</text><text transform="matrix(1,0,0,1.04,1879.78,558.9)">4.95</text><text transform="matrix(1,0,0,1.04,1946.06,558.9)">5.03</text><text transform="matrix(1,0,0,1.04,2012.34,558.9)">4.80</text><text transform="matrix(1,0,0,1.04,1680.94,624.93)">0.27</text><text transform="matrix(1,0,0,1.04,1747.22,624.93)">0.78</text><text transform="matrix(1,0,0,1.04,1813.5,624.93)">0.45</text><text transform="matrix(1,0,0,1.04,1879.78,624.93)">0.26</text><text transform="matrix(1,0,0,1.04,1946.06,624.93)">0.52</text><text transform="matrix(1,0,0,1.04,2012.34,624.93)">0.41</text><text transform="matrix(1,0,0,1.04,1680.94,690.96)">2.38</text><text transform="matrix(1,0,0,1.04,1747.22,690.96)">2.09</text><text transform="matrix(1,0,0,1.04,1813.5,690.96)">2.76</text><text transform="matrix(1,0,0,1.04,1879.78,690.96)">3.04</text><text transform="matrix(1,0,0,1.04,1946.06,690.96)">2.57</text><text transform="matrix(1,0,0,1.04,2012.34,690.96)">2.49</text><text transform="matrix(1,0,0,1.04,1680.94,756.99)">5.35</text><text transform="matrix(1,0,0,1.04,1747.22,756.99)">5.58</text><text transform="matrix(1,0,0,1.04,1813.5,756.99)">5.84</text><text transform="matrix(1,0,0,1.04,1879.78,756.99)">6.44</text><text transform="matrix(1,0,0,1.04,1946.06,756.99)">5.93</text><text transform="matrix(1,0,0,1.04,2012.34,756.99)">6.32</text><text transform="matrix(1,0,0,1.04,1680.94,823.02)">0.13</text><text transform="matrix(1,0,0,1.04,1747.22,823.02)">0.32</text><text transform="matrix(1,0,0,1.04,1813.5,823.02)">0.60</text><text transform="matrix(1,0,0,1.04,1879.78,823.02)">0.35</text><text transform="matrix(1,0,0,1.04,1946.06,823.02)">0.63</text><text transform="matrix(1,0,0,1.04,2012.34,823.02)">0.13</text><text transform="matrix(1,0,0,1.04,1680.94,889.05)">3.00</text><text transform="matrix(1,0,0,1.04,1747.22,889.05)">2.74</text><text transform="matrix(1,0,0,1.04,1813.5,889.05)">2.48</text><text transform="matrix(1,0,0,1.04,1879.78,889.05)">2.44</text><text transform="matrix(1,0,0,1.04,1946.06,889.05)">2.22</text><text transform="matrix(1,0,0,1.04,2012.34,889.05)">2.40</text><text transform="matrix(1,0,0,1.04,1680.94,955.08)">0.16</text><text transform="matrix(1,0,0,1.04,1747.22,955.08)">0.38</text><text transform="matrix(1,0,0,1.04,1813.5,955.08)">0.69</text><text transform="matrix(1,0,0,1.04,1879.78,955.08)">0.15</text><text transform="matrix(1,0,0,1.04,1946.06,955.08)">0.28</text><text transform="matrix(1,0,0,1.04,2012.34,955.08)">0.00</text><text transform="matrix(1,0,0,1.04,1680.94,1021.11)">2.15</text><text transform="matrix(1,0,0,1.04,1747.22,1021.11)">2.15</text><text transform="matrix(1,0,0,1.04,1813.5,1021.11)">1.69</text><text transform="matrix(1,0,0,1.04,1879.78,1021.11)">1.60</text><text transform="matrix(1,0,0,1.04,1946.06,1021.11)">1.27</text><text transform="matrix(1,0,0,1.04,2012.34,1021.11)">1.94</text><text transform="matrix(1,0,0,1.04,1680.94,1087.14)">0.56</text><text transform="matrix(1,0,0,1.04,1747.22,1087.14)">0.98</text><text transform="matrix(1,0,0,1.04,1813.5,1087.14)">0.99</text><text transform="matrix(1,0,0,1.04,1879.78,1087.14)">1.13</text><text transform="matrix(1,0,0,1.04,1946.06,1087.14)">1.23</text><text transform="matrix(1,0,0,1.04,2012.34,1087.14)">1.17</text><text transform="matrix(1,0,0,1.04,1680.94,1153.17)">0.91</text><text transform="matrix(1,0,0,1.04,1747.22,1153.17)">0.62</text><text transform="matrix(1,0,0,1.04,1813.5,1153.17)">0.57</text><text transform="matrix(1,0,0,1.04,1879.78,1153.17)">0.47</text><text transform="matrix(1,0,0,1.04,1946.06,1153.17)">0.40</text><text transform="matrix(1,0,0,1.04,2012.34,1153.17)">0.75</text><text transform="matrix(1,0,0,1.04,1680.94,1219.2)">2.79</text><text transform="matrix(1,0,0,1.04,1747.22,1219.2)">3.50</text><text transform="matrix(1,0,0,1.04,1813.5,1219.2)">3.81</text><text transform="matrix(1,0,0,1.04,1879.78,1219.2)">3.80</text><text transform="matrix(1,0,0,1.04,1946.06,1219.2)">3.39</text><text transform="matrix(1,0,0,1.04,2012.34,1219.2)">3.85</text><text transform="matrix(1,0,0,1.04,1680.94,1285.23)">1.97</text><text transform="matrix(1,0,0,1.04,1747.22,1285.23)">1.84</text><text transform="matrix(1,0,0,1.04,1813.5,1285.23)">2.19</text><text transform="matrix(1,0,0,1.04,1879.78,1285.23)">2.42</text><text transform="matrix(1,0,0,1.04,1946.06,1285.23)">2.10</text><text transform="matrix(1,0,0,1.04,2012.34,1285.23)">2.58</text><text transform="matrix(1,0,0,1.04,1680.94,1351.26)">6.65</text><text transform="matrix(1,0,0,1.04,1747.22,1351.26)">6.25</text><text transform="matrix(1,0,0,1.04,1813.5,1351.26)">6.25</text><text transform="matrix(1,0,0,1.04,1879.78,1351.26)">6.45</text><text transform="matrix(1,0,0,1.04,1946.06,1351.26)">6.34</text><text transform="matrix(1,0,0,1.04,2012.34,1351.26)">6.43</text><text transform="matrix(1,0,0,1.04,1680.94,1417.29)">8.35</text><text transform="matrix(1,0,0,1.04,1747.22,1417.29)">8.04</text><text transform="matrix(1,0,0,1.04,1813.5,1417.29)">7.78</text><text transform="matrix(1,0,0,1.04,1879.78,1417.29)">8.07</text><text transform="matrix(1,0,0,1.04,1946.06,1417.29)">7.90</text><text transform="matrix(1,0,0,1.04,2012.34,1417.29)">8.02</text><text transform="matrix(1,0,0,1.04,1680.94,1483.32)">6.20</text><text transform="matrix(1,0,0,1.04,1747.22,1483.32)">6.00</text><text transform="matrix(1,0,0,1.04,1813.5,1483.32)">6.47</text><text transform="matrix(1,0,0,1.04,1879.78,1483.32)">5.82</text><text transform="matrix(1,0,0,1.04,1946.06,1483.32)">6.06</text><text transform="matrix(1,0,0,1.04,2012.34,1483.32)">5.78</text><text transform="matrix(1,0,0,1.04,1680.94,1549.35)">7.65</text><text transform="matrix(1,0,0,1.04,1747.22,1549.35)">7.43</text><text transform="matrix(1,0,0,1.04,1813.5,1549.35)">7.28</text><text transform="matrix(1,0,0,1.04,1879.78,1549.35)">7.59</text><text transform="matrix(1,0,0,1.04,1946.06,1549.35)">7.52</text><text transform="matrix(1,0,0,1.04,2012.34,1549.35)">7.59</text><text transform="matrix(1,0,0,1.04,1680.94,1615.38)">8.62</text><text transform="matrix(1,0,0,1.04,1747.22,1615.38)">8.26</text><text transform="matrix(1,0,0,1.04,1813.5,1615.38)">8.23</text><text transform="matrix(1,0,0,1.04,1879.78,1615.38)">8.37</text><text transform="matrix(1,0,0,1.04,1946.06,1615.38)">8.20</text><text transform="matrix(1,0,0,1.04,2012.34,1615.38)">8.35</text><text transform="matrix(1,0,0,1.04,1680.94,1681.41)">1.31</text><text transform="matrix(1,0,0,1.04,1747.22,1681.41)">1.60</text><text transform="matrix(1,0,0,1.04,1813.5,1681.41)">1.75</text><text transform="matrix(1,0,0,1.04,1879.78,1681.41)">1.99</text><text transform="matrix(1,0,0,1.04,1946.06,1681.41)">2.33</text><text transform="matrix(1,0,0,1.04,2012.34,1681.41)">2.12</text><text transform="matrix(1,0,0,1.04,1680.94,1747.44)">7.07</text><text transform="matrix(1,0,0,1.04,1747.22,1747.44)">6.82</text><text transform="matrix(1,0,0,1.04,1813.5,1747.44)">6.65</text><text transform="matrix(1,0,0,1.04,1879.78,1747.44)">7.37</text><text transform="matrix(1,0,0,1.04,1946.06,1747.44)">7.34</text><text transform="matrix(1,0,0,1.04,2012.34,1747.44)">7.36</text><text transform="matrix(1,0,0,1.04,1680.94,1813.47)">8.79</text><text transform="matrix(1,0,0,1.04,1747.22,1813.47)">9.16</text><text transform="matrix(1,0,0,1.04,1813.5,1813.47)">8.33</text><text transform="matrix(1,0,0,1.04,1879.78,1813.47)">10.04</text><text transform="matrix(1,0,0,1.04,1946.06,1813.47)">10.27</text><text transform="matrix(1,0,0,1.04,2012.34,1813.47)">10.02</text><text transform="matrix(1,0,0,1.04,1680.94,1879.5)">7.55</text><text transform="matrix(1,0,0,1.04,1747.22,1879.5)">7.66</text><text transform="matrix(1,0,0,1.04,1813.5,1879.5)">7.06</text><text transform="matrix(1,0,0,1.04,1879.78,1879.5)">8.03</text><text transform="matrix(1,0,0,1.04,1946.06,1879.5)">8.03</text><text transform="matrix(1,0,0,1.04,2012.34,1879.5)">7.84</text><text transform="matrix(1,0,0,1.04,1680.94,1945.53)">7.65</text><text transform="matrix(1,0,0,1.04,1747.22,1945.53)">7.87</text><text transform="matrix(1,0,0,1.04,1813.5,1945.53)">7.05</text><text transform="matrix(1,0,0,1.04,1879.78,1945.53)">7.79</text><text transform="matrix(1,0,0,1.04,1946.06,1945.53)">8.47</text><text transform="matrix(1,0,0,1.04,2012.34,1945.53)">7.83</text><text transform="matrix(1,0,0,1.04,1680.94,2011.56)">6.72</text><text transform="matrix(1,0,0,1.04,1747.22,2011.56)">6.94</text><text transform="matrix(1,0,0,1.04,1813.5,2011.56)">6.69</text><text transform="matrix(1,0,0,1.04,1879.78,2011.56)">7.90</text><text transform="matrix(1,0,0,1.04,1946.06,2011.56)">8.07</text><text transform="matrix(1,0,0,1.04,2012.34,2011.56)">7.92</text><text transform="matrix(1,0,0,1.04,1680.94,2077.59)">6.75</text><text transform="matrix(1,0,0,1.04,1747.22,2077.59)">7.10</text><text transform="matrix(1,0,0,1.04,1813.5,2077.59)">7.66</text><text transform="matrix(1,0,0,1.04,1879.78,2077.59)">7.76</text><text transform="matrix(1,0,0,1.04,1946.06,2077.59)">8.63</text><text transform="matrix(1,0,0,1.04,2012.34,2077.59)">7.68</text><text transform="matrix(1,0,0,1.04,1680.94,2143.62)">1.90</text><text transform="matrix(1,0,0,1.04,1747.22,2143.62)">2.15</text><text transform="matrix(1,0,0,1.04,1813.5,2143.62)">2.32</text><text transform="matrix(1,0,0,1.04,1879.78,2143.62)">2.35</text><text transform="matrix(1,0,0,1.04,1946.06,2143.62)">4.31</text><text transform="matrix(1,0,0,1.04,2012.34,2143.62)">2.36</text><text transform="matrix(1,0,0,1.04,1680.94,2209.65)">5.80</text><text transform="matrix(1,0,0,1.04,1747.22,2209.65)">5.98</text><text transform="matrix(1,0,0,1.04,1813.5,2209.65)">5.45</text><text transform="matrix(1,0,0,1.04,1879.78,2209.65)">5.32</text><text transform="matrix(1,0,0,1.04,1946.06,2209.65)">5.37</text><text transform="matrix(1,0,0,1.04,2012.34,2209.65)">5.34</text><text transform="matrix(1,0,0,1.04,1680.94,2275.68)">7.61</text><text transform="matrix(1,0,0,1.04,1747.22,2275.68)">7.55</text><text transform="matrix(1,0,0,1.04,1813.5,2275.68)">7.09</text><text transform="matrix(1,0,0,1.04,1879.78,2275.68)">7.39</text><text transform="matrix(1,0,0,1.04,1946.06,2275.68)">7.45</text><text transform="matrix(1,0,0,1.04,2012.34,2275.68)">7.46</text><text transform="matrix(1,0,0,1.04,1680.94,2341.71)">4.98</text><text transform="matrix(1,0,0,1.04,1747.22,2341.71)">5.28</text><text transform="matrix(1,0,0,1.04,1813.5,2341.71)">4.67</text><text transform="matrix(1,0,0,1.04,1879.78,2341.71)">5.54</text><text transform="matrix(1,0,0,1.04,1946.06,2341.71)">5.49</text><text transform="matrix(1,0,0,1.04,2012.34,2341.71)">5.43</text><text transform="matrix(1,0,0,1.04,1680.94,2407.74)">9.53</text><text transform="matrix(1,0,0,1.04,1747.22,2407.74)">9.64</text><text transform="matrix(1,0,0,1.04,1813.5,2407.74)">9.17</text><text transform="matrix(1,0,0,1.04,1879.78,2407.74)">9.30</text><text transform="matrix(1,0,0,1.04,1946.06,2407.74)">9.29</text><text transform="matrix(1,0,0,1.04,2012.34,2407.74)">9.24</text><text transform="matrix(1,0,0,1.04,1680.94,2473.77)">8.59</text><text transform="matrix(1,0,0,1.04,1747.22,2473.77)">8.77</text><text transform="matrix(1,0,0,1.04,1813.5,2473.77)">7.99</text><text transform="matrix(1,0,0,1.04,1879.78,2473.77)">8.63</text><text transform="matrix(1,0,0,1.04,1946.06,2473.77)">8.65</text><text transform="matrix(1,0,0,1.04,2012.34,2473.77)">8.63</text><text transform="matrix(1,0,0,1.04,1680.94,2539.8)">8.92</text><text transform="matrix(1,0,0,1.04,1747.22,2539.8)">9.22</text><text transform="matrix(1,0,0,1.04,1813.5,2539.8)">8.73</text><text transform="matrix(1,0,0,1.04,1879.78,2539.8)">8.99</text><text transform="matrix(1,0,0,1.04,1946.06,2539.8)">9.19</text><text transform="matrix(1,0,0,1.04,2012.34,2539.8)">9.03</text><text transform="matrix(1,0,0,1.04,1680.94,2605.83)">7.33</text><text transform="matrix(1,0,0,1.04,1747.22,2605.83)">7.60</text><text transform="matrix(1,0,0,1.04,1813.5,2605.83)">6.83</text><text transform="matrix(1,0,0,1.04,1879.78,2605.83)">7.47</text><text transform="matrix(1,0,0,1.04,1946.06,2605.83)">7.49</text><text transform="matrix(1,0,0,1.04,2012.34,2605.83)">7.43</text><text transform="matrix(1,0,0,1.04,1680.94,2671.86)">2.01</text><text transform="matrix(1,0,0,1.04,1747.22,2671.86)">2.17</text><text transform="matrix(1,0,0,1.04,1813.5,2671.86)">1.74</text><text transform="matrix(1,0,0,1.04,1879.78,2671.86)">2.00</text><text transform="matrix(1,0,0,1.04,1946.06,2671.86)">2.00</text><text transform="matrix(1,0,0,1.04,2012.34,2671.86)">1.80</text><text transform="matrix(1,0,0,1.04,1680.94,2737.89)">6.26</text><text transform="matrix(1,0,0,1.04,1747.22,2737.89)">6.45</text><text transform="matrix(1,0,0,1.04,1813.5,2737.89)">6.26</text><text transform="matrix(1,0,0,1.04,1879.78,2737.89)">6.54</text><text transform="matrix(1,0,0,1.04,1946.06,2737.89)">6.53</text><text transform="matrix(1,0,0,1.04,2012.34,2737.89)">6.45</text></g>
<g font-size="29.0" font-weight="bold"><text transform="matrix(1,0,0,1.04,2054.98,164.22)">CrLBD1</text><text transform="matrix(1,0,0,1.04,2054.98,230.25)">CrLBD2</text><text transform="matrix(1,0,0,1.04,2054.98,296.28)">CrLBD3</text><text transform="matrix(1,0,0,1.04,2054.98,362.31)">CrLBD4</text><text transform="matrix(1,0,0,1.04,2054.98,428.33)">CrLBD6</text><text transform="matrix(1,0,0,1.04,2054.98,494.37)">CrLBD7</text><text transform="matrix(1,0,0,1.04,2054.98,560.39)">CrLBD11</text><text transform="matrix(1,0,0,1.04,2054.98,626.42)">CrLBD13</text><text transform="matrix(1,0,0,1.04,2054.98,692.45)">CrLBD18</text><text transform="matrix(1,0,0,1.04,2054.98,758.48)">CrLBD19</text><text transform="matrix(1,0,0,1.04,2054.98,824.51)">CrLBD20</text><text transform="matrix(1,0,0,1.04,2054.98,890.54)">CrLBD23</text><text transform="matrix(1,0,0,1.04,2054.98,956.57)">CrLBD24</text><text transform="matrix(1,0,0,1.04,2054.98,1022.6)">CrLBD27</text><text transform="matrix(1,0,0,1.04,2054.98,1088.63)">CrLBD28</text><text transform="matrix(1,0,0,1.04,2054.98,1154.66)">CrLBD30</text><text transform="matrix(1,0,0,1.04,2054.98,1220.7)">CrLBD32</text><text transform="matrix(1,0,0,1.04,2054.98,1286.73)">CrLBD34</text><text transform="matrix(1,0,0,1.04,2054.98,1352.76)">CrGES</text><text transform="matrix(1,0,0,1.04,2054.98,1418.79)">CrG10H</text><text transform="matrix(1,0,0,1.04,2054.98,1484.82)">Cr10HGO</text><text transform="matrix(1,0,0,1.04,2054.98,1550.85)">CrIRS</text><text transform="matrix(1,0,0,1.04,2054.98,1616.88)">Cr7DLS</text><text transform="matrix(1,0,0,1.04,2054.98,1682.9)">Cr7DLGT</text><text transform="matrix(1,0,0,1.04,2054.98,1748.94)">CrDL7H</text><text transform="matrix(1,0,0,1.04,2054.98,1814.97)">CrLAMT</text><text transform="matrix(1,0,0,1.04,2054.98,1881)">CrSLS2</text><text transform="matrix(1,0,0,1.04,2054.98,1947.03)">CrTDC</text><text transform="matrix(1,0,0,1.04,2054.98,2013.06)">CrSTR</text><text transform="matrix(1,0,0,1.04,2054.98,2079.09)">CrSGD</text><text transform="matrix(1,0,0,1.04,2054.98,2145.12)">CrT16H1</text><text transform="matrix(1,0,0,1.04,2054.98,2211.15)">CrT16H2</text><text transform="matrix(1,0,0,1.04,2054.98,2277.18)">Cr16OMT</text><text transform="matrix(1,0,0,1.04,2054.98,2343.21)">CrT3O</text><text transform="matrix(1,0,0,1.04,2054.98,2409.24)">CrT3R</text><text transform="matrix(1,0,0,1.04,2054.98,2475.27)">CrNMT</text><text transform="matrix(1,0,0,1.04,2054.98,2541.3)">CrD4H</text><text transform="matrix(1,0,0,1.04,2054.98,2607.33)">CrDAT</text><text transform="matrix(1,0,0,1.04,2054.98,2673.36)">CrACT1</text><text transform="matrix(1,0,0,1.04,2054.98,2739.39)">CrACT3</text></g>
<g font-size="29.0" font-weight="bold"><text transform="matrix(0,1,-1.04,0,1666.44,2784.4)">CK_1</text><text transform="matrix(0,1,-1.04,0,1732.72,2784.4)">CK_2</text><text transform="matrix(0,1,-1.04,0,1799,2784.4)">CK_3</text><text transform="matrix(0,1,-1.04,0,1865.28,2784.4)">MeJA_1</text><text transform="matrix(0,1,-1.04,0,1931.56,2784.4)">MeJA_2</text><text transform="matrix(0,1,-1.04,0,1997.84,2784.4)">MeJA_3</text></g>
<rect x="1344" y="859.2" width="49" height="8" fill="#0048a3"/><rect x="1344" y="851.81" width="49" height="8" fill="#0048a3"/><rect x="1344" y="844.41" width="49" height="8" fill="#0148a3"/><rect x="1344" y="837.02" width="49" height="8" fill="#0148a3"/><rect x="1344" y="829.62" width="49" height="8" fill="#0248a3"/><rect x="1344" y="822.22" width="49" height="8" fill="#0248a3"/><rect x="1344" y="814.83" width="49" height="8" fill="#0249a3"/><rect x="1344" y="807.43" width="49" height="8" fill="#0249a3"/><rect x="1344" y="800.04" width="49" height="8" fill="#0349a3"/><rect x="1344" y="792.64" width="49" height="8" fill="#0349a3"/><rect x="1344" y="785.24" width="49" height="8" fill="#0449a3"/><rect x="1344" y="777.85" width="49" height="8" fill="#0449a3"/><rect x="1344" y="770.45" width="49" height="8" fill="#094aa4"/><rect x="1344" y="763.06" width="49" height="8" fill="#144ea6"/><rect x="1344" y="755.66" width="49" height="8" fill="#1e50a7"/><rect x="1344" y="748.26" width="49" height="8" fill="#2853a9"/><rect x="1344" y="740.87" width="49" height="8" fill="#3254aa"/><rect x="1344" y="733.47" width="49" height="8" fill="#3c56ab"/><rect x="1344" y="726.08" width="49" height="8" fill="#435aad"/><rect x="1344" y="718.68" width="49" height="8" fill="#4b5daf"/><rect x="1344" y="711.28" width="49" height="8" fill="#5261b1"/><rect x="1344" y="703.89" width="49" height="8" fill="#5866b4"/><rect x="1344" y="696.49" width="49" height="8" fill="#5e6cb6"/><rect x="1344" y="689.1" width="49" height="8" fill="#6471b9"/><rect x="1344" y="681.7" width="49" height="8" fill="#6a76bb"/><rect x="1344" y="674.3" width="49" height="8" fill="#717bbd"/><rect x="1344" y="666.91" width="49" height="8" fill="#777fc0"/><rect x="1344" y="659.51" width="49" height="8" fill="#7d83c2"/><rect x="1344" y="652.12" width="49" height="8" fill="#8386c4"/><rect x="1344" y="644.72" width="49" height="8" fill="#898ac7"/><rect x="1344" y="637.32" width="49" height="8" fill="#9090ca"/><rect x="1344" y="629.93" width="49" height="8" fill="#9797cd"/><rect x="1344" y="622.53" width="49" height="8" fill="#9e9ed1"/><rect x="1344" y="615.14" width="49" height="8" fill="#a5a5d4"/><rect x="1344" y="607.74" width="49" height="8" fill="#acacd8"/><rect x="1344" y="600.34" width="49" height="8" fill="#b0b0da"/><rect x="1344" y="592.95" width="49" height="8" fill="#b5b5dc"/><rect x="1344" y="585.55" width="49" height="8" fill="#b9b9de"/><rect x="1344" y="578.16" width="49" height="8" fill="#bebee0"/><rect x="1344" y="570.76" width="49" height="8" fill="#c4c4e2"/><rect x="1344" y="563.36" width="49" height="8" fill="#c9c9e5"/><rect x="1344" y="555.97" width="49" height="8" fill="#cfcfe7"/><rect x="1344" y="548.57" width="49" height="8" fill="#d4d4e9"/><rect x="1344" y="541.18" width="49" height="8" fill="#dadaec"/><rect x="1344" y="533.78" width="49" height="8" fill="#dedeee"/><rect x="1344" y="526.38" width="49" height="8" fill="#e4e4f1"/><rect x="1344" y="518.99" width="49" height="8" fill="#e9e9f4"/><rect x="1344" y="511.59" width="49" height="8" fill="#efeff7"/><rect x="1344" y="504.2" width="49" height="8" fill="#f6f6fa"/><rect x="1344" y="496.8" width="49" height="8" fill="#fcfcfd"/><rect x="1344" y="489.4" width="49" height="8" fill="#fffcfc"/><rect x="1344" y="482.01" width="49" height="8" fill="#fff7f7"/><rect x="1344" y="474.61" width="49" height="8" fill="#fff1f2"/><rect x="1344" y="467.22" width="49" height="8" fill="#ffeced"/><rect x="1344" y="459.82" width="49" height="8" fill="#ffe7e7"/><rect x="1344" y="452.42" width="49" height="8" fill="#ffe1e2"/><rect x="1344" y="445.03" width="49" height="8" fill="#ffdcdd"/><rect x="1344" y="437.63" width="49" height="8" fill="#ffd7d8"/><rect x="1344" y="430.24" width="49" height="8" fill="#ffd1d3"/><rect x="1344" y="422.84" width="49" height="8" fill="#ffcccd"/><rect x="1344" y="415.44" width="49" height="8" fill="#ffc7c8"/><rect x="1344" y="408.05" width="49" height="8" fill="#ffc1c3"/><rect x="1344" y="400.65" width="49" height="8" fill="#ffbcbe"/><rect x="1344" y="393.26" width="49" height="8" fill="#ffb7b9"/><rect x="1344" y="385.86" width="49" height="8" fill="#ffb1b4"/><rect x="1344" y="378.46" width="49" height="8" fill="#ffacaf"/><rect x="1344" y="371.07" width="49" height="8" fill="#ffa7a9"/><rect x="1344" y="363.67" width="49" height="8" fill="#ffa2a4"/><rect x="1344" y="356.28" width="49" height="8" fill="#ff9d9f"/><rect x="1344" y="348.88" width="49" height="8" fill="#ff979a"/><rect x="1344" y="341.48" width="49" height="8" fill="#ff9295"/><rect x="1344" y="334.09" width="49" height="8" fill="#ff8d90"/><rect x="1344" y="326.69" width="49" height="8" fill="#ff888b"/><rect x="1344" y="319.3" width="49" height="8" fill="#ff8386"/><rect x="1344" y="311.9" width="49" height="8" fill="#ff7e81"/><rect x="1344" y="304.5" width="49" height="8" fill="#ff797d"/><rect x="1344" y="297.11" width="49" height="8" fill="#ff7478"/><rect x="1344" y="289.71" width="49" height="8" fill="#ff6f73"/><rect x="1344" y="282.32" width="49" height="8" fill="#ff6a6e"/><rect x="1344" y="274.92" width="49" height="8" fill="#ff6569"/><rect x="1344" y="267.52" width="49" height="8" fill="#ff6064"/><rect x="1344" y="260.13" width="49" height="8" fill="#ff5b5f"/><rect x="1344" y="252.73" width="49" height="8" fill="#ff565b"/><rect x="1344" y="245.34" width="49" height="8" fill="#ff5156"/><rect x="1344" y="237.94" width="49" height="8" fill="#ff4c51"/><rect x="1344" y="230.54" width="49" height="8" fill="#ff474c"/><rect x="1344" y="223.15" width="49" height="8" fill="#ff4348"/><rect x="1344" y="215.75" width="49" height="8" fill="#ff3e43"/><rect x="1344" y="208.36" width="49" height="8" fill="#ff393f"/><rect x="1344" y="200.96" width="49" height="8" fill="#ff343a"/><rect x="1344" y="193.56" width="49" height="8" fill="#ff3036"/><rect x="1344" y="186.17" width="49" height="8" fill="#ff2b31"/><rect x="1344" y="178.77" width="49" height="8" fill="#ff272d"/><rect x="1344" y="171.38" width="49" height="8" fill="#ff2228"/><rect x="1344" y="163.98" width="49" height="8" fill="#ff1e24"/><rect x="1344" y="156.58" width="49" height="8" fill="#ff1920"/><rect x="1344" y="149.19" width="49" height="8" fill="#ff151c"/><rect x="1344" y="141.79" width="49" height="8" fill="#ff1118"/><rect x="1344" y="134.4" width="49" height="8" fill="#ff0d14"/><rect x="1344" y="127" width="49" height="8" fill="#ff0a11"/>
<g font-size="50"><text transform="matrix(1,0,0,1.04,1412.5,884.8)">0</text><text transform="matrix(1,0,0,1.04,1412.5,767.22)">2</text><text transform="matrix(1,0,0,1.04,1412.5,649.63)">4</text><text transform="matrix(1,0,0,1.04,1412.5,532.05)">6</text><text transform="matrix(1,0,0,1.04,1412.5,414.47)">8</text><text transform="matrix(1,0,0,1.04,1412.5,296.88)">10</text><text transform="matrix(1,0,0,1.04,1412.5,179.3)">12</text></g>
<rect x="2230.9" y="864.8" width="49" height="8" fill="#0048a3"/><rect x="2230.9" y="857.4" width="49" height="8" fill="#0048a3"/><rect x="2230.9" y="849.99" width="49" height="8" fill="#0148a3"/><rect x="2230.9" y="842.59" width="49" height="8" fill="#0148a3"/><rect x="2230.9" y="835.19" width="49" height="8" fill="#0248a3"/><rect x="2230.9" y="827.79" width="49" height="8" fill="#0248a3"/><rect x="2230.9" y="820.39" width="49" height="8" fill="#0249a3"/><rect x="2230.9" y="812.98" width="49" height="8" fill="#0249a3"/><rect x="2230.9" y="805.58" width="49" height="8" fill="#0349a3"/><rect x="2230.9" y="798.18" width="49" height="8" fill="#0349a3"/><rect x="2230.9" y="790.78" width="49" height="8" fill="#0449a3"/><rect x="2230.9" y="783.38" width="49" height="8" fill="#0449a3"/><rect x="2230.9" y="775.97" width="49" height="8" fill="#094aa4"/><rect x="2230.9" y="768.57" width="49" height="8" fill="#144ea6"/><rect x="2230.9" y="761.17" width="49" height="8" fill="#1e50a7"/><rect x="2230.9" y="753.77" width="49" height="8" fill="#2853a9"/><rect x="2230.9" y="746.37" width="49" height="8" fill="#3254aa"/><rect x="2230.9" y="738.96" width="49" height="8" fill="#3c56ab"/><rect x="2230.9" y="731.56" width="49" height="8" fill="#435aad"/><rect x="2230.9" y="724.16" width="49" height="8" fill="#4b5daf"/><rect x="2230.9" y="716.76" width="49" height="8" fill="#5261b1"/><rect x="2230.9" y="709.36" width="49" height="8" fill="#5866b4"/><rect x="2230.9" y="701.95" width="49" height="8" fill="#5e6cb6"/><rect x="2230.9" y="694.55" width="49" height="8" fill="#6471b9"/><rect x="2230.9" y="687.15" width="49" height="8" fill="#6a76bb"/><rect x="2230.9" y="679.75" width="49" height="8" fill="#717bbd"/><rect x="2230.9" y="672.35" width="49" height="8" fill="#777fc0"/><rect x="2230.9" y="664.94" width="49" height="8" fill="#7d83c2"/><rect x="2230.9" y="657.54" width="49" height="8" fill="#8386c4"/><rect x="2230.9" y="650.14" width="49" height="8" fill="#898ac7"/><rect x="2230.9" y="642.74" width="49" height="8" fill="#9090ca"/><rect x="2230.9" y="635.34" width="49" height="8" fill="#9797cd"/><rect x="2230.9" y="627.93" width="49" height="8" fill="#9e9ed1"/><rect x="2230.9" y="620.53" width="49" height="8" fill="#a5a5d4"/><rect x="2230.9" y="613.13" width="49" height="8" fill="#acacd8"/><rect x="2230.9" y="605.73" width="49" height="8" fill="#b0b0da"/><rect x="2230.9" y="598.33" width="49" height="8" fill="#b5b5dc"/><rect x="2230.9" y="590.92" width="49" height="8" fill="#b9b9de"/><rect x="2230.9" y="583.52" width="49" height="8" fill="#bebee0"/><rect x="2230.9" y="576.12" width="49" height="8" fill="#c4c4e2"/><rect x="2230.9" y="568.72" width="49" height="8" fill="#c9c9e5"/><rect x="2230.9" y="561.32" width="49" height="8" fill="#cfcfe7"/><rect x="2230.9" y="553.91" width="49" height="8" fill="#d4d4e9"/><rect x="2230.9" y="546.51" width="49" height="8" fill="#dadaec"/><rect x="2230.9" y="539.11" width="49" height="8" fill="#dedeee"/><rect x="2230.9" y="531.71" width="49" height="8" fill="#e4e4f1"/><rect x="2230.9" y="524.31" width="49" height="8" fill="#e9e9f4"/><rect x="2230.9" y="516.9" width="49" height="8" fill="#efeff7"/><rect x="2230.9" y="509.5" width="49" height="8" fill="#f6f6fa"/><rect x="2230.9" y="502.1" width="49" height="8" fill="#fcfcfd"/><rect x="2230.9" y="494.7" width="49" height="8" fill="#fffcfc"/><rect x="2230.9" y="487.3" width="49" height="8" fill="#fff7f7"/><rect x="2230.9" y="479.89" width="49" height="8" fill="#fff1f2"/><rect x="2230.9" y="472.49" width="49" height="8" fill="#ffeced"/><rect x="2230.9" y="465.09" width="49" height="8" fill="#ffe7e7"/><rect x="2230.9" y="457.69" width="49" height="8" fill="#ffe1e2"/><rect x="2230.9" y="450.29" width="49" height="8" fill="#ffdcdd"/><rect x="2230.9" y="442.88" width="49" height="8" fill="#ffd7d8"/><rect x="2230.9" y="435.48" width="49" height="8" fill="#ffd1d3"/><rect x="2230.9" y="428.08" width="49" height="8" fill="#ffcccd"/><rect x="2230.9" y="420.68" width="49" height="8" fill="#ffc7c8"/><rect x="2230.9" y="413.28" width="49" height="8" fill="#ffc1c3"/><rect x="2230.9" y="405.87" width="49" height="8" fill="#ffbcbe"/><rect x="2230.9" y="398.47" width="49" height="8" fill="#ffb7b9"/><rect x="2230.9" y="391.07" width="49" height="8" fill="#ffb1b4"/><rect x="2230.9" y="383.67" width="49" height="8" fill="#ffacaf"/><rect x="2230.9" y="376.27" width="49" height="8" fill="#ffa7a9"/><rect x="2230.9" y="368.86" width="49" height="8" fill="#ffa2a4"/><rect x="2230.9" y="361.46" width="49" height="8" fill="#ff9d9f"/><rect x="2230.9" y="354.06" width="49" height="8" fill="#ff979a"/><rect x="2230.9" y="346.66" width="49" height="8" fill="#ff9295"/><rect x="2230.9" y="339.26" width="49" height="8" fill="#ff8d90"/><rect x="2230.9" y="331.85" width="49" height="8" fill="#ff888b"/><rect x="2230.9" y="324.45" width="49" height="8" fill="#ff8386"/><rect x="2230.9" y="317.05" width="49" height="8" fill="#ff7e81"/><rect x="2230.9" y="309.65" width="49" height="8" fill="#ff797d"/><rect x="2230.9" y="302.25" width="49" height="8" fill="#ff7478"/><rect x="2230.9" y="294.84" width="49" height="8" fill="#ff6f73"/><rect x="2230.9" y="287.44" width="49" height="8" fill="#ff6a6e"/><rect x="2230.9" y="280.04" width="49" height="8" fill="#ff6569"/><rect x="2230.9" y="272.64" width="49" height="8" fill="#ff6064"/><rect x="2230.9" y="265.24" width="49" height="8" fill="#ff5b5f"/><rect x="2230.9" y="257.83" width="49" height="8" fill="#ff565b"/><rect x="2230.9" y="250.43" width="49" height="8" fill="#ff5156"/><rect x="2230.9" y="243.03" width="49" height="8" fill="#ff4c51"/><rect x="2230.9" y="235.63" width="49" height="8" fill="#ff474c"/><rect x="2230.9" y="228.23" width="49" height="8" fill="#ff4348"/><rect x="2230.9" y="220.82" width="49" height="8" fill="#ff3e43"/><rect x="2230.9" y="213.42" width="49" height="8" fill="#ff393f"/><rect x="2230.9" y="206.02" width="49" height="8" fill="#ff343a"/><rect x="2230.9" y="198.62" width="49" height="8" fill="#ff3036"/><rect x="2230.9" y="191.22" width="49" height="8" fill="#ff2b31"/><rect x="2230.9" y="183.81" width="49" height="8" fill="#ff272d"/><rect x="2230.9" y="176.41" width="49" height="8" fill="#ff2228"/><rect x="2230.9" y="169.01" width="49" height="8" fill="#ff1e24"/><rect x="2230.9" y="161.61" width="49" height="8" fill="#ff1920"/><rect x="2230.9" y="154.21" width="49" height="8" fill="#ff151c"/><rect x="2230.9" y="146.8" width="49" height="8" fill="#ff1118"/><rect x="2230.9" y="139.4" width="49" height="8" fill="#ff0d14"/><rect x="2230.9" y="132" width="49" height="8" fill="#ff0a11"/>
<g font-size="50"><text transform="matrix(1,0,0,1.04,2300,890.4)">0</text><text transform="matrix(1,0,0,1.04,2300,746.25)">2</text><text transform="matrix(1,0,0,1.04,2300,602.1)">4</text><text transform="matrix(1,0,0,1.04,2300,457.96)">6</text><text transform="matrix(1,0,0,1.04,2300,313.81)">8</text><text transform="matrix(1,0,0,1.04,2300,169.66)">10</text></g>
<text transform="matrix(1,0,0,1.04,19.5,83.5)" font-size="84">A</text>
<text transform="matrix(1,0,0,1.04,1577.9,83.5)" font-size="84">B</text>
</svg></body></html>
